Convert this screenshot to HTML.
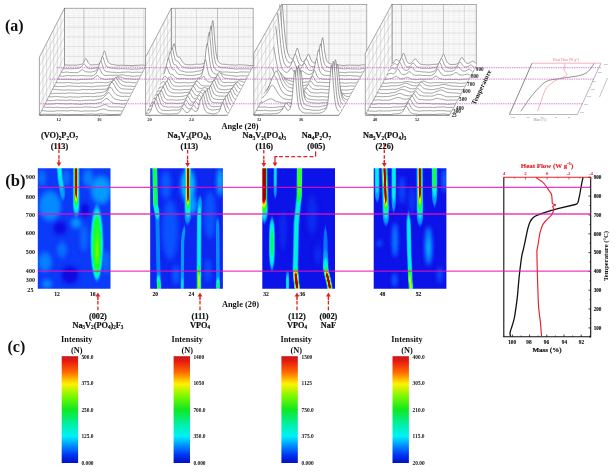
<!DOCTYPE html>
<html><head><meta charset="utf-8"><title>figure</title>
<style>html,body{margin:0;padding:0;background:#fff;}body{width:616px;height:472px;overflow:hidden;font-family:"Liberation Serif",serif;}svg{display:block;filter:blur(0.35px);}</style>
</head><body>
<svg width="616" height="472" viewBox="0 0 616 472" font-family="Liberation Serif, serif" font-weight="bold">
<defs>
<filter id="jet" x="0" y="0" width="1" height="1" color-interpolation-filters="sRGB"><feGaussianBlur stdDeviation="0.75 1.5"/><feComponentTransfer><feFuncR type="table" tableValues="0.07 0.05 0.04 0.02 0.00 0.00 0.00 0.00 0.00 0.15 0.30 0.55 0.80 0.90 1.00 1.00 1.00 0.90 0.80 0.71 0.62"/><feFuncG type="table" tableValues="0.00 0.05 0.30 0.55 0.80 0.90 1.00 1.00 1.00 1.00 1.00 1.00 1.00 0.93 0.85 0.62 0.40 0.23 0.05 0.03 0.00"/><feFuncB type="table" tableValues="0.80 0.90 1.00 1.00 1.00 0.90 0.80 0.55 0.30 0.15 0.00 0.00 0.00 0.00 0.00 0.00 0.00 0.00 0.00 0.00 0.00"/><feFuncA type="linear" slope="0" intercept="1"/></feComponentTransfer></filter>
<linearGradient id="cb" x1="0" y1="0" x2="0" y2="1"><stop offset="0" stop-color="#c81818"/><stop offset="0.05" stop-color="#e81c10"/><stop offset="0.15" stop-color="#ff6a00"/><stop offset="0.26" stop-color="#fff200"/><stop offset="0.37" stop-color="#80f800"/><stop offset="0.5" stop-color="#10e820"/><stop offset="0.63" stop-color="#00f0a0"/><stop offset="0.75" stop-color="#00f0f8"/><stop offset="0.85" stop-color="#0080ff"/><stop offset="0.93" stop-color="#0030f0"/><stop offset="1" stop-color="#0010c4"/></linearGradient>
<clipPath id="hc0"><rect x="37.8" y="168.3" width="72.7" height="120.5"/></clipPath>
<clipPath id="hc1"><rect x="150.2" y="168.3" width="72.7" height="120.5"/></clipPath>
<clipPath id="hc2"><rect x="262.3" y="168.3" width="72.7" height="120.5"/></clipPath>
<clipPath id="hc3"><rect x="373.7" y="168.3" width="72.7" height="120.5"/></clipPath>
<filter id="bl" x="-0.5" y="-0.5" width="2" height="2" color-interpolation-filters="sRGB"><feGaussianBlur stdDeviation="2.2"/></filter>
</defs>
<rect width="616" height="472" fill="#fff"/>
<text x="5" y="31" font-size="16" text-anchor="start" fill="#111" >(a)</text>
<rect x="64.5" y="8.2" width="81.2" height="57.8" fill="#fbfbfb" stroke="#6a6a6a" stroke-width="0.6"/>
<path d="M64.5 64.1h81.2M64.5 62.1h81.2M64.5 60.2h81.2M64.5 58.2h81.2M64.5 54.4h81.2M64.5 52.4h81.2M64.5 50.5h81.2M64.5 48.5h81.2M64.5 44.7h81.2M64.5 42.7h81.2M64.5 40.8h81.2M64.5 38.8h81.2M64.5 35h81.2M64.5 33h81.2M64.5 31.1h81.2M64.5 29.1h81.2M64.5 25.3h81.2M64.5 23.3h81.2M64.5 21.4h81.2M64.5 19.4h81.2M64.5 15.6h81.2M64.5 13.6h81.2M64.5 11.7h81.2M64.5 9.7h81.2M68.9 8.2v57.8M73.9 8.2v57.8M78.9 8.2v57.8M88.9 8.2v57.8M93.9 8.2v57.8M98.9 8.2v57.8M108.9 8.2v57.8M113.9 8.2v57.8M118.9 8.2v57.8M128.9 8.2v57.8M133.9 8.2v57.8M138.9 8.2v57.8" stroke="#ebebeb" stroke-width="0.5" fill="none"/>
<path d="M64.5 56.3h81.2M64.5 46.6h81.2M64.5 36.9h81.2M64.5 27.2h81.2M64.5 17.5h81.2M103.9 8.2v57.8M143.9 8.2v57.8" stroke="#c6c6c6" stroke-width="0.55" fill="none"/>
<path d="M83.9 8.2v57.8M123.9 8.2v57.8" stroke="#9c9c9c" stroke-width="0.6" fill="none"/>
<path d="M39.4 115L39.4 57.2L64.5 8.2L64.5 66Z" fill="#fcfcfc" stroke="#6a6a6a" stroke-width="0.6"/>
<path d="M39.4 105.3L64.5 56.3M39.4 95.6L64.5 46.6M39.4 85.9L64.5 36.9M39.4 76.2L64.5 27.2M39.4 66.5L64.5 17.5M43 108v-57.8M46.6 101v-57.8M50.2 94v-57.8M53.7 87v-57.8M57.3 80v-57.8M60.9 73v-57.8" stroke="#bcbcbc" stroke-width="0.5" fill="none"/>
<path d="M39.4 115h81.2L145.7 66" stroke="#666" stroke-width="0.6" fill="none"/>
<path d="M64.5 65.2L65.2 65L66 65L66.7 65L67.5 65L68.2 65.1L68.9 65.1L69.7 65.2L70.4 65.2L71.1 65.1L71.9 65.1L72.6 65.1L73.4 65.1L74.1 65.1L74.8 65.2L75.6 65.2L76.3 65.2L77 65.1L77.8 64.9L78.5 64.8L79.3 64.7L80 64.5L80.7 64.4L81.5 64.3L82.2 64L83 63.3L83.7 62.3L84.4 60.8L85.2 59.2L85.9 58.4L86.6 59.2L87.4 60.9L88.1 62.5L88.9 63.6L89.6 64.4L90.3 64.8L91.1 64.9L91.8 64.9L92.6 64.8L93.3 64.8L94 64.7L94.8 64.7L95.5 64.7L96.2 64.7L97 64.6L97.7 64.4L98.5 64.2L99.2 63.8L99.9 63.1L100.7 62.2L101.4 60.6L102.1 58.3L102.9 55.4L103.6 52.4L104.4 50.9L105.1 52.1L105.8 54.8L106.6 57.8L107.3 60.1L108.1 61.7L108.8 62.8L109.5 63.4L110.3 63.9L111 64.2L111.7 64.3L112.5 64.4L113.2 64.5L114 64.6L114.7 64.8L115.4 64.9L116.2 65.1L116.9 65.2L117.6 65.3L118.4 65.4L119.1 65.4L119.9 65.3L120.6 65.2L121.3 65.2L122.1 65.2L122.8 65.3L123.6 65.3L124.3 65.4L125 65.4L125.8 65.4L126.5 65.4L127.2 65.4L128 65.4L128.7 65.5L129.5 65.5L130.2 65.7L130.9 65.7L131.7 65.8L132.4 65.7L133.2 65.6L133.9 65.5L134.6 65.4L135.4 65.4L136.1 65.3L136.8 65.3L137.6 65.3L138.3 65.3L139.1 65.2L139.8 65.1L140.5 65.1L141.3 65L142 65L142.7 65.1L143.5 65.2L144.2 65.3L145 65.4L145.7 65.4L145.7 66.5L64.5 66.5Z" fill="#fff" stroke="none"/>
<path d="M64.5 65.2L65.2 65L66 65L66.7 65L67.5 65L68.2 65.1L68.9 65.1L69.7 65.2L70.4 65.2L71.1 65.1L71.9 65.1L72.6 65.1L73.4 65.1L74.1 65.1L74.8 65.2L75.6 65.2L76.3 65.2L77 65.1L77.8 64.9L78.5 64.8L79.3 64.7L80 64.5L80.7 64.4L81.5 64.3L82.2 64L83 63.3L83.7 62.3L84.4 60.8L85.2 59.2L85.9 58.4L86.6 59.2L87.4 60.9L88.1 62.5L88.9 63.6L89.6 64.4L90.3 64.8L91.1 64.9L91.8 64.9L92.6 64.8L93.3 64.8L94 64.7L94.8 64.7L95.5 64.7L96.2 64.7L97 64.6L97.7 64.4L98.5 64.2L99.2 63.8L99.9 63.1L100.7 62.2L101.4 60.6L102.1 58.3L102.9 55.4L103.6 52.4L104.4 50.9L105.1 52.1L105.8 54.8L106.6 57.8L107.3 60.1L108.1 61.7L108.8 62.8L109.5 63.4L110.3 63.9L111 64.2L111.7 64.3L112.5 64.4L113.2 64.5L114 64.6L114.7 64.8L115.4 64.9L116.2 65.1L116.9 65.2L117.6 65.3L118.4 65.4L119.1 65.4L119.9 65.3L120.6 65.2L121.3 65.2L122.1 65.2L122.8 65.3L123.6 65.3L124.3 65.4L125 65.4L125.8 65.4L126.5 65.4L127.2 65.4L128 65.4L128.7 65.5L129.5 65.5L130.2 65.7L130.9 65.7L131.7 65.8L132.4 65.7L133.2 65.6L133.9 65.5L134.6 65.4L135.4 65.4L136.1 65.3L136.8 65.3L137.6 65.3L138.3 65.3L139.1 65.2L139.8 65.1L140.5 65.1L141.3 65L142 65L142.7 65.1L143.5 65.2L144.2 65.3L145 65.4L145.7 65.4" fill="none" stroke="#666" stroke-width="0.62" stroke-linejoin="round"/>
<path d="M62.7 69.2L63.4 69.1L64.2 69L64.9 68.8L65.7 68.7L66.4 68.6L67.1 68.6L67.9 68.6L68.6 68.7L69.4 68.7L70.1 68.8L70.8 68.8L71.6 68.7L72.3 68.7L73 68.6L73.8 68.6L74.5 68.6L75.3 68.6L76 68.6L76.7 68.6L77.5 68.5L78.2 68.3L78.9 68.1L79.7 67.8L80.4 67.5L81.2 67L81.9 66.3L82.6 65.3L83.4 64.2L84.1 63.7L84.9 64.3L85.6 65.5L86.3 66.6L87.1 67.4L87.8 67.9L88.5 68.3L89.3 68.6L90 68.7L90.8 68.7L91.5 68.7L92.2 68.6L93 68.5L93.7 68.3L94.4 68.2L95.2 68.2L95.9 68.1L96.7 67.9L97.4 67.7L98.1 67.2L98.9 66.3L99.6 64.9L100.4 62.9L101.1 60.3L101.8 57.8L102.6 56.6L103.3 57.7L104 60.2L104.8 62.8L105.5 64.8L106.3 66.1L107 66.8L107.7 67.3L108.5 67.5L109.2 67.7L110 67.9L110.7 68.1L111.4 68.1L112.2 68.2L112.9 68.2L113.6 68.2L114.4 68.3L115.1 68.4L115.9 68.5L116.6 68.6L117.3 68.7L118.1 68.8L118.8 68.8L119.5 68.8L120.3 68.7L121 68.7L121.8 68.6L122.5 68.7L123.2 68.7L124 68.8L124.7 68.8L125.5 68.8L126.2 68.8L126.9 68.8L127.7 68.8L128.4 68.9L129.1 68.9L129.9 69.1L130.6 69.2L131.4 69.3L132.1 69.3L132.8 69.3L133.6 69.2L134.3 69.1L135 69.1L135.8 69L136.5 69L137.3 69L138 69L138.7 68.9L139.5 68.9L140.2 68.8L141 68.7L141.7 68.7L142.4 68.7L143.2 68.7L143.9 68.8L143.9 70L62.7 70Z" fill="#fff" stroke="none"/>
<path d="M62.7 69.2L63.4 69.1L64.2 69L64.9 68.8L65.7 68.7L66.4 68.6L67.1 68.6L67.9 68.6L68.6 68.7L69.4 68.7L70.1 68.8L70.8 68.8L71.6 68.7L72.3 68.7L73 68.6L73.8 68.6L74.5 68.6L75.3 68.6L76 68.6L76.7 68.6L77.5 68.5L78.2 68.3L78.9 68.1L79.7 67.8L80.4 67.5L81.2 67L81.9 66.3L82.6 65.3L83.4 64.2L84.1 63.7L84.9 64.3L85.6 65.5L86.3 66.6L87.1 67.4L87.8 67.9L88.5 68.3L89.3 68.6L90 68.7L90.8 68.7L91.5 68.7L92.2 68.6L93 68.5L93.7 68.3L94.4 68.2L95.2 68.2L95.9 68.1L96.7 67.9L97.4 67.7L98.1 67.2L98.9 66.3L99.6 64.9L100.4 62.9L101.1 60.3L101.8 57.8L102.6 56.6L103.3 57.7L104 60.2L104.8 62.8L105.5 64.8L106.3 66.1L107 66.8L107.7 67.3L108.5 67.5L109.2 67.7L110 67.9L110.7 68.1L111.4 68.1L112.2 68.2L112.9 68.2L113.6 68.2L114.4 68.3L115.1 68.4L115.9 68.5L116.6 68.6L117.3 68.7L118.1 68.8L118.8 68.8L119.5 68.8L120.3 68.7L121 68.7L121.8 68.6L122.5 68.7L123.2 68.7L124 68.8L124.7 68.8L125.5 68.8L126.2 68.8L126.9 68.8L127.7 68.8L128.4 68.9L129.1 68.9L129.9 69.1L130.6 69.2L131.4 69.3L132.1 69.3L132.8 69.3L133.6 69.2L134.3 69.1L135 69.1L135.8 69L136.5 69L137.3 69L138 69L138.7 68.9L139.5 68.9L140.2 68.8L141 68.7L141.7 68.7L142.4 68.7L143.2 68.7L143.9 68.8" fill="none" stroke="#666" stroke-width="0.62" stroke-linejoin="round"/>
<path d="M60.9 72.3L61.7 72.3L62.4 72.4L63.1 72.4L63.9 72.3L64.6 72.3L65.3 72.2L66.1 72.1L66.8 72.1L67.6 72.1L68.3 72.2L69 72.3L69.8 72.4L70.5 72.5L71.2 72.5L72 72.5L72.7 72.5L73.5 72.5L74.2 72.5L74.9 72.6L75.7 72.6L76.4 72.6L77.2 72.5L77.9 72.4L78.6 72.1L79.4 71.7L80.1 71.2L80.8 70.6L81.6 70L82.3 69.7L83.1 70.1L83.8 70.7L84.5 71.2L85.3 71.6L86 71.8L86.8 71.9L87.5 71.9L88.2 72L89 72L89.7 72.1L90.4 72.1L91.2 72L91.9 71.9L92.7 71.7L93.4 71.5L94.1 71.3L94.9 71.1L95.6 70.8L96.3 70.4L97.1 69.7L97.8 68.6L98.6 66.8L99.3 64.6L100 62.3L100.8 61.2L101.5 62.2L102.3 64.5L103 66.9L103.7 68.9L104.5 70.2L105.2 71L105.9 71.4L106.7 71.6L107.4 71.8L108.2 71.8L108.9 71.9L109.6 72L110.4 72.1L111.1 72.2L111.8 72.3L112.6 72.3L113.3 72.3L114.1 72.3L114.8 72.3L115.5 72.4L116.3 72.5L117 72.6L117.8 72.6L118.5 72.7L119.2 72.6L120 72.6L120.7 72.4L121.4 72.3L122.2 72.2L122.9 72.2L123.7 72.2L124.4 72.2L125.1 72.2L125.9 72.1L126.6 72.1L127.4 72L128.1 72L128.8 72L129.6 72.1L130.3 72.1L131 72.3L131.8 72.4L132.5 72.4L133.3 72.4L134 72.3L134.7 72.3L135.5 72.2L136.2 72.2L136.9 72.2L137.7 72.2L138.4 72.3L139.2 72.3L139.9 72.3L140.6 72.3L141.4 72.2L142.1 72.2L142.1 73.5L60.9 73.5Z" fill="#fff" stroke="none"/>
<path d="M60.9 72.3L61.7 72.3L62.4 72.4L63.1 72.4L63.9 72.3L64.6 72.3L65.3 72.2L66.1 72.1L66.8 72.1L67.6 72.1L68.3 72.2L69 72.3L69.8 72.4L70.5 72.5L71.2 72.5L72 72.5L72.7 72.5L73.5 72.5L74.2 72.5L74.9 72.6L75.7 72.6L76.4 72.6L77.2 72.5L77.9 72.4L78.6 72.1L79.4 71.7L80.1 71.2L80.8 70.6L81.6 70L82.3 69.7L83.1 70.1L83.8 70.7L84.5 71.2L85.3 71.6L86 71.8L86.8 71.9L87.5 71.9L88.2 72L89 72L89.7 72.1L90.4 72.1L91.2 72L91.9 71.9L92.7 71.7L93.4 71.5L94.1 71.3L94.9 71.1L95.6 70.8L96.3 70.4L97.1 69.7L97.8 68.6L98.6 66.8L99.3 64.6L100 62.3L100.8 61.2L101.5 62.2L102.3 64.5L103 66.9L103.7 68.9L104.5 70.2L105.2 71L105.9 71.4L106.7 71.6L107.4 71.8L108.2 71.8L108.9 71.9L109.6 72L110.4 72.1L111.1 72.2L111.8 72.3L112.6 72.3L113.3 72.3L114.1 72.3L114.8 72.3L115.5 72.4L116.3 72.5L117 72.6L117.8 72.6L118.5 72.7L119.2 72.6L120 72.6L120.7 72.4L121.4 72.3L122.2 72.2L122.9 72.2L123.7 72.2L124.4 72.2L125.1 72.2L125.9 72.1L126.6 72.1L127.4 72L128.1 72L128.8 72L129.6 72.1L130.3 72.1L131 72.3L131.8 72.4L132.5 72.4L133.3 72.4L134 72.3L134.7 72.3L135.5 72.2L136.2 72.2L136.9 72.2L137.7 72.2L138.4 72.3L139.2 72.3L139.9 72.3L140.6 72.3L141.4 72.2L142.1 72.2" fill="none" stroke="#666" stroke-width="0.62" stroke-linejoin="round"/>
<path d="M59.1 76.2L59.9 76.1L60.6 76.1L61.3 76.2L62.1 76.2L62.8 76.2L63.6 76.2L64.3 76.1L65 75.9L65.8 75.8L66.5 75.7L67.2 75.6L68 75.6L68.7 75.6L69.5 75.7L70.2 75.7L70.9 75.8L71.7 75.8L72.4 75.7L73.1 75.7L73.9 75.7L74.6 75.7L75.4 75.7L76.1 75.8L76.8 75.8L77.6 75.8L78.3 75.8L79.1 75.7L79.8 75.6L80.5 75.5L81.3 75.4L82 75.5L82.7 75.5L83.5 75.6L84.2 75.7L85 75.8L85.7 75.8L86.4 75.8L87.2 75.8L87.9 75.8L88.6 75.8L89.4 75.9L90.1 75.9L90.9 76L91.6 75.9L92.3 75.7L93.1 75.5L93.8 75.2L94.6 74.8L95.3 74.2L96 73.3L96.8 72.1L97.5 70.4L98.2 68.8L99 68L99.7 68.6L100.5 70.2L101.2 71.9L101.9 73.2L102.7 74.2L103.4 74.8L104.2 75.2L104.9 75.4L105.6 75.5L106.4 75.5L107.1 75.4L107.8 75.4L108.6 75.3L109.3 75.3L110.1 75.3L110.8 75.3L111.5 75.4L112.3 75.4L113 75.4L113.7 75.3L114.5 75.3L115.2 75.2L116 75.2L116.7 75.3L117.4 75.3L118.2 75.3L118.9 75.2L119.7 75.1L120.4 75L121.1 74.9L121.9 74.9L122.6 74.9L123.3 75.1L124.1 75.2L124.8 75.4L125.6 75.6L126.3 75.7L127 75.7L127.8 75.7L128.5 75.7L129.2 75.8L130 75.9L130.7 76L131.5 76.1L132.2 76.2L132.9 76.3L133.7 76.3L134.4 76.2L135.2 76.1L135.9 76L136.6 76L137.4 75.9L138.1 75.9L138.8 75.9L139.6 75.9L140.3 75.8L140.3 77L59.1 77Z" fill="#fff" stroke="none"/>
<path d="M59.1 76.2L59.9 76.1L60.6 76.1L61.3 76.2L62.1 76.2L62.8 76.2L63.6 76.2L64.3 76.1L65 75.9L65.8 75.8L66.5 75.7L67.2 75.6L68 75.6L68.7 75.6L69.5 75.7L70.2 75.7L70.9 75.8L71.7 75.8L72.4 75.7L73.1 75.7L73.9 75.7L74.6 75.7L75.4 75.7L76.1 75.8L76.8 75.8L77.6 75.8L78.3 75.8L79.1 75.7L79.8 75.6L80.5 75.5L81.3 75.4L82 75.5L82.7 75.5L83.5 75.6L84.2 75.7L85 75.8L85.7 75.8L86.4 75.8L87.2 75.8L87.9 75.8L88.6 75.8L89.4 75.9L90.1 75.9L90.9 76L91.6 75.9L92.3 75.7L93.1 75.5L93.8 75.2L94.6 74.8L95.3 74.2L96 73.3L96.8 72.1L97.5 70.4L98.2 68.8L99 68L99.7 68.6L100.5 70.2L101.2 71.9L101.9 73.2L102.7 74.2L103.4 74.8L104.2 75.2L104.9 75.4L105.6 75.5L106.4 75.5L107.1 75.4L107.8 75.4L108.6 75.3L109.3 75.3L110.1 75.3L110.8 75.3L111.5 75.4L112.3 75.4L113 75.4L113.7 75.3L114.5 75.3L115.2 75.2L116 75.2L116.7 75.3L117.4 75.3L118.2 75.3L118.9 75.2L119.7 75.1L120.4 75L121.1 74.9L121.9 74.9L122.6 74.9L123.3 75.1L124.1 75.2L124.8 75.4L125.6 75.6L126.3 75.7L127 75.7L127.8 75.7L128.5 75.7L129.2 75.8L130 75.9L130.7 76L131.5 76.1L132.2 76.2L132.9 76.3L133.7 76.3L134.4 76.2L135.2 76.1L135.9 76L136.6 76L137.4 75.9L138.1 75.9L138.8 75.9L139.6 75.9L140.3 75.8" fill="none" stroke="#666" stroke-width="0.62" stroke-linejoin="round"/>
<path d="M57.3 79.2L58.1 79.3L58.8 79.3L59.5 79.2L60.3 79.2L61 79.3L61.8 79.3L62.5 79.4L63.2 79.4L64 79.4L64.7 79.4L65.4 79.3L66.2 79.2L66.9 79.2L67.7 79.2L68.4 79.2L69.1 79.3L69.9 79.4L70.6 79.5L71.4 79.6L72.1 79.6L72.8 79.6L73.6 79.6L74.3 79.6L75 79.6L75.8 79.7L76.5 79.8L77.3 79.8L78 79.8L78.7 79.7L79.5 79.6L80.2 79.4L81 79.3L81.7 79.3L82.4 79.2L83.2 79.3L83.9 79.3L84.6 79.3L85.4 79.3L86.1 79.3L86.9 79.2L87.6 79.2L88.3 79.1L89.1 79.1L89.8 79.2L90.5 79.2L91.3 79.1L92 79L92.8 78.8L93.5 78.4L94.2 77.9L95 77.3L95.7 76.5L96.5 75.8L97.2 75.5L97.9 75.9L98.7 76.6L99.4 77.4L100.1 77.9L100.9 78.3L101.6 78.6L102.4 78.8L103.1 79L103.8 79.2L104.6 79.3L105.3 79.4L106 79.4L106.8 79.4L107.5 79.3L108.3 79.2L109 79.2L109.7 79.1L110.5 79.1L111.2 79.1L112 79L112.7 79L113.4 78.8L114.2 78.5L114.9 78.3L115.6 77.9L116.4 77.6L117.1 77.3L117.9 77L118.6 76.8L119.3 76.8L120.1 76.9L120.8 77.1L121.6 77.3L122.3 77.6L123 77.9L123.8 78.1L124.5 78.4L125.2 78.6L126 78.7L126.7 78.8L127.5 78.8L128.2 78.8L128.9 78.8L129.7 78.8L130.4 78.9L131.1 79L131.9 79.1L132.6 79.2L133.4 79.3L134.1 79.3L134.8 79.3L135.6 79.2L136.3 79.2L137.1 79.1L137.8 79.2L138.5 79.2L138.5 80.5L57.3 80.5Z" fill="#fff" stroke="none"/>
<path d="M57.3 79.2L58.1 79.3L58.8 79.3L59.5 79.2L60.3 79.2L61 79.3L61.8 79.3L62.5 79.4L63.2 79.4L64 79.4L64.7 79.4L65.4 79.3L66.2 79.2L66.9 79.2L67.7 79.2L68.4 79.2L69.1 79.3L69.9 79.4L70.6 79.5L71.4 79.6L72.1 79.6L72.8 79.6L73.6 79.6L74.3 79.6L75 79.6L75.8 79.7L76.5 79.8L77.3 79.8L78 79.8L78.7 79.7L79.5 79.6L80.2 79.4L81 79.3L81.7 79.3L82.4 79.2L83.2 79.3L83.9 79.3L84.6 79.3L85.4 79.3L86.1 79.3L86.9 79.2L87.6 79.2L88.3 79.1L89.1 79.1L89.8 79.2L90.5 79.2L91.3 79.1L92 79L92.8 78.8L93.5 78.4L94.2 77.9L95 77.3L95.7 76.5L96.5 75.8L97.2 75.5L97.9 75.9L98.7 76.6L99.4 77.4L100.1 77.9L100.9 78.3L101.6 78.6L102.4 78.8L103.1 79L103.8 79.2L104.6 79.3L105.3 79.4L106 79.4L106.8 79.4L107.5 79.3L108.3 79.2L109 79.2L109.7 79.1L110.5 79.1L111.2 79.1L112 79L112.7 79L113.4 78.8L114.2 78.5L114.9 78.3L115.6 77.9L116.4 77.6L117.1 77.3L117.9 77L118.6 76.8L119.3 76.8L120.1 76.9L120.8 77.1L121.6 77.3L122.3 77.6L123 77.9L123.8 78.1L124.5 78.4L125.2 78.6L126 78.7L126.7 78.8L127.5 78.8L128.2 78.8L128.9 78.8L129.7 78.8L130.4 78.9L131.1 79L131.9 79.1L132.6 79.2L133.4 79.3L134.1 79.3L134.8 79.3L135.6 79.2L136.3 79.2L137.1 79.1L137.8 79.2L138.5 79.2" fill="none" stroke="#666" stroke-width="0.62" stroke-linejoin="round"/>
<path d="M55.5 82.6L56.3 82.7L57 82.7L57.8 82.8L58.5 82.8L59.2 82.8L60 82.7L60.7 82.7L61.4 82.7L62.2 82.8L62.9 82.8L63.7 82.8L64.4 82.9L65.1 82.8L65.9 82.7L66.6 82.6L67.3 82.5L68.1 82.5L68.8 82.6L69.6 82.6L70.3 82.7L71 82.8L71.8 82.9L72.5 83L73.3 83L74 83L74.7 83L75.5 83.1L76.2 83.1L76.9 83.2L77.7 83.3L78.4 83.3L79.2 83.2L79.9 83.1L80.6 83L81.4 82.9L82.1 82.9L82.8 82.9L83.6 82.9L84.3 82.9L85.1 83L85.8 83L86.5 83L87.3 82.9L88 82.9L88.8 82.9L89.5 82.9L90.2 82.9L91 83L91.7 83L92.4 83L93.2 82.9L93.9 82.7L94.7 82.6L95.4 82.5L96.1 82.4L96.9 82.4L97.6 82.4L98.4 82.5L99.1 82.5L99.8 82.5L100.6 82.4L101.3 82.4L102 82.4L102.8 82.5L103.5 82.5L104.3 82.6L105 82.7L105.7 82.7L106.5 82.7L107.2 82.6L107.9 82.5L108.7 82.3L109.4 82.1L110.2 81.9L110.9 81.7L111.6 81.5L112.4 81.1L113.1 80.6L113.9 80L114.6 79.2L115.3 78.4L116.1 77.7L116.8 77.2L117.5 77.1L118.3 77.5L119 78.2L119.8 79L120.5 79.8L121.2 80.4L122 80.9L122.7 81.3L123.4 81.6L124.2 81.9L124.9 82.1L125.7 82.2L126.4 82.3L127.1 82.3L127.9 82.3L128.6 82.3L129.4 82.3L130.1 82.3L130.8 82.4L131.6 82.5L132.3 82.6L133 82.7L133.8 82.8L134.5 82.8L135.3 82.7L136 82.6L136.7 82.6L136.7 84L55.5 84Z" fill="#fff" stroke="none"/>
<path d="M55.5 82.6L56.3 82.7L57 82.7L57.8 82.8L58.5 82.8L59.2 82.8L60 82.7L60.7 82.7L61.4 82.7L62.2 82.8L62.9 82.8L63.7 82.8L64.4 82.9L65.1 82.8L65.9 82.7L66.6 82.6L67.3 82.5L68.1 82.5L68.8 82.6L69.6 82.6L70.3 82.7L71 82.8L71.8 82.9L72.5 83L73.3 83L74 83L74.7 83L75.5 83.1L76.2 83.1L76.9 83.2L77.7 83.3L78.4 83.3L79.2 83.2L79.9 83.1L80.6 83L81.4 82.9L82.1 82.9L82.8 82.9L83.6 82.9L84.3 82.9L85.1 83L85.8 83L86.5 83L87.3 82.9L88 82.9L88.8 82.9L89.5 82.9L90.2 82.9L91 83L91.7 83L92.4 83L93.2 82.9L93.9 82.7L94.7 82.6L95.4 82.5L96.1 82.4L96.9 82.4L97.6 82.4L98.4 82.5L99.1 82.5L99.8 82.5L100.6 82.4L101.3 82.4L102 82.4L102.8 82.5L103.5 82.5L104.3 82.6L105 82.7L105.7 82.7L106.5 82.7L107.2 82.6L107.9 82.5L108.7 82.3L109.4 82.1L110.2 81.9L110.9 81.7L111.6 81.5L112.4 81.1L113.1 80.6L113.9 80L114.6 79.2L115.3 78.4L116.1 77.7L116.8 77.2L117.5 77.1L118.3 77.5L119 78.2L119.8 79L120.5 79.8L121.2 80.4L122 80.9L122.7 81.3L123.4 81.6L124.2 81.9L124.9 82.1L125.7 82.2L126.4 82.3L127.1 82.3L127.9 82.3L128.6 82.3L129.4 82.3L130.1 82.3L130.8 82.4L131.6 82.5L132.3 82.6L133 82.7L133.8 82.8L134.5 82.8L135.3 82.7L136 82.6L136.7 82.6" fill="none" stroke="#666" stroke-width="0.62" stroke-linejoin="round"/>
<path d="M53.7 86.4L54.5 86.3L55.2 86.3L56 86.4L56.7 86.5L57.4 86.5L58.2 86.6L58.9 86.6L59.6 86.5L60.4 86.5L61.1 86.5L61.9 86.4L62.6 86.5L63.3 86.5L64.1 86.5L64.8 86.4L65.6 86.4L66.3 86.2L67 86.1L67.8 86L68.5 85.9L69.2 85.9L70 86L70.7 86L71.5 86.1L72.2 86.2L72.9 86.2L73.7 86.2L74.4 86.2L75.2 86.2L75.9 86.3L76.6 86.3L77.4 86.4L78.1 86.5L78.8 86.5L79.6 86.5L80.3 86.4L81.1 86.3L81.8 86.2L82.5 86.2L83.3 86.2L84 86.3L84.7 86.4L85.5 86.4L86.2 86.5L87 86.5L87.7 86.5L88.4 86.5L89.2 86.5L89.9 86.6L90.7 86.6L91.4 86.7L92.1 86.7L92.9 86.7L93.6 86.6L94.3 86.5L95.1 86.3L95.8 86.2L96.6 86.1L97.3 86.1L98 86.1L98.8 86.1L99.5 86.1L100.2 86L101 85.9L101.7 85.9L102.5 85.8L103.2 85.8L103.9 85.8L104.7 85.8L105.4 85.8L106.2 85.7L106.9 85.6L107.6 85.3L108.4 85L109.1 84.6L109.8 84.1L110.6 83.5L111.3 82.7L112.1 81.9L112.8 80.8L113.5 79.7L114.3 78.7L115 77.9L115.8 77.7L116.5 78.1L117.2 79.1L118 80.3L118.7 81.5L119.4 82.7L120.2 83.6L120.9 84.3L121.7 84.8L122.4 85.2L123.1 85.4L123.9 85.6L124.6 85.7L125.3 85.9L126.1 86L126.8 86.1L127.6 86.1L128.3 86.1L129 86.1L129.8 86.1L130.5 86.1L131.3 86.2L132 86.3L132.7 86.4L133.5 86.5L134.2 86.5L134.9 86.5L134.9 87.5L53.7 87.5Z" fill="#fff" stroke="none"/>
<path d="M53.7 86.4L54.5 86.3L55.2 86.3L56 86.4L56.7 86.5L57.4 86.5L58.2 86.6L58.9 86.6L59.6 86.5L60.4 86.5L61.1 86.5L61.9 86.4L62.6 86.5L63.3 86.5L64.1 86.5L64.8 86.4L65.6 86.4L66.3 86.2L67 86.1L67.8 86L68.5 85.9L69.2 85.9L70 86L70.7 86L71.5 86.1L72.2 86.2L72.9 86.2L73.7 86.2L74.4 86.2L75.2 86.2L75.9 86.3L76.6 86.3L77.4 86.4L78.1 86.5L78.8 86.5L79.6 86.5L80.3 86.4L81.1 86.3L81.8 86.2L82.5 86.2L83.3 86.2L84 86.3L84.7 86.4L85.5 86.4L86.2 86.5L87 86.5L87.7 86.5L88.4 86.5L89.2 86.5L89.9 86.6L90.7 86.6L91.4 86.7L92.1 86.7L92.9 86.7L93.6 86.6L94.3 86.5L95.1 86.3L95.8 86.2L96.6 86.1L97.3 86.1L98 86.1L98.8 86.1L99.5 86.1L100.2 86L101 85.9L101.7 85.9L102.5 85.8L103.2 85.8L103.9 85.8L104.7 85.8L105.4 85.8L106.2 85.7L106.9 85.6L107.6 85.3L108.4 85L109.1 84.6L109.8 84.1L110.6 83.5L111.3 82.7L112.1 81.9L112.8 80.8L113.5 79.7L114.3 78.7L115 77.9L115.8 77.7L116.5 78.1L117.2 79.1L118 80.3L118.7 81.5L119.4 82.7L120.2 83.6L120.9 84.3L121.7 84.8L122.4 85.2L123.1 85.4L123.9 85.6L124.6 85.7L125.3 85.9L126.1 86L126.8 86.1L127.6 86.1L128.3 86.1L129 86.1L129.8 86.1L130.5 86.1L131.3 86.2L132 86.3L132.7 86.4L133.5 86.5L134.2 86.5L134.9 86.5" fill="none" stroke="#666" stroke-width="0.62" stroke-linejoin="round"/>
<path d="M52 89.8L52.7 89.7L53.4 89.6L54.2 89.5L54.9 89.4L55.6 89.4L56.4 89.5L57.1 89.6L57.9 89.7L58.6 89.8L59.3 89.8L60.1 89.8L60.8 89.8L61.5 89.9L62.3 89.9L63 90L63.8 90.1L64.5 90.1L65.2 90.1L66 90.1L66.7 90L67.5 89.9L68.2 89.9L68.9 89.8L69.7 89.8L70.4 89.9L71.1 90L71.9 90L72.6 90.1L73.4 90.1L74.1 90.1L74.8 90L75.6 90L76.3 90.1L77 90.1L77.8 90.1L78.5 90.2L79.3 90.1L80 90L80.7 89.9L81.5 89.7L82.2 89.6L83 89.5L83.7 89.5L84.4 89.5L85.2 89.6L85.9 89.6L86.6 89.6L87.4 89.6L88.1 89.5L88.9 89.5L89.6 89.5L90.3 89.6L91.1 89.6L91.8 89.7L92.6 89.8L93.3 89.7L94 89.7L94.8 89.6L95.5 89.5L96.2 89.4L97 89.3L97.7 89.4L98.5 89.4L99.2 89.4L99.9 89.4L100.7 89.4L101.4 89.4L102.1 89.3L102.9 89.3L103.6 89.2L104.4 89.2L105.1 89.2L105.8 89.1L106.6 88.9L107.3 88.5L108.1 87.9L108.8 87.1L109.5 86.1L110.3 85L111 83.7L111.7 82.4L112.5 81.2L113.2 80.3L114 80L114.7 80.4L115.4 81.4L116.2 82.6L116.9 83.9L117.6 85.1L118.4 86.2L119.1 87.1L119.9 87.8L120.6 88.3L121.3 88.6L122.1 88.8L122.8 88.9L123.6 88.9L124.3 89L125 89L125.8 89.1L126.5 89.2L127.2 89.2L128 89.2L128.7 89.2L129.5 89.2L130.2 89.2L130.9 89.3L131.7 89.4L132.4 89.5L133.2 89.6L133.2 91L52 91Z" fill="#fff" stroke="none"/>
<path d="M52 89.8L52.7 89.7L53.4 89.6L54.2 89.5L54.9 89.4L55.6 89.4L56.4 89.5L57.1 89.6L57.9 89.7L58.6 89.8L59.3 89.8L60.1 89.8L60.8 89.8L61.5 89.9L62.3 89.9L63 90L63.8 90.1L64.5 90.1L65.2 90.1L66 90.1L66.7 90L67.5 89.9L68.2 89.9L68.9 89.8L69.7 89.8L70.4 89.9L71.1 90L71.9 90L72.6 90.1L73.4 90.1L74.1 90.1L74.8 90L75.6 90L76.3 90.1L77 90.1L77.8 90.1L78.5 90.2L79.3 90.1L80 90L80.7 89.9L81.5 89.7L82.2 89.6L83 89.5L83.7 89.5L84.4 89.5L85.2 89.6L85.9 89.6L86.6 89.6L87.4 89.6L88.1 89.5L88.9 89.5L89.6 89.5L90.3 89.6L91.1 89.6L91.8 89.7L92.6 89.8L93.3 89.7L94 89.7L94.8 89.6L95.5 89.5L96.2 89.4L97 89.3L97.7 89.4L98.5 89.4L99.2 89.4L99.9 89.4L100.7 89.4L101.4 89.4L102.1 89.3L102.9 89.3L103.6 89.2L104.4 89.2L105.1 89.2L105.8 89.1L106.6 88.9L107.3 88.5L108.1 87.9L108.8 87.1L109.5 86.1L110.3 85L111 83.7L111.7 82.4L112.5 81.2L113.2 80.3L114 80L114.7 80.4L115.4 81.4L116.2 82.6L116.9 83.9L117.6 85.1L118.4 86.2L119.1 87.1L119.9 87.8L120.6 88.3L121.3 88.6L122.1 88.8L122.8 88.9L123.6 88.9L124.3 89L125 89L125.8 89.1L126.5 89.2L127.2 89.2L128 89.2L128.7 89.2L129.5 89.2L130.2 89.2L130.9 89.3L131.7 89.4L132.4 89.5L133.2 89.6" fill="none" stroke="#666" stroke-width="0.62" stroke-linejoin="round"/>
<path d="M50.2 93.7L50.9 93.7L51.6 93.7L52.4 93.7L53.1 93.6L53.8 93.4L54.6 93.3L55.3 93.3L56.1 93.2L56.8 93.3L57.5 93.3L58.3 93.4L59 93.4L59.8 93.4L60.5 93.4L61.2 93.3L62 93.3L62.7 93.3L63.4 93.3L64.2 93.4L64.9 93.4L65.7 93.4L66.4 93.3L67.1 93.2L67.9 93.1L68.6 93L69.3 92.9L70.1 92.9L70.8 93L71.6 93.1L72.3 93.1L73 93.2L73.8 93.2L74.5 93.2L75.3 93.2L76 93.3L76.7 93.3L77.5 93.4L78.2 93.5L78.9 93.6L79.7 93.6L80.4 93.6L81.2 93.5L81.9 93.4L82.6 93.3L83.4 93.3L84.1 93.3L84.9 93.3L85.6 93.4L86.3 93.4L87.1 93.4L87.8 93.4L88.5 93.4L89.3 93.4L90 93.4L90.8 93.4L91.5 93.5L92.2 93.5L93 93.5L93.7 93.5L94.4 93.4L95.2 93.2L95.9 93L96.7 92.9L97.4 92.8L98.1 92.7L98.9 92.7L99.6 92.6L100.4 92.6L101.1 92.5L101.8 92.3L102.6 92.2L103.3 92L104 91.8L104.8 91.6L105.5 91.2L106.3 90.8L107 90.1L107.7 89.1L108.5 87.9L109.2 86.4L109.9 84.9L110.7 83.5L111.4 82.5L112.2 82.2L112.9 82.8L113.6 84L114.4 85.4L115.1 86.8L115.9 88.1L116.6 89.3L117.3 90.2L118.1 91L118.8 91.6L119.5 92.1L120.3 92.5L121 92.8L121.8 93L122.5 93L123.2 93L124 93L124.7 93L125.5 93.1L126.2 93.1L126.9 93.2L127.7 93.2L128.4 93.2L129.1 93.1L129.9 93.1L130.6 93L131.4 93L131.4 94.5L50.2 94.5Z" fill="#fff" stroke="none"/>
<path d="M50.2 93.7L50.9 93.7L51.6 93.7L52.4 93.7L53.1 93.6L53.8 93.4L54.6 93.3L55.3 93.3L56.1 93.2L56.8 93.3L57.5 93.3L58.3 93.4L59 93.4L59.8 93.4L60.5 93.4L61.2 93.3L62 93.3L62.7 93.3L63.4 93.3L64.2 93.4L64.9 93.4L65.7 93.4L66.4 93.3L67.1 93.2L67.9 93.1L68.6 93L69.3 92.9L70.1 92.9L70.8 93L71.6 93.1L72.3 93.1L73 93.2L73.8 93.2L74.5 93.2L75.3 93.2L76 93.3L76.7 93.3L77.5 93.4L78.2 93.5L78.9 93.6L79.7 93.6L80.4 93.6L81.2 93.5L81.9 93.4L82.6 93.3L83.4 93.3L84.1 93.3L84.9 93.3L85.6 93.4L86.3 93.4L87.1 93.4L87.8 93.4L88.5 93.4L89.3 93.4L90 93.4L90.8 93.4L91.5 93.5L92.2 93.5L93 93.5L93.7 93.5L94.4 93.4L95.2 93.2L95.9 93L96.7 92.9L97.4 92.8L98.1 92.7L98.9 92.7L99.6 92.6L100.4 92.6L101.1 92.5L101.8 92.3L102.6 92.2L103.3 92L104 91.8L104.8 91.6L105.5 91.2L106.3 90.8L107 90.1L107.7 89.1L108.5 87.9L109.2 86.4L109.9 84.9L110.7 83.5L111.4 82.5L112.2 82.2L112.9 82.8L113.6 84L114.4 85.4L115.1 86.8L115.9 88.1L116.6 89.3L117.3 90.2L118.1 91L118.8 91.6L119.5 92.1L120.3 92.5L121 92.8L121.8 93L122.5 93L123.2 93L124 93L124.7 93L125.5 93.1L126.2 93.1L126.9 93.2L127.7 93.2L128.4 93.2L129.1 93.1L129.9 93.1L130.6 93L131.4 93" fill="none" stroke="#666" stroke-width="0.62" stroke-linejoin="round"/>
<path d="M48.4 96.8L49.1 96.8L49.8 96.8L50.6 96.8L51.3 96.8L52.1 96.8L52.8 96.8L53.5 96.7L54.3 96.6L55 96.5L55.7 96.4L56.5 96.5L57.2 96.5L58 96.6L58.7 96.7L59.4 96.8L60.2 96.9L60.9 96.9L61.7 96.9L62.4 96.9L63.1 97L63.9 97L64.6 97.1L65.3 97.2L66.1 97.2L66.8 97.2L67.6 97.1L68.3 97L69 96.9L69.8 96.8L70.5 96.8L71.2 96.9L72 97L72.7 97L73.5 97L74.2 97L74.9 97L75.7 97L76.4 97L77.2 97L77.9 97L78.6 97.1L79.4 97.1L80.1 97L80.8 96.9L81.6 96.8L82.3 96.7L83.1 96.5L83.8 96.5L84.5 96.4L85.3 96.5L86 96.5L86.7 96.5L87.5 96.5L88.2 96.5L89 96.4L89.7 96.4L90.4 96.4L91.2 96.5L91.9 96.6L92.7 96.7L93.4 96.7L94.1 96.7L94.9 96.6L95.6 96.5L96.3 96.4L97.1 96.3L97.8 96.2L98.6 96.2L99.3 96.2L100 96.1L100.8 96.1L101.5 95.9L102.3 95.7L103 95.4L103.7 95.1L104.5 94.6L105.2 94L105.9 93.3L106.7 92.3L107.4 91.1L108.2 89.8L108.9 88.5L109.6 87.5L110.4 87.1L111.1 87.5L111.8 88.5L112.6 89.7L113.3 91.1L114.1 92.3L114.8 93.3L115.5 94L116.3 94.6L117 95L117.8 95.3L118.5 95.6L119.2 95.9L120 96.1L120.7 96.3L121.4 96.4L122.2 96.4L122.9 96.4L123.7 96.4L124.4 96.3L125.1 96.3L125.9 96.3L126.6 96.3L127.3 96.4L128.1 96.4L128.8 96.4L129.6 96.4L129.6 98L48.4 98Z" fill="#fff" stroke="none"/>
<path d="M48.4 96.8L49.1 96.8L49.8 96.8L50.6 96.8L51.3 96.8L52.1 96.8L52.8 96.8L53.5 96.7L54.3 96.6L55 96.5L55.7 96.4L56.5 96.5L57.2 96.5L58 96.6L58.7 96.7L59.4 96.8L60.2 96.9L60.9 96.9L61.7 96.9L62.4 96.9L63.1 97L63.9 97L64.6 97.1L65.3 97.2L66.1 97.2L66.8 97.2L67.6 97.1L68.3 97L69 96.9L69.8 96.8L70.5 96.8L71.2 96.9L72 97L72.7 97L73.5 97L74.2 97L74.9 97L75.7 97L76.4 97L77.2 97L77.9 97L78.6 97.1L79.4 97.1L80.1 97L80.8 96.9L81.6 96.8L82.3 96.7L83.1 96.5L83.8 96.5L84.5 96.4L85.3 96.5L86 96.5L86.7 96.5L87.5 96.5L88.2 96.5L89 96.4L89.7 96.4L90.4 96.4L91.2 96.5L91.9 96.6L92.7 96.7L93.4 96.7L94.1 96.7L94.9 96.6L95.6 96.5L96.3 96.4L97.1 96.3L97.8 96.2L98.6 96.2L99.3 96.2L100 96.1L100.8 96.1L101.5 95.9L102.3 95.7L103 95.4L103.7 95.1L104.5 94.6L105.2 94L105.9 93.3L106.7 92.3L107.4 91.1L108.2 89.8L108.9 88.5L109.6 87.5L110.4 87.1L111.1 87.5L111.8 88.5L112.6 89.7L113.3 91.1L114.1 92.3L114.8 93.3L115.5 94L116.3 94.6L117 95L117.8 95.3L118.5 95.6L119.2 95.9L120 96.1L120.7 96.3L121.4 96.4L122.2 96.4L122.9 96.4L123.7 96.4L124.4 96.3L125.1 96.3L125.9 96.3L126.6 96.3L127.3 96.4L128.1 96.4L128.8 96.4L129.6 96.4" fill="none" stroke="#666" stroke-width="0.62" stroke-linejoin="round"/>
<path d="M46.6 100.7L47.3 100.7L48 100.7L48.8 100.6L49.5 100.6L50.3 100.6L51 100.6L51.7 100.6L52.5 100.6L53.2 100.5L54 100.4L54.7 100.3L55.4 100.2L56.2 100.1L56.9 100L57.6 100.1L58.4 100.1L59.1 100.2L59.9 100.2L60.6 100.2L61.3 100.2L62.1 100.2L62.8 100.2L63.5 100.2L64.3 100.3L65 100.3L65.8 100.4L66.5 100.4L67.2 100.3L68 100.2L68.7 100.1L69.5 100.1L70.2 100L70.9 100.1L71.7 100.1L72.4 100.2L73.1 100.3L73.9 100.4L74.6 100.4L75.4 100.4L76.1 100.4L76.8 100.5L77.6 100.5L78.3 100.6L79.1 100.7L79.8 100.8L80.5 100.8L81.3 100.7L82 100.6L82.7 100.5L83.5 100.4L84.2 100.3L85 100.3L85.7 100.3L86.4 100.3L87.2 100.3L87.9 100.3L88.6 100.3L89.4 100.2L90.1 100.2L90.9 100.2L91.6 100.2L92.3 100.2L93.1 100.3L93.8 100.3L94.6 100.2L95.3 100.1L96 99.9L96.8 99.8L97.5 99.6L98.2 99.5L99 99.4L99.7 99.3L100.5 99.1L101.2 98.9L101.9 98.6L102.7 98.2L103.4 97.6L104.1 96.9L104.9 96.1L105.6 95.2L106.4 94.3L107.1 93.4L107.8 92.8L108.6 92.6L109.3 92.9L110.1 93.7L110.8 94.7L111.5 95.7L112.3 96.6L113 97.5L113.7 98.2L114.5 98.7L115.2 99.1L116 99.4L116.7 99.5L117.4 99.7L118.2 99.8L118.9 99.9L119.7 100.1L120.4 100.3L121.1 100.4L121.9 100.5L122.6 100.5L123.3 100.5L124.1 100.4L124.8 100.3L125.6 100.3L126.3 100.2L127 100.2L127.8 100.2L127.8 101.5L46.6 101.5Z" fill="#fff" stroke="none"/>
<path d="M46.6 100.7L47.3 100.7L48 100.7L48.8 100.6L49.5 100.6L50.3 100.6L51 100.6L51.7 100.6L52.5 100.6L53.2 100.5L54 100.4L54.7 100.3L55.4 100.2L56.2 100.1L56.9 100L57.6 100.1L58.4 100.1L59.1 100.2L59.9 100.2L60.6 100.2L61.3 100.2L62.1 100.2L62.8 100.2L63.5 100.2L64.3 100.3L65 100.3L65.8 100.4L66.5 100.4L67.2 100.3L68 100.2L68.7 100.1L69.5 100.1L70.2 100L70.9 100.1L71.7 100.1L72.4 100.2L73.1 100.3L73.9 100.4L74.6 100.4L75.4 100.4L76.1 100.4L76.8 100.5L77.6 100.5L78.3 100.6L79.1 100.7L79.8 100.8L80.5 100.8L81.3 100.7L82 100.6L82.7 100.5L83.5 100.4L84.2 100.3L85 100.3L85.7 100.3L86.4 100.3L87.2 100.3L87.9 100.3L88.6 100.3L89.4 100.2L90.1 100.2L90.9 100.2L91.6 100.2L92.3 100.2L93.1 100.3L93.8 100.3L94.6 100.2L95.3 100.1L96 99.9L96.8 99.8L97.5 99.6L98.2 99.5L99 99.4L99.7 99.3L100.5 99.1L101.2 98.9L101.9 98.6L102.7 98.2L103.4 97.6L104.1 96.9L104.9 96.1L105.6 95.2L106.4 94.3L107.1 93.4L107.8 92.8L108.6 92.6L109.3 92.9L110.1 93.7L110.8 94.7L111.5 95.7L112.3 96.6L113 97.5L113.7 98.2L114.5 98.7L115.2 99.1L116 99.4L116.7 99.5L117.4 99.7L118.2 99.8L118.9 99.9L119.7 100.1L120.4 100.3L121.1 100.4L121.9 100.5L122.6 100.5L123.3 100.5L124.1 100.4L124.8 100.3L125.6 100.3L126.3 100.2L127 100.2L127.8 100.2" fill="none" stroke="#666" stroke-width="0.62" stroke-linejoin="round"/>
<path d="M44.8 104L45.5 104.1L46.3 104.1L47 104.1L47.7 104.1L48.5 104.1L49.2 104L49.9 104L50.7 104L51.4 104L52.2 104L52.9 104L53.6 103.9L54.4 103.8L55.1 103.7L55.9 103.6L56.6 103.5L57.3 103.5L58.1 103.5L58.8 103.6L59.5 103.6L60.3 103.7L61 103.7L61.8 103.7L62.5 103.7L63.2 103.7L64 103.7L64.7 103.8L65.4 103.9L66.2 103.9L66.9 104L67.7 103.9L68.4 103.9L69.1 103.8L69.9 103.7L70.6 103.7L71.4 103.7L72.1 103.8L72.8 103.8L73.6 103.9L74.3 104L75 104L75.8 104L76.5 104L77.3 104L78 104.1L78.7 104.2L79.5 104.2L80.2 104.3L80.9 104.3L81.7 104.2L82.4 104.1L83.2 104L83.9 103.8L84.6 103.8L85.4 103.7L86.1 103.7L86.9 103.8L87.6 103.8L88.3 103.7L89.1 103.7L89.8 103.6L90.5 103.6L91.3 103.6L92 103.6L92.8 103.6L93.5 103.7L94.2 103.7L95 103.6L95.7 103.5L96.5 103.4L97.2 103.2L97.9 103L98.7 102.9L99.4 102.7L100.1 102.6L100.9 102.3L101.6 102L102.4 101.5L103.1 100.9L103.8 100.2L104.6 99.5L105.3 98.9L106 98.5L106.8 98.5L107.5 98.9L108.3 99.5L109 100.2L109.7 100.9L110.5 101.5L111.2 102L112 102.4L112.7 102.8L113.4 103.1L114.2 103.3L114.9 103.4L115.6 103.5L116.4 103.6L117.1 103.6L117.9 103.6L118.6 103.6L119.3 103.7L120.1 103.8L120.8 103.9L121.5 104L122.3 104.1L123 104.1L123.8 104L124.5 103.9L125.2 103.8L126 103.8L126 105L44.8 105Z" fill="#fff" stroke="none"/>
<path d="M44.8 104L45.5 104.1L46.3 104.1L47 104.1L47.7 104.1L48.5 104.1L49.2 104L49.9 104L50.7 104L51.4 104L52.2 104L52.9 104L53.6 103.9L54.4 103.8L55.1 103.7L55.9 103.6L56.6 103.5L57.3 103.5L58.1 103.5L58.8 103.6L59.5 103.6L60.3 103.7L61 103.7L61.8 103.7L62.5 103.7L63.2 103.7L64 103.7L64.7 103.8L65.4 103.9L66.2 103.9L66.9 104L67.7 103.9L68.4 103.9L69.1 103.8L69.9 103.7L70.6 103.7L71.4 103.7L72.1 103.8L72.8 103.8L73.6 103.9L74.3 104L75 104L75.8 104L76.5 104L77.3 104L78 104.1L78.7 104.2L79.5 104.2L80.2 104.3L80.9 104.3L81.7 104.2L82.4 104.1L83.2 104L83.9 103.8L84.6 103.8L85.4 103.7L86.1 103.7L86.9 103.8L87.6 103.8L88.3 103.7L89.1 103.7L89.8 103.6L90.5 103.6L91.3 103.6L92 103.6L92.8 103.6L93.5 103.7L94.2 103.7L95 103.6L95.7 103.5L96.5 103.4L97.2 103.2L97.9 103L98.7 102.9L99.4 102.7L100.1 102.6L100.9 102.3L101.6 102L102.4 101.5L103.1 100.9L103.8 100.2L104.6 99.5L105.3 98.9L106 98.5L106.8 98.5L107.5 98.9L108.3 99.5L109 100.2L109.7 100.9L110.5 101.5L111.2 102L112 102.4L112.7 102.8L113.4 103.1L114.2 103.3L114.9 103.4L115.6 103.5L116.4 103.6L117.1 103.6L117.9 103.6L118.6 103.6L119.3 103.7L120.1 103.8L120.8 103.9L121.5 104L122.3 104.1L123 104.1L123.8 104L124.5 103.9L125.2 103.8L126 103.8" fill="none" stroke="#666" stroke-width="0.62" stroke-linejoin="round"/>
<path d="M43 107L43.7 107L44.5 107L45.2 107.1L45.9 107.2L46.7 107.2L47.4 107.3L48.2 107.3L48.9 107.2L49.6 107.2L50.4 107.3L51.1 107.3L51.8 107.4L52.6 107.4L53.3 107.5L54.1 107.4L54.8 107.4L55.5 107.3L56.3 107.2L57 107.2L57.7 107.2L58.5 107.3L59.2 107.4L60 107.5L60.7 107.5L61.4 107.6L62.2 107.6L62.9 107.6L63.7 107.6L64.4 107.6L65.1 107.7L65.9 107.8L66.6 107.8L67.3 107.8L68.1 107.7L68.8 107.6L69.6 107.5L70.3 107.4L71 107.3L71.8 107.3L72.5 107.3L73.3 107.3L74 107.4L74.7 107.4L75.5 107.3L76.2 107.3L76.9 107.3L77.7 107.3L78.4 107.3L79.2 107.3L79.9 107.4L80.6 107.4L81.4 107.4L82.1 107.3L82.8 107.2L83.6 107.1L84.3 107L85.1 106.9L85.8 106.9L86.5 107L87.3 107L88 107.1L88.8 107.1L89.5 107.1L90.2 107.1L91 107.1L91.7 107.1L92.4 107.2L93.2 107.3L93.9 107.4L94.7 107.5L95.4 107.5L96.1 107.4L96.9 107.2L97.6 107.1L98.3 106.9L99.1 106.7L99.8 106.5L100.6 106.3L101.3 106L102 105.7L102.8 105.3L103.5 104.9L104.3 104.5L105 104.5L105.7 104.6L106.5 105L107.2 105.5L107.9 106L108.7 106.4L109.4 106.6L110.2 106.8L110.9 106.9L111.6 106.9L112.4 106.9L113.1 106.9L113.9 107L114.6 107L115.3 107L116.1 107L116.8 107L117.5 106.9L118.3 106.9L119 106.9L119.8 106.9L120.5 107.1L121.2 107.2L122 107.3L122.7 107.3L123.4 107.4L124.2 107.3L124.2 108.5L43 108.5Z" fill="#fff" stroke="none"/>
<path d="M43 107L43.7 107L44.5 107L45.2 107.1L45.9 107.2L46.7 107.2L47.4 107.3L48.2 107.3L48.9 107.2L49.6 107.2L50.4 107.3L51.1 107.3L51.8 107.4L52.6 107.4L53.3 107.5L54.1 107.4L54.8 107.4L55.5 107.3L56.3 107.2L57 107.2L57.7 107.2L58.5 107.3L59.2 107.4L60 107.5L60.7 107.5L61.4 107.6L62.2 107.6L62.9 107.6L63.7 107.6L64.4 107.6L65.1 107.7L65.9 107.8L66.6 107.8L67.3 107.8L68.1 107.7L68.8 107.6L69.6 107.5L70.3 107.4L71 107.3L71.8 107.3L72.5 107.3L73.3 107.3L74 107.4L74.7 107.4L75.5 107.3L76.2 107.3L76.9 107.3L77.7 107.3L78.4 107.3L79.2 107.3L79.9 107.4L80.6 107.4L81.4 107.4L82.1 107.3L82.8 107.2L83.6 107.1L84.3 107L85.1 106.9L85.8 106.9L86.5 107L87.3 107L88 107.1L88.8 107.1L89.5 107.1L90.2 107.1L91 107.1L91.7 107.1L92.4 107.2L93.2 107.3L93.9 107.4L94.7 107.5L95.4 107.5L96.1 107.4L96.9 107.2L97.6 107.1L98.3 106.9L99.1 106.7L99.8 106.5L100.6 106.3L101.3 106L102 105.7L102.8 105.3L103.5 104.9L104.3 104.5L105 104.5L105.7 104.6L106.5 105L107.2 105.5L107.9 106L108.7 106.4L109.4 106.6L110.2 106.8L110.9 106.9L111.6 106.9L112.4 106.9L113.1 106.9L113.9 107L114.6 107L115.3 107L116.1 107L116.8 107L117.5 106.9L118.3 106.9L119 106.9L119.8 106.9L120.5 107.1L121.2 107.2L122 107.3L122.7 107.3L123.4 107.4L124.2 107.3" fill="none" stroke="#666" stroke-width="0.62" stroke-linejoin="round"/>
<path d="M41.2 110.9L41.9 110.9L42.7 110.8L43.4 110.7L44.1 110.8L44.9 110.8L45.6 110.9L46.4 111.1L47.1 111.1L47.8 111.2L48.6 111.2L49.3 111.2L50.1 111.2L50.8 111.2L51.5 111.2L52.3 111.2L53 111.3L53.7 111.3L54.5 111.2L55.2 111.1L56 110.9L56.7 110.8L57.4 110.7L58.2 110.7L58.9 110.7L59.6 110.8L60.4 110.8L61.1 110.8L61.9 110.8L62.6 110.8L63.3 110.8L64.1 110.7L64.8 110.8L65.6 110.8L66.3 110.9L67 110.9L67.8 110.9L68.5 110.8L69.2 110.7L70 110.6L70.7 110.5L71.5 110.5L72.2 110.5L72.9 110.6L73.7 110.6L74.4 110.7L75.1 110.8L75.9 110.8L76.6 110.8L77.4 110.8L78.1 110.9L78.8 110.9L79.6 111.1L80.3 111.2L81.1 111.2L81.8 111.3L82.5 111.2L83.3 111.1L84 111L84.7 110.9L85.5 110.9L86.2 110.9L87 110.9L87.7 111L88.4 111L89.2 111L89.9 110.9L90.7 110.9L91.4 110.9L92.1 110.9L92.9 110.9L93.6 111L94.3 111L95.1 111L95.8 110.9L96.6 110.8L97.3 110.6L98 110.4L98.8 110.1L99.5 109.9L100.2 109.7L101 109.5L101.7 109.3L102.5 109.2L103.2 109.1L103.9 109.1L104.7 109.3L105.4 109.4L106.2 109.7L106.9 110L107.6 110.2L108.4 110.5L109.1 110.6L109.8 110.7L110.6 110.7L111.3 110.7L112.1 110.7L112.8 110.7L113.5 110.7L114.3 110.7L115 110.8L115.7 110.8L116.5 110.8L117.2 110.8L118 110.8L118.7 110.8L119.4 110.8L120.2 110.9L120.9 111L121.7 111.1L122.4 111.3L122.4 112L41.2 112Z" fill="#fff" stroke="none"/>
<path d="M41.2 110.9L41.9 110.9L42.7 110.8L43.4 110.7L44.1 110.8L44.9 110.8L45.6 110.9L46.4 111.1L47.1 111.1L47.8 111.2L48.6 111.2L49.3 111.2L50.1 111.2L50.8 111.2L51.5 111.2L52.3 111.2L53 111.3L53.7 111.3L54.5 111.2L55.2 111.1L56 110.9L56.7 110.8L57.4 110.7L58.2 110.7L58.9 110.7L59.6 110.8L60.4 110.8L61.1 110.8L61.9 110.8L62.6 110.8L63.3 110.8L64.1 110.7L64.8 110.8L65.6 110.8L66.3 110.9L67 110.9L67.8 110.9L68.5 110.8L69.2 110.7L70 110.6L70.7 110.5L71.5 110.5L72.2 110.5L72.9 110.6L73.7 110.6L74.4 110.7L75.1 110.8L75.9 110.8L76.6 110.8L77.4 110.8L78.1 110.9L78.8 110.9L79.6 111.1L80.3 111.2L81.1 111.2L81.8 111.3L82.5 111.2L83.3 111.1L84 111L84.7 110.9L85.5 110.9L86.2 110.9L87 110.9L87.7 111L88.4 111L89.2 111L89.9 110.9L90.7 110.9L91.4 110.9L92.1 110.9L92.9 110.9L93.6 111L94.3 111L95.1 111L95.8 110.9L96.6 110.8L97.3 110.6L98 110.4L98.8 110.1L99.5 109.9L100.2 109.7L101 109.5L101.7 109.3L102.5 109.2L103.2 109.1L103.9 109.1L104.7 109.3L105.4 109.4L106.2 109.7L106.9 110L107.6 110.2L108.4 110.5L109.1 110.6L109.8 110.7L110.6 110.7L111.3 110.7L112.1 110.7L112.8 110.7L113.5 110.7L114.3 110.7L115 110.8L115.7 110.8L116.5 110.8L117.2 110.8L118 110.8L118.7 110.8L119.4 110.8L120.2 110.9L120.9 111L121.7 111.1L122.4 111.3" fill="none" stroke="#666" stroke-width="0.62" stroke-linejoin="round"/>
<path d="M39.4 114.7L40.1 114.7L40.9 114.7L41.6 114.6L42.4 114.4L43.1 114.3L43.8 114.2L44.6 114.2L45.3 114.2L46 114.3L46.8 114.3L47.5 114.4L48.3 114.4L49 114.3L49.7 114.3L50.5 114.3L51.2 114.3L51.9 114.3L52.7 114.3L53.4 114.4L54.2 114.4L54.9 114.3L55.6 114.2L56.4 114.1L57.1 114L57.9 114L58.6 114L59.3 114.1L60.1 114.2L60.8 114.2L61.5 114.3L62.3 114.4L63 114.4L63.8 114.4L64.5 114.4L65.2 114.5L66 114.6L66.7 114.7L67.5 114.7L68.2 114.8L68.9 114.7L69.7 114.7L70.4 114.6L71.1 114.5L71.9 114.4L72.6 114.4L73.4 114.5L74.1 114.5L74.8 114.6L75.6 114.6L76.3 114.5L77 114.5L77.8 114.5L78.5 114.5L79.3 114.5L80 114.6L80.7 114.6L81.5 114.7L82.2 114.6L83 114.6L83.7 114.4L84.4 114.3L85.2 114.2L85.9 114.1L86.6 114.1L87.4 114.1L88.1 114.1L88.9 114.1L89.6 114.1L90.3 114.1L91.1 114L91.8 114L92.5 114.1L93.3 114.1L94 114.2L94.8 114.3L95.5 114.4L96.2 114.3L97 114.3L97.7 114.1L98.5 114L99.2 113.9L99.9 113.8L100.7 113.8L101.4 113.8L102.1 113.9L102.9 114L103.6 114.1L104.4 114.1L105.1 114.2L105.8 114.2L106.6 114.3L107.3 114.5L108.1 114.6L108.8 114.7L109.5 114.8L110.3 114.8L111 114.8L111.7 114.7L112.5 114.6L113.2 114.5L114 114.5L114.7 114.5L115.4 114.5L116.2 114.5L116.9 114.4L117.6 114.3L118.4 114.3L119.1 114.2L119.9 114.2L120.6 114.2L120.6 115.5L39.4 115.5Z" fill="#fff" stroke="none"/>
<path d="M39.4 114.7L40.1 114.7L40.9 114.7L41.6 114.6L42.4 114.4L43.1 114.3L43.8 114.2L44.6 114.2L45.3 114.2L46 114.3L46.8 114.3L47.5 114.4L48.3 114.4L49 114.3L49.7 114.3L50.5 114.3L51.2 114.3L51.9 114.3L52.7 114.3L53.4 114.4L54.2 114.4L54.9 114.3L55.6 114.2L56.4 114.1L57.1 114L57.9 114L58.6 114L59.3 114.1L60.1 114.2L60.8 114.2L61.5 114.3L62.3 114.4L63 114.4L63.8 114.4L64.5 114.4L65.2 114.5L66 114.6L66.7 114.7L67.5 114.7L68.2 114.8L68.9 114.7L69.7 114.7L70.4 114.6L71.1 114.5L71.9 114.4L72.6 114.4L73.4 114.5L74.1 114.5L74.8 114.6L75.6 114.6L76.3 114.5L77 114.5L77.8 114.5L78.5 114.5L79.3 114.5L80 114.6L80.7 114.6L81.5 114.7L82.2 114.6L83 114.6L83.7 114.4L84.4 114.3L85.2 114.2L85.9 114.1L86.6 114.1L87.4 114.1L88.1 114.1L88.9 114.1L89.6 114.1L90.3 114.1L91.1 114L91.8 114L92.5 114.1L93.3 114.1L94 114.2L94.8 114.3L95.5 114.4L96.2 114.3L97 114.3L97.7 114.1L98.5 114L99.2 113.9L99.9 113.8L100.7 113.8L101.4 113.8L102.1 113.9L102.9 114L103.6 114.1L104.4 114.1L105.1 114.2L105.8 114.2L106.6 114.3L107.3 114.5L108.1 114.6L108.8 114.7L109.5 114.8L110.3 114.8L111 114.8L111.7 114.7L112.5 114.6L113.2 114.5L114 114.5L114.7 114.5L115.4 114.5L116.2 114.5L116.9 114.4L117.6 114.3L118.4 114.3L119.1 114.2L119.9 114.2L120.6 114.2" fill="none" stroke="#666" stroke-width="0.62" stroke-linejoin="round"/>
<path d="M39.4 115.3h81.2" stroke="#444" stroke-width="0.6" fill="none"/>
<rect x="171.3" y="8.2" width="81.8" height="57.8" fill="#fbfbfb" stroke="#6a6a6a" stroke-width="0.6"/>
<path d="M171.3 64.1h81.8M171.3 62.1h81.8M171.3 60.2h81.8M171.3 58.2h81.8M171.3 54.4h81.8M171.3 52.4h81.8M171.3 50.5h81.8M171.3 48.5h81.8M171.3 44.7h81.8M171.3 42.7h81.8M171.3 40.8h81.8M171.3 38.8h81.8M171.3 35h81.8M171.3 33h81.8M171.3 31.1h81.8M171.3 29.1h81.8M171.3 25.3h81.8M171.3 23.3h81.8M171.3 21.4h81.8M171.3 19.4h81.8M171.3 15.6h81.8M171.3 13.6h81.8M171.3 11.7h81.8M171.3 9.7h81.8M180.7 8.2v57.8M186 8.2v57.8M191.2 8.2v57.8M201.7 8.2v57.8M207 8.2v57.8M212.2 8.2v57.8M222.7 8.2v57.8M228 8.2v57.8M233.2 8.2v57.8M243.7 8.2v57.8M249 8.2v57.8" stroke="#ebebeb" stroke-width="0.5" fill="none"/>
<path d="M171.3 56.3h81.8M171.3 46.6h81.8M171.3 36.9h81.8M171.3 27.2h81.8M171.3 17.5h81.8M196.5 8.2v57.8M238.5 8.2v57.8" stroke="#c6c6c6" stroke-width="0.55" fill="none"/>
<path d="M175.5 8.2v57.8M217.5 8.2v57.8" stroke="#9c9c9c" stroke-width="0.6" fill="none"/>
<path d="M145.6 115L145.6 57.2L171.3 8.2L171.3 66Z" fill="#fcfcfc" stroke="#6a6a6a" stroke-width="0.6"/>
<path d="M145.6 105.3L171.3 56.3M145.6 95.6L171.3 46.6M145.6 85.9L171.3 36.9M145.6 76.2L171.3 27.2M145.6 66.5L171.3 17.5M149.3 108v-57.8M152.9 101v-57.8M156.6 94v-57.8M160.3 87v-57.8M164 80v-57.8M167.6 73v-57.8" stroke="#bcbcbc" stroke-width="0.5" fill="none"/>
<path d="M145.6 115h81.8L253.1 66" stroke="#666" stroke-width="0.6" fill="none"/>
<path d="M171.3 56.1L172 52.1L172.8 47.5L173.5 44L174.3 43.7L175 46.7L175.8 50.8L176.5 54.2L177.2 56.4L178 57.3L178.7 57.3L179.5 57.2L180.2 57.8L181 59.2L181.7 60.6L182.5 61.9L183.2 62.9L183.9 63.6L184.7 64.1L185.4 64.4L186.2 64.6L186.9 64.6L187.7 64.7L188.4 64.7L189.1 64.7L189.9 64.7L190.6 64.8L191.4 64.8L192.1 64.7L192.9 64.7L193.6 64.6L194.4 64.4L195.1 64.3L195.8 64.2L196.6 64.2L197.3 64.2L198.1 64.3L198.8 64.3L199.6 64.3L200.3 64.3L201 64.2L201.8 64L202.5 63.8L203.3 63.7L204 63.4L204.8 63.2L205.5 62.8L206.3 62.3L207 61.5L207.7 60.2L208.5 58L209.2 54.4L210 48.8L210.7 40.9L211.5 31.3L212.2 22.9L212.9 20.6L213.7 26.5L214.4 36.2L215.2 45.2L215.9 52.1L216.7 56.6L217.4 59.4L218.1 61.1L218.9 62.2L219.6 63L220.4 63.5L221.1 63.9L221.9 64.1L222.6 64.2L223.4 64.3L224.1 64.3L224.8 64.3L225.6 64.4L226.3 64.5L227.1 64.6L227.8 64.7L228.6 64.8L229.3 64.8L230 64.9L230.8 64.9L231.5 64.9L232.3 64.9L233 65L233.8 65L234.5 65.1L235.3 65.1L236 65.1L236.7 65.1L237.5 65L238.2 64.9L239 64.8L239.7 64.8L240.5 64.8L241.2 64.8L241.9 64.9L242.7 65L243.4 65L244.2 65.1L244.9 65.1L245.7 65.1L246.4 65.1L247.2 65.2L247.9 65.3L248.6 65.4L249.4 65.5L250.1 65.6L250.9 65.6L251.6 65.6L252.4 65.5L253.1 65.4L253.1 66.5L171.3 66.5Z" fill="#fff" stroke="none"/>
<path d="M171.3 56.1L172 52.1L172.8 47.5L173.5 44L174.3 43.7L175 46.7L175.8 50.8L176.5 54.2L177.2 56.4L178 57.3L178.7 57.3L179.5 57.2L180.2 57.8L181 59.2L181.7 60.6L182.5 61.9L183.2 62.9L183.9 63.6L184.7 64.1L185.4 64.4L186.2 64.6L186.9 64.6L187.7 64.7L188.4 64.7L189.1 64.7L189.9 64.7L190.6 64.8L191.4 64.8L192.1 64.7L192.9 64.7L193.6 64.6L194.4 64.4L195.1 64.3L195.8 64.2L196.6 64.2L197.3 64.2L198.1 64.3L198.8 64.3L199.6 64.3L200.3 64.3L201 64.2L201.8 64L202.5 63.8L203.3 63.7L204 63.4L204.8 63.2L205.5 62.8L206.3 62.3L207 61.5L207.7 60.2L208.5 58L209.2 54.4L210 48.8L210.7 40.9L211.5 31.3L212.2 22.9L212.9 20.6L213.7 26.5L214.4 36.2L215.2 45.2L215.9 52.1L216.7 56.6L217.4 59.4L218.1 61.1L218.9 62.2L219.6 63L220.4 63.5L221.1 63.9L221.9 64.1L222.6 64.2L223.4 64.3L224.1 64.3L224.8 64.3L225.6 64.4L226.3 64.5L227.1 64.6L227.8 64.7L228.6 64.8L229.3 64.8L230 64.9L230.8 64.9L231.5 64.9L232.3 64.9L233 65L233.8 65L234.5 65.1L235.3 65.1L236 65.1L236.7 65.1L237.5 65L238.2 64.9L239 64.8L239.7 64.8L240.5 64.8L241.2 64.8L241.9 64.9L242.7 65L243.4 65L244.2 65.1L244.9 65.1L245.7 65.1L246.4 65.1L247.2 65.2L247.9 65.3L248.6 65.4L249.4 65.5L250.1 65.6L250.9 65.6L251.6 65.6L252.4 65.5L253.1 65.4" fill="none" stroke="#666" stroke-width="0.62" stroke-linejoin="round"/>
<path d="M169.5 59.8L170.2 56L171 51.7L171.7 48.4L172.4 48.1L173.2 50.9L173.9 54.7L174.7 57.9L175.4 60L176.2 60.9L176.9 60.9L177.6 61L178.4 61.6L179.1 62.8L179.9 64.1L180.6 65.2L181.4 66L182.1 66.6L182.8 67L183.6 67.3L184.3 67.6L185.1 67.8L185.8 68L186.6 68.1L187.3 68.1L188.1 68.1L188.8 68.2L189.5 68.2L190.3 68.2L191 68.3L191.8 68.3L192.5 68.4L193.3 68.3L194 68.2L194.7 68.1L195.5 68L196.2 68L197 67.9L197.7 68L198.5 68L199.2 68L200 68L200.7 67.9L201.4 67.7L202.2 67.4L202.9 67.1L203.7 66.7L204.4 66.2L205.2 65.4L205.9 64.3L206.6 62.2L207.4 58.8L208.1 53.5L208.9 45.8L209.6 36.4L210.4 28.1L211.1 25.8L211.9 31.4L212.6 40.6L213.3 49.3L214.1 55.9L214.8 60.2L215.6 62.9L216.3 64.5L217.1 65.4L217.8 66.1L218.5 66.5L219.3 66.9L220 67.3L220.8 67.5L221.5 67.7L222.3 67.8L223 67.8L223.7 67.8L224.5 67.8L225.2 67.8L226 67.9L226.7 68L227.5 68.1L228.2 68.2L229 68.3L229.7 68.4L230.4 68.5L231.2 68.5L231.9 68.6L232.7 68.6L233.4 68.7L234.2 68.8L234.9 68.9L235.6 69L236.4 69.1L237.1 69L237.9 69L238.6 68.9L239.4 68.8L240.1 68.8L240.9 68.8L241.6 68.8L242.3 68.8L243.1 68.9L243.8 68.9L244.6 68.9L245.3 68.9L246.1 68.8L246.8 68.8L247.5 68.9L248.3 68.9L249 69L249.8 69.1L250.5 69.1L251.3 69L251.3 70L169.5 70Z" fill="#fff" stroke="none"/>
<path d="M169.5 59.8L170.2 56L171 51.7L171.7 48.4L172.4 48.1L173.2 50.9L173.9 54.7L174.7 57.9L175.4 60L176.2 60.9L176.9 60.9L177.6 61L178.4 61.6L179.1 62.8L179.9 64.1L180.6 65.2L181.4 66L182.1 66.6L182.8 67L183.6 67.3L184.3 67.6L185.1 67.8L185.8 68L186.6 68.1L187.3 68.1L188.1 68.1L188.8 68.2L189.5 68.2L190.3 68.2L191 68.3L191.8 68.3L192.5 68.4L193.3 68.3L194 68.2L194.7 68.1L195.5 68L196.2 68L197 67.9L197.7 68L198.5 68L199.2 68L200 68L200.7 67.9L201.4 67.7L202.2 67.4L202.9 67.1L203.7 66.7L204.4 66.2L205.2 65.4L205.9 64.3L206.6 62.2L207.4 58.8L208.1 53.5L208.9 45.8L209.6 36.4L210.4 28.1L211.1 25.8L211.9 31.4L212.6 40.6L213.3 49.3L214.1 55.9L214.8 60.2L215.6 62.9L216.3 64.5L217.1 65.4L217.8 66.1L218.5 66.5L219.3 66.9L220 67.3L220.8 67.5L221.5 67.7L222.3 67.8L223 67.8L223.7 67.8L224.5 67.8L225.2 67.8L226 67.9L226.7 68L227.5 68.1L228.2 68.2L229 68.3L229.7 68.4L230.4 68.5L231.2 68.5L231.9 68.6L232.7 68.6L233.4 68.7L234.2 68.8L234.9 68.9L235.6 69L236.4 69.1L237.1 69L237.9 69L238.6 68.9L239.4 68.8L240.1 68.8L240.9 68.8L241.6 68.8L242.3 68.8L243.1 68.9L243.8 68.9L244.6 68.9L245.3 68.9L246.1 68.8L246.8 68.8L247.5 68.9L248.3 68.9L249 69L249.8 69.1L250.5 69.1L251.3 69" fill="none" stroke="#666" stroke-width="0.62" stroke-linejoin="round"/>
<path d="M167.6 63.1L168.4 59.4L169.1 55.2L169.9 52.1L170.6 52L171.3 54.9L172.1 58.7L172.8 61.9L173.6 63.9L174.3 64.7L175.1 64.8L175.8 64.9L176.6 65.6L177.3 66.8L178 68.2L178.8 69.3L179.5 70.1L180.3 70.6L181 70.9L181.8 71.1L182.5 71.2L183.2 71.4L184 71.6L184.7 71.8L185.5 72L186.2 72.1L187 72.1L187.7 72.1L188.5 72.1L189.2 72.1L189.9 72.1L190.7 72.1L191.4 72.1L192.2 72.1L192.9 72L193.7 71.9L194.4 71.8L195.1 71.6L195.9 71.4L196.6 71.3L197.4 71.2L198.1 71.1L198.9 71L199.6 70.9L200.3 70.7L201.1 70.5L201.8 70.1L202.6 69.5L203.3 68.8L204.1 67.6L204.8 65.8L205.6 62.7L206.3 57.8L207 50.8L207.8 42.2L208.5 34.5L209.3 32.3L210 37.4L210.8 45.8L211.5 53.8L212.2 59.9L213 64.1L213.7 66.6L214.5 68.2L215.2 69.2L216 69.9L216.7 70.3L217.5 70.7L218.2 70.9L218.9 71.2L219.7 71.4L220.4 71.7L221.2 71.8L221.9 72L222.7 72L223.4 72L224.1 72L224.9 72L225.6 71.9L226.4 71.9L227.1 72L227.9 72.1L228.6 72.2L229.4 72.2L230.1 72.3L230.8 72.3L231.6 72.3L232.3 72.3L233.1 72.3L233.8 72.3L234.6 72.4L235.3 72.4L236 72.5L236.8 72.5L237.5 72.4L238.3 72.3L239 72.2L239.8 72L240.5 72L241.2 71.9L242 71.9L242.7 72L243.5 72L244.2 72L245 72L245.7 72L246.5 72L247.2 72L247.9 72L248.7 72.1L249.4 72.2L249.4 73.5L167.6 73.5Z" fill="#fff" stroke="none"/>
<path d="M167.6 63.1L168.4 59.4L169.1 55.2L169.9 52.1L170.6 52L171.3 54.9L172.1 58.7L172.8 61.9L173.6 63.9L174.3 64.7L175.1 64.8L175.8 64.9L176.6 65.6L177.3 66.8L178 68.2L178.8 69.3L179.5 70.1L180.3 70.6L181 70.9L181.8 71.1L182.5 71.2L183.2 71.4L184 71.6L184.7 71.8L185.5 72L186.2 72.1L187 72.1L187.7 72.1L188.5 72.1L189.2 72.1L189.9 72.1L190.7 72.1L191.4 72.1L192.2 72.1L192.9 72L193.7 71.9L194.4 71.8L195.1 71.6L195.9 71.4L196.6 71.3L197.4 71.2L198.1 71.1L198.9 71L199.6 70.9L200.3 70.7L201.1 70.5L201.8 70.1L202.6 69.5L203.3 68.8L204.1 67.6L204.8 65.8L205.6 62.7L206.3 57.8L207 50.8L207.8 42.2L208.5 34.5L209.3 32.3L210 37.4L210.8 45.8L211.5 53.8L212.2 59.9L213 64.1L213.7 66.6L214.5 68.2L215.2 69.2L216 69.9L216.7 70.3L217.5 70.7L218.2 70.9L218.9 71.2L219.7 71.4L220.4 71.7L221.2 71.8L221.9 72L222.7 72L223.4 72L224.1 72L224.9 72L225.6 71.9L226.4 71.9L227.1 72L227.9 72.1L228.6 72.2L229.4 72.2L230.1 72.3L230.8 72.3L231.6 72.3L232.3 72.3L233.1 72.3L233.8 72.3L234.6 72.4L235.3 72.4L236 72.5L236.8 72.5L237.5 72.4L238.3 72.3L239 72.2L239.8 72L240.5 72L241.2 71.9L242 71.9L242.7 72L243.5 72L244.2 72L245 72L245.7 72L246.5 72L247.2 72L247.9 72L248.7 72.1L249.4 72.2" fill="none" stroke="#666" stroke-width="0.62" stroke-linejoin="round"/>
<path d="M165.8 68.5L166.5 65.2L167.3 61.5L168 58.7L168.8 58.5L169.5 60.9L170.3 64.1L171 66.9L171.7 68.6L172.5 69.3L173.2 69.2L174 69.2L174.7 69.7L175.5 70.7L176.2 71.9L176.9 72.9L177.7 73.7L178.4 74.2L179.2 74.5L179.9 74.6L180.7 74.7L181.4 74.7L182.2 74.7L182.9 74.8L183.6 74.9L184.4 75L185.1 75.1L185.9 75.3L186.6 75.4L187.4 75.4L188.1 75.4L188.8 75.4L189.6 75.4L190.3 75.4L191.1 75.4L191.8 75.4L192.6 75.5L193.3 75.4L194.1 75.4L194.8 75.3L195.5 75.1L196.3 74.9L197 74.8L197.8 74.6L198.5 74.5L199.3 74.4L200 74.2L200.7 73.8L201.5 73.3L202.2 72.3L203 70.8L203.7 68.2L204.5 64.1L205.2 58.3L205.9 51.2L206.7 45L207.4 43.3L208.2 47.5L208.9 54.4L209.7 60.9L210.4 65.8L211.2 69L211.9 71L212.6 72.2L213.4 72.9L214.1 73.5L214.9 73.9L215.6 74.1L216.4 74.3L217.1 74.3L217.8 74.3L218.6 74.1L219.3 73.9L220.1 73.6L220.8 73.4L221.6 73.4L222.3 73.7L223.1 74.1L223.8 74.5L224.5 74.7L225.3 74.9L226 75L226.8 75.1L227.5 75.2L228.3 75.3L229 75.4L229.7 75.5L230.5 75.6L231.2 75.7L232 75.7L232.7 75.7L233.5 75.8L234.2 75.9L235 76L235.7 76.1L236.4 76.2L237.2 76.2L237.9 76.2L238.7 76.1L239.4 76L240.2 75.9L240.9 75.8L241.6 75.8L242.4 75.8L243.1 75.9L243.9 75.9L244.6 75.9L245.4 75.9L246.1 75.8L246.8 75.8L247.6 75.8L247.6 77L165.8 77Z" fill="#fff" stroke="none"/>
<path d="M165.8 68.5L166.5 65.2L167.3 61.5L168 58.7L168.8 58.5L169.5 60.9L170.3 64.1L171 66.9L171.7 68.6L172.5 69.3L173.2 69.2L174 69.2L174.7 69.7L175.5 70.7L176.2 71.9L176.9 72.9L177.7 73.7L178.4 74.2L179.2 74.5L179.9 74.6L180.7 74.7L181.4 74.7L182.2 74.7L182.9 74.8L183.6 74.9L184.4 75L185.1 75.1L185.9 75.3L186.6 75.4L187.4 75.4L188.1 75.4L188.8 75.4L189.6 75.4L190.3 75.4L191.1 75.4L191.8 75.4L192.6 75.5L193.3 75.4L194.1 75.4L194.8 75.3L195.5 75.1L196.3 74.9L197 74.8L197.8 74.6L198.5 74.5L199.3 74.4L200 74.2L200.7 73.8L201.5 73.3L202.2 72.3L203 70.8L203.7 68.2L204.5 64.1L205.2 58.3L205.9 51.2L206.7 45L207.4 43.3L208.2 47.5L208.9 54.4L209.7 60.9L210.4 65.8L211.2 69L211.9 71L212.6 72.2L213.4 72.9L214.1 73.5L214.9 73.9L215.6 74.1L216.4 74.3L217.1 74.3L217.8 74.3L218.6 74.1L219.3 73.9L220.1 73.6L220.8 73.4L221.6 73.4L222.3 73.7L223.1 74.1L223.8 74.5L224.5 74.7L225.3 74.9L226 75L226.8 75.1L227.5 75.2L228.3 75.3L229 75.4L229.7 75.5L230.5 75.6L231.2 75.7L232 75.7L232.7 75.7L233.5 75.8L234.2 75.9L235 76L235.7 76.1L236.4 76.2L237.2 76.2L237.9 76.2L238.7 76.1L239.4 76L240.2 75.9L240.9 75.8L241.6 75.8L242.4 75.8L243.1 75.9L243.9 75.9L244.6 75.9L245.4 75.9L246.1 75.8L246.8 75.8L247.6 75.8" fill="none" stroke="#666" stroke-width="0.62" stroke-linejoin="round"/>
<path d="M164 74.3L164.7 72L165.4 69.5L166.2 67.5L166.9 67.2L167.7 68.8L168.4 71L169.2 72.8L169.9 74L170.6 74.4L171.4 74.4L172.1 74.4L172.9 74.8L173.6 75.7L174.4 76.6L175.1 77.3L175.9 77.9L176.6 78.2L177.3 78.5L178.1 78.6L178.8 78.7L179.6 78.8L180.3 78.8L181.1 78.7L181.8 78.6L182.5 78.6L183.3 78.5L184 78.6L184.8 78.6L185.5 78.8L186.3 78.9L187 78.9L187.8 79L188.5 78.9L189.2 78.9L190 78.9L190.7 78.9L191.5 78.9L192.2 78.9L193 78.9L193.7 78.9L194.4 78.8L195.2 78.7L195.9 78.6L196.7 78.4L197.4 78.2L198.2 78L198.9 77.8L199.7 77.6L200.4 77.1L201.1 76.3L201.9 74.7L202.6 72.3L203.4 68.8L204.1 64.5L204.9 60.7L205.6 59.6L206.3 62.2L207.1 66.5L207.8 70.6L208.6 73.5L209.3 75.5L210.1 76.6L210.8 77.2L211.5 77.4L212.3 77.6L213 77.7L213.8 77.7L214.5 77.7L215.3 77.5L216 77L216.8 76.2L217.5 75L218.2 73.6L219 72.3L219.7 72L220.5 72.8L221.2 74.3L222 75.7L222.7 76.9L223.4 77.6L224.2 78L224.9 78.2L225.7 78.3L226.4 78.4L227.2 78.4L227.9 78.5L228.7 78.6L229.4 78.8L230.1 78.9L230.9 79L231.6 79L232.4 79L233.1 79.1L233.9 79.1L234.6 79.2L235.3 79.3L236.1 79.5L236.8 79.6L237.6 79.6L238.3 79.6L239.1 79.6L239.8 79.5L240.6 79.4L241.3 79.3L242 79.3L242.8 79.4L243.5 79.4L244.3 79.4L245 79.5L245.8 79.5L245.8 80.5L164 80.5Z" fill="#fff" stroke="none"/>
<path d="M164 74.3L164.7 72L165.4 69.5L166.2 67.5L166.9 67.2L167.7 68.8L168.4 71L169.2 72.8L169.9 74L170.6 74.4L171.4 74.4L172.1 74.4L172.9 74.8L173.6 75.7L174.4 76.6L175.1 77.3L175.9 77.9L176.6 78.2L177.3 78.5L178.1 78.6L178.8 78.7L179.6 78.8L180.3 78.8L181.1 78.7L181.8 78.6L182.5 78.6L183.3 78.5L184 78.6L184.8 78.6L185.5 78.8L186.3 78.9L187 78.9L187.8 79L188.5 78.9L189.2 78.9L190 78.9L190.7 78.9L191.5 78.9L192.2 78.9L193 78.9L193.7 78.9L194.4 78.8L195.2 78.7L195.9 78.6L196.7 78.4L197.4 78.2L198.2 78L198.9 77.8L199.7 77.6L200.4 77.1L201.1 76.3L201.9 74.7L202.6 72.3L203.4 68.8L204.1 64.5L204.9 60.7L205.6 59.6L206.3 62.2L207.1 66.5L207.8 70.6L208.6 73.5L209.3 75.5L210.1 76.6L210.8 77.2L211.5 77.4L212.3 77.6L213 77.7L213.8 77.7L214.5 77.7L215.3 77.5L216 77L216.8 76.2L217.5 75L218.2 73.6L219 72.3L219.7 72L220.5 72.8L221.2 74.3L222 75.7L222.7 76.9L223.4 77.6L224.2 78L224.9 78.2L225.7 78.3L226.4 78.4L227.2 78.4L227.9 78.5L228.7 78.6L229.4 78.8L230.1 78.9L230.9 79L231.6 79L232.4 79L233.1 79.1L233.9 79.1L234.6 79.2L235.3 79.3L236.1 79.5L236.8 79.6L237.6 79.6L238.3 79.6L239.1 79.6L239.8 79.5L240.6 79.4L241.3 79.3L242 79.3L242.8 79.4L243.5 79.4L244.3 79.4L245 79.5L245.8 79.5" fill="none" stroke="#666" stroke-width="0.62" stroke-linejoin="round"/>
<path d="M162.1 79.9L162.9 78.7L163.6 77.4L164.4 76.4L165.1 76.2L165.8 76.9L166.6 77.7L167.3 78.2L168.1 78.2L168.8 77.7L169.6 76.9L170.3 76.5L171 77L171.8 78.2L172.5 79.5L173.3 80.6L174 81.4L174.8 81.9L175.5 82.2L176.3 82.4L177 82.5L177.7 82.6L178.5 82.7L179.2 82.8L180 82.8L180.7 82.8L181.5 82.7L182.2 82.7L182.9 82.6L183.7 82.6L184.4 82.6L185.2 82.6L185.9 82.7L186.7 82.8L187.4 82.9L188.1 82.9L188.9 82.8L189.6 82.7L190.4 82.7L191.1 82.6L191.9 82.5L192.6 82.5L193.4 82.4L194.1 82.2L194.8 82L195.6 81.5L196.3 80.9L197.1 80.2L197.8 79.3L198.6 78.7L199.3 78.5L200 78.5L200.8 78.5L201.5 78.1L202.3 77.2L203 76.4L203.8 76.2L204.5 77.1L205.3 78.4L206 79.7L206.7 80.7L207.5 81.3L208.2 81.7L209 82L209.7 82L210.5 82L211.2 81.9L211.9 81.7L212.7 81.4L213.4 81.1L214.2 80.5L214.9 79.6L215.7 78.4L216.4 76.8L217.2 75.4L217.9 75L218.6 75.9L219.4 77.5L220.1 79.1L220.9 80.4L221.6 81.3L222.4 82L223.1 82.3L223.8 82.5L224.6 82.6L225.3 82.6L226.1 82.5L226.8 82.5L227.6 82.4L228.3 82.4L229 82.5L229.8 82.5L230.5 82.5L231.3 82.6L232 82.5L232.8 82.5L233.5 82.4L234.3 82.3L235 82.3L235.7 82.2L236.5 82L237.2 81.7L238 81.3L238.7 80.9L239.5 80.8L240.2 80.9L240.9 81.2L241.7 81.5L242.4 81.8L243.2 82L243.9 82.2L243.9 84L162.1 84Z" fill="#fff" stroke="none"/>
<path d="M162.1 79.9L162.9 78.7L163.6 77.4L164.4 76.4L165.1 76.2L165.8 76.9L166.6 77.7L167.3 78.2L168.1 78.2L168.8 77.7L169.6 76.9L170.3 76.5L171 77L171.8 78.2L172.5 79.5L173.3 80.6L174 81.4L174.8 81.9L175.5 82.2L176.3 82.4L177 82.5L177.7 82.6L178.5 82.7L179.2 82.8L180 82.8L180.7 82.8L181.5 82.7L182.2 82.7L182.9 82.6L183.7 82.6L184.4 82.6L185.2 82.6L185.9 82.7L186.7 82.8L187.4 82.9L188.1 82.9L188.9 82.8L189.6 82.7L190.4 82.7L191.1 82.6L191.9 82.5L192.6 82.5L193.4 82.4L194.1 82.2L194.8 82L195.6 81.5L196.3 80.9L197.1 80.2L197.8 79.3L198.6 78.7L199.3 78.5L200 78.5L200.8 78.5L201.5 78.1L202.3 77.2L203 76.4L203.8 76.2L204.5 77.1L205.3 78.4L206 79.7L206.7 80.7L207.5 81.3L208.2 81.7L209 82L209.7 82L210.5 82L211.2 81.9L211.9 81.7L212.7 81.4L213.4 81.1L214.2 80.5L214.9 79.6L215.7 78.4L216.4 76.8L217.2 75.4L217.9 75L218.6 75.9L219.4 77.5L220.1 79.1L220.9 80.4L221.6 81.3L222.4 82L223.1 82.3L223.8 82.5L224.6 82.6L225.3 82.6L226.1 82.5L226.8 82.5L227.6 82.4L228.3 82.4L229 82.5L229.8 82.5L230.5 82.5L231.3 82.6L232 82.5L232.8 82.5L233.5 82.4L234.3 82.3L235 82.3L235.7 82.2L236.5 82L237.2 81.7L238 81.3L238.7 80.9L239.5 80.8L240.2 80.9L240.9 81.2L241.7 81.5L242.4 81.8L243.2 82L243.9 82.2" fill="none" stroke="#666" stroke-width="0.62" stroke-linejoin="round"/>
<path d="M160.3 84.4L161 83.5L161.8 82.6L162.5 81.8L163.3 81.6L164 82L164.7 82.4L165.5 82.4L166.2 81.9L167 80.9L167.7 79.7L168.5 78.9L169.2 79.2L170 80.5L170.7 82.1L171.4 83.4L172.2 84.5L172.9 85.2L173.7 85.7L174.4 86L175.2 86.1L175.9 86.2L176.6 86.2L177.4 86.2L178.1 86.3L178.9 86.3L179.6 86.4L180.4 86.4L181.1 86.3L181.9 86.2L182.6 86.1L183.3 86L184.1 85.9L184.8 85.9L185.6 85.9L186.3 86L187.1 86.1L187.8 86.1L188.5 86.1L189.3 86L190 85.9L190.8 85.8L191.5 85.6L192.3 85.5L193 85.2L193.7 84.7L194.5 84L195.2 83L196 81.9L196.7 81.1L197.5 81.1L198.2 81.8L199 82.8L199.7 83.7L200.4 84.5L201.2 85.1L201.9 85.4L202.7 85.7L203.4 85.8L204.2 85.9L204.9 85.9L205.6 85.9L206.4 86L207.1 86L207.9 86L208.6 86L209.4 85.9L210.1 85.7L210.9 85.4L211.6 84.9L212.3 84.1L213.1 82.9L213.8 81.3L214.6 79.5L215.3 77.9L216.1 77.5L216.8 78.5L217.5 80.3L218.3 82.1L219 83.5L219.8 84.4L220.5 85.1L221.3 85.5L222 85.7L222.8 85.9L223.5 86.1L224.2 86.1L225 86.1L225.7 86L226.5 85.9L227.2 85.8L228 85.7L228.7 85.7L229.4 85.7L230.2 85.7L230.9 85.7L231.7 85.6L232.4 85.5L233.2 85.3L233.9 85L234.6 84.5L235.4 83.8L236.1 83.1L236.9 82.5L237.6 82.4L238.4 82.9L239.1 83.7L239.9 84.4L240.6 85L241.3 85.3L242.1 85.6L242.1 87.5L160.3 87.5Z" fill="#fff" stroke="none"/>
<path d="M160.3 84.4L161 83.5L161.8 82.6L162.5 81.8L163.3 81.6L164 82L164.7 82.4L165.5 82.4L166.2 81.9L167 80.9L167.7 79.7L168.5 78.9L169.2 79.2L170 80.5L170.7 82.1L171.4 83.4L172.2 84.5L172.9 85.2L173.7 85.7L174.4 86L175.2 86.1L175.9 86.2L176.6 86.2L177.4 86.2L178.1 86.3L178.9 86.3L179.6 86.4L180.4 86.4L181.1 86.3L181.9 86.2L182.6 86.1L183.3 86L184.1 85.9L184.8 85.9L185.6 85.9L186.3 86L187.1 86.1L187.8 86.1L188.5 86.1L189.3 86L190 85.9L190.8 85.8L191.5 85.6L192.3 85.5L193 85.2L193.7 84.7L194.5 84L195.2 83L196 81.9L196.7 81.1L197.5 81.1L198.2 81.8L199 82.8L199.7 83.7L200.4 84.5L201.2 85.1L201.9 85.4L202.7 85.7L203.4 85.8L204.2 85.9L204.9 85.9L205.6 85.9L206.4 86L207.1 86L207.9 86L208.6 86L209.4 85.9L210.1 85.7L210.9 85.4L211.6 84.9L212.3 84.1L213.1 82.9L213.8 81.3L214.6 79.5L215.3 77.9L216.1 77.5L216.8 78.5L217.5 80.3L218.3 82.1L219 83.5L219.8 84.4L220.5 85.1L221.3 85.5L222 85.7L222.8 85.9L223.5 86.1L224.2 86.1L225 86.1L225.7 86L226.5 85.9L227.2 85.8L228 85.7L228.7 85.7L229.4 85.7L230.2 85.7L230.9 85.7L231.7 85.6L232.4 85.5L233.2 85.3L233.9 85L234.6 84.5L235.4 83.8L236.1 83.1L236.9 82.5L237.6 82.4L238.4 82.9L239.1 83.7L239.9 84.4L240.6 85L241.3 85.3L242.1 85.6" fill="none" stroke="#666" stroke-width="0.62" stroke-linejoin="round"/>
<path d="M158.4 88.6L159.2 88.2L159.9 87.7L160.7 87.2L161.4 86.9L162.2 86.8L162.9 86.6L163.7 86.1L164.4 85.1L165.1 83.7L165.9 82.1L166.6 81.1L167.4 81.4L168.1 82.8L168.9 84.5L169.6 86L170.3 87.1L171.1 87.9L171.8 88.5L172.6 88.9L173.3 89.2L174.1 89.4L174.8 89.6L175.6 89.6L176.3 89.7L177 89.7L177.8 89.7L178.5 89.8L179.3 89.9L180 89.9L180.8 89.9L181.5 89.9L182.2 89.8L183 89.7L183.7 89.6L184.5 89.5L185.2 89.5L186 89.5L186.7 89.5L187.5 89.6L188.2 89.6L188.9 89.5L189.7 89.3L190.4 89.1L191.2 88.6L191.9 88L192.7 87.1L193.4 86L194.1 84.8L194.9 83.9L195.6 83.9L196.4 84.8L197.1 85.9L197.9 86.8L198.6 87.5L199.3 88L200.1 88.2L200.8 88.4L201.6 88.4L202.3 88.3L203.1 88.1L203.8 87.8L204.6 87.6L205.3 87.7L206 88L206.8 88.3L207.5 88.5L208.3 88.6L209 88.4L209.8 88.1L210.5 87.3L211.2 86.1L212 84.4L212.7 82.3L213.5 80.5L214.2 79.9L215 81.1L215.7 83.1L216.5 85.1L217.2 86.7L217.9 87.8L218.7 88.5L219.4 88.9L220.2 89.1L220.9 89.3L221.7 89.5L222.4 89.6L223.1 89.7L223.9 89.8L224.6 89.8L225.4 89.8L226.1 89.7L226.9 89.5L227.6 89.4L228.4 89.3L229.1 89.2L229.8 89.1L230.6 88.9L231.3 88.6L232.1 88.1L232.8 87.4L233.6 86.3L234.3 85L235 83.9L235.8 83.7L236.5 84.4L237.3 85.7L238 87L238.8 87.9L239.5 88.5L240.2 88.9L240.2 91L158.4 91Z" fill="#fff" stroke="none"/>
<path d="M158.4 88.6L159.2 88.2L159.9 87.7L160.7 87.2L161.4 86.9L162.2 86.8L162.9 86.6L163.7 86.1L164.4 85.1L165.1 83.7L165.9 82.1L166.6 81.1L167.4 81.4L168.1 82.8L168.9 84.5L169.6 86L170.3 87.1L171.1 87.9L171.8 88.5L172.6 88.9L173.3 89.2L174.1 89.4L174.8 89.6L175.6 89.6L176.3 89.7L177 89.7L177.8 89.7L178.5 89.8L179.3 89.9L180 89.9L180.8 89.9L181.5 89.9L182.2 89.8L183 89.7L183.7 89.6L184.5 89.5L185.2 89.5L186 89.5L186.7 89.5L187.5 89.6L188.2 89.6L188.9 89.5L189.7 89.3L190.4 89.1L191.2 88.6L191.9 88L192.7 87.1L193.4 86L194.1 84.8L194.9 83.9L195.6 83.9L196.4 84.8L197.1 85.9L197.9 86.8L198.6 87.5L199.3 88L200.1 88.2L200.8 88.4L201.6 88.4L202.3 88.3L203.1 88.1L203.8 87.8L204.6 87.6L205.3 87.7L206 88L206.8 88.3L207.5 88.5L208.3 88.6L209 88.4L209.8 88.1L210.5 87.3L211.2 86.1L212 84.4L212.7 82.3L213.5 80.5L214.2 79.9L215 81.1L215.7 83.1L216.5 85.1L217.2 86.7L217.9 87.8L218.7 88.5L219.4 88.9L220.2 89.1L220.9 89.3L221.7 89.5L222.4 89.6L223.1 89.7L223.9 89.8L224.6 89.8L225.4 89.8L226.1 89.7L226.9 89.5L227.6 89.4L228.4 89.3L229.1 89.2L229.8 89.1L230.6 88.9L231.3 88.6L232.1 88.1L232.8 87.4L233.6 86.3L234.3 85L235 83.9L235.8 83.7L236.5 84.4L237.3 85.7L238 87L238.8 87.9L239.5 88.5L240.2 88.9" fill="none" stroke="#666" stroke-width="0.62" stroke-linejoin="round"/>
<path d="M156.6 92.1L157.4 91.8L158.1 91.4L158.8 91.1L159.6 90.9L160.3 90.8L161.1 90.5L161.8 89.8L162.6 88.5L163.3 86.7L164.1 84.7L164.8 83.5L165.5 83.9L166.3 85.7L167 87.7L167.8 89.4L168.5 90.6L169.3 91.4L170 91.8L170.7 92.1L171.5 92.4L172.2 92.6L173 92.7L173.7 92.9L174.5 93L175.2 93L175.9 93L176.7 93L177.4 92.9L178.2 92.9L178.9 92.9L179.7 93L180.4 93L181.2 92.9L181.9 92.9L182.6 92.8L183.4 92.7L184.1 92.5L184.9 92.5L185.6 92.4L186.4 92.4L187.1 92.4L187.8 92.3L188.6 92.1L189.3 91.8L190.1 91.1L190.8 90.1L191.6 88.8L192.3 87.3L193.1 86.4L193.8 86.5L194.5 87.7L195.3 89.1L196 90.4L196.8 91.3L197.5 91.7L198.3 91.9L199 91.9L199.7 91.7L200.5 91.3L201.2 90.8L202 90.2L202.7 89.9L203.5 90.2L204.2 90.8L205 91.3L205.7 91.7L206.4 91.8L207.2 91.7L207.9 91.3L208.7 90.6L209.4 89.4L210.2 87.7L210.9 85.5L211.6 83.6L212.4 82.8L213.1 83.9L213.9 85.8L214.6 87.8L215.4 89.4L216.1 90.6L216.8 91.4L217.6 91.8L218.3 92.1L219.1 92.3L219.8 92.4L220.6 92.5L221.3 92.5L222.1 92.6L222.8 92.7L223.5 92.8L224.3 92.9L225 92.9L225.8 92.8L226.5 92.7L227.3 92.6L228 92.4L228.7 92.1L229.5 91.8L230.2 91.2L231 90.4L231.7 89.3L232.5 87.9L233.2 86.7L234 86.4L234.7 87.2L235.4 88.6L236.2 90.1L236.9 91.2L237.7 92.1L238.4 92.7L238.4 94.5L156.6 94.5Z" fill="#fff" stroke="none"/>
<path d="M156.6 92.1L157.4 91.8L158.1 91.4L158.8 91.1L159.6 90.9L160.3 90.8L161.1 90.5L161.8 89.8L162.6 88.5L163.3 86.7L164.1 84.7L164.8 83.5L165.5 83.9L166.3 85.7L167 87.7L167.8 89.4L168.5 90.6L169.3 91.4L170 91.8L170.7 92.1L171.5 92.4L172.2 92.6L173 92.7L173.7 92.9L174.5 93L175.2 93L175.9 93L176.7 93L177.4 92.9L178.2 92.9L178.9 92.9L179.7 93L180.4 93L181.2 92.9L181.9 92.9L182.6 92.8L183.4 92.7L184.1 92.5L184.9 92.5L185.6 92.4L186.4 92.4L187.1 92.4L187.8 92.3L188.6 92.1L189.3 91.8L190.1 91.1L190.8 90.1L191.6 88.8L192.3 87.3L193.1 86.4L193.8 86.5L194.5 87.7L195.3 89.1L196 90.4L196.8 91.3L197.5 91.7L198.3 91.9L199 91.9L199.7 91.7L200.5 91.3L201.2 90.8L202 90.2L202.7 89.9L203.5 90.2L204.2 90.8L205 91.3L205.7 91.7L206.4 91.8L207.2 91.7L207.9 91.3L208.7 90.6L209.4 89.4L210.2 87.7L210.9 85.5L211.6 83.6L212.4 82.8L213.1 83.9L213.9 85.8L214.6 87.8L215.4 89.4L216.1 90.6L216.8 91.4L217.6 91.8L218.3 92.1L219.1 92.3L219.8 92.4L220.6 92.5L221.3 92.5L222.1 92.6L222.8 92.7L223.5 92.8L224.3 92.9L225 92.9L225.8 92.8L226.5 92.7L227.3 92.6L228 92.4L228.7 92.1L229.5 91.8L230.2 91.2L231 90.4L231.7 89.3L232.5 87.9L233.2 86.7L234 86.4L234.7 87.2L235.4 88.6L236.2 90.1L236.9 91.2L237.7 92.1L238.4 92.7" fill="none" stroke="#666" stroke-width="0.62" stroke-linejoin="round"/>
<path d="M154.8 95.6L155.5 95.2L156.3 94.8L157 94.4L157.8 94.2L158.5 94.2L159.2 94L160 93.3L160.7 92.1L161.5 90.3L162.2 88.3L163 87.1L163.7 87.4L164.4 89.2L165.2 91.3L165.9 93.1L166.7 94.4L167.4 95.2L168.2 95.7L168.9 96L169.7 96.1L170.4 96.1L171.1 96.2L171.9 96.3L172.6 96.4L173.4 96.5L174.1 96.6L174.9 96.7L175.6 96.7L176.3 96.7L177.1 96.6L177.8 96.6L178.6 96.5L179.3 96.5L180.1 96.5L180.8 96.5L181.5 96.4L182.3 96.4L183 96.2L183.8 96.1L184.5 95.9L185.3 95.7L186 95.5L186.8 95.3L187.5 94.9L188.2 94.3L189 93.4L189.7 92.1L190.5 90.7L191.2 89.7L192 89.7L192.7 90.9L193.4 92.3L194.2 93.6L194.9 94.6L195.7 95.2L196.4 95.4L197.2 95.4L197.9 95.1L198.7 94.5L199.4 93.7L200.1 92.9L200.9 92.4L201.6 92.8L202.4 93.6L203.1 94.4L203.9 94.9L204.6 95.2L205.3 95.1L206.1 94.7L206.8 93.9L207.6 92.6L208.3 90.8L209.1 88.6L209.8 86.7L210.6 86L211.3 87.2L212 89.3L212.8 91.4L213.5 93L214.3 94.1L215 94.8L215.8 95.2L216.5 95.5L217.2 95.8L218 95.9L218.7 96L219.5 96.1L220.2 96.1L221 96.1L221.7 96.1L222.4 96.1L223.2 96.2L223.9 96.2L224.7 96.2L225.4 96.1L226.2 95.9L226.9 95.6L227.7 95.1L228.4 94.4L229.1 93.3L229.9 91.9L230.6 90.3L231.4 89L232.1 88.7L232.9 89.7L233.6 91.3L234.3 92.9L235.1 94.1L235.8 95L236.6 95.6L236.6 98L154.8 98Z" fill="#fff" stroke="none"/>
<path d="M154.8 95.6L155.5 95.2L156.3 94.8L157 94.4L157.8 94.2L158.5 94.2L159.2 94L160 93.3L160.7 92.1L161.5 90.3L162.2 88.3L163 87.1L163.7 87.4L164.4 89.2L165.2 91.3L165.9 93.1L166.7 94.4L167.4 95.2L168.2 95.7L168.9 96L169.7 96.1L170.4 96.1L171.1 96.2L171.9 96.3L172.6 96.4L173.4 96.5L174.1 96.6L174.9 96.7L175.6 96.7L176.3 96.7L177.1 96.6L177.8 96.6L178.6 96.5L179.3 96.5L180.1 96.5L180.8 96.5L181.5 96.4L182.3 96.4L183 96.2L183.8 96.1L184.5 95.9L185.3 95.7L186 95.5L186.8 95.3L187.5 94.9L188.2 94.3L189 93.4L189.7 92.1L190.5 90.7L191.2 89.7L192 89.7L192.7 90.9L193.4 92.3L194.2 93.6L194.9 94.6L195.7 95.2L196.4 95.4L197.2 95.4L197.9 95.1L198.7 94.5L199.4 93.7L200.1 92.9L200.9 92.4L201.6 92.8L202.4 93.6L203.1 94.4L203.9 94.9L204.6 95.2L205.3 95.1L206.1 94.7L206.8 93.9L207.6 92.6L208.3 90.8L209.1 88.6L209.8 86.7L210.6 86L211.3 87.2L212 89.3L212.8 91.4L213.5 93L214.3 94.1L215 94.8L215.8 95.2L216.5 95.5L217.2 95.8L218 95.9L218.7 96L219.5 96.1L220.2 96.1L221 96.1L221.7 96.1L222.4 96.1L223.2 96.2L223.9 96.2L224.7 96.2L225.4 96.1L226.2 95.9L226.9 95.6L227.7 95.1L228.4 94.4L229.1 93.3L229.9 91.9L230.6 90.3L231.4 89L232.1 88.7L232.9 89.7L233.6 91.3L234.3 92.9L235.1 94.1L235.8 95L236.6 95.6" fill="none" stroke="#666" stroke-width="0.62" stroke-linejoin="round"/>
<path d="M152.9 99.3L153.7 99L154.4 98.6L155.2 98.2L155.9 97.9L156.7 97.7L157.4 97.3L158.1 96.6L158.9 95.4L159.6 93.7L160.4 91.8L161.1 90.6L161.9 91L162.6 92.8L163.4 94.8L164.1 96.6L164.8 97.9L165.6 98.7L166.3 99.3L167.1 99.6L167.8 99.8L168.6 99.9L169.3 99.9L170 99.9L170.8 99.8L171.5 99.8L172.3 99.8L173 99.9L173.8 100L174.5 100.1L175.3 100.1L176 100.2L176.7 100.1L177.5 100.1L178.2 100L179 99.9L179.7 99.9L180.5 99.9L181.2 99.8L181.9 99.8L182.7 99.7L183.4 99.5L184.2 99.2L184.9 98.8L185.7 98.3L186.4 97.6L187.2 96.6L187.9 95.3L188.6 94L189.4 93.1L190.1 93.2L190.9 94.3L191.6 95.7L192.4 97L193.1 97.9L193.8 98.4L194.6 98.7L195.3 98.8L196.1 98.5L196.8 97.9L197.6 97L198.3 96L199 95.4L199.8 95.6L200.5 96.4L201.3 97.2L202 97.9L202.8 98.2L203.5 98.2L204.3 97.8L205 97L205.7 95.5L206.5 93.4L207.2 90.8L208 88.6L208.7 87.9L209.5 89.3L210.2 91.9L210.9 94.4L211.7 96.3L212.4 97.6L213.2 98.3L213.9 98.7L214.7 98.9L215.4 99.1L216.2 99.2L216.9 99.3L217.6 99.4L218.4 99.5L219.1 99.5L219.9 99.5L220.6 99.5L221.4 99.5L222.1 99.4L222.8 99.4L223.6 99.4L224.3 99.3L225.1 99.1L225.8 98.7L226.6 97.9L227.3 96.7L228.1 95.1L228.8 93.1L229.5 91.5L230.3 91L231 92.1L231.8 94L232.5 95.8L233.3 97.3L234 98.3L234.7 98.9L234.7 101.5L152.9 101.5Z" fill="#fff" stroke="none"/>
<path d="M152.9 99.3L153.7 99L154.4 98.6L155.2 98.2L155.9 97.9L156.7 97.7L157.4 97.3L158.1 96.6L158.9 95.4L159.6 93.7L160.4 91.8L161.1 90.6L161.9 91L162.6 92.8L163.4 94.8L164.1 96.6L164.8 97.9L165.6 98.7L166.3 99.3L167.1 99.6L167.8 99.8L168.6 99.9L169.3 99.9L170 99.9L170.8 99.8L171.5 99.8L172.3 99.8L173 99.9L173.8 100L174.5 100.1L175.3 100.1L176 100.2L176.7 100.1L177.5 100.1L178.2 100L179 99.9L179.7 99.9L180.5 99.9L181.2 99.8L181.9 99.8L182.7 99.7L183.4 99.5L184.2 99.2L184.9 98.8L185.7 98.3L186.4 97.6L187.2 96.6L187.9 95.3L188.6 94L189.4 93.1L190.1 93.2L190.9 94.3L191.6 95.7L192.4 97L193.1 97.9L193.8 98.4L194.6 98.7L195.3 98.8L196.1 98.5L196.8 97.9L197.6 97L198.3 96L199 95.4L199.8 95.6L200.5 96.4L201.3 97.2L202 97.9L202.8 98.2L203.5 98.2L204.3 97.8L205 97L205.7 95.5L206.5 93.4L207.2 90.8L208 88.6L208.7 87.9L209.5 89.3L210.2 91.9L210.9 94.4L211.7 96.3L212.4 97.6L213.2 98.3L213.9 98.7L214.7 98.9L215.4 99.1L216.2 99.2L216.9 99.3L217.6 99.4L218.4 99.5L219.1 99.5L219.9 99.5L220.6 99.5L221.4 99.5L222.1 99.4L222.8 99.4L223.6 99.4L224.3 99.3L225.1 99.1L225.8 98.7L226.6 97.9L227.3 96.7L228.1 95.1L228.8 93.1L229.5 91.5L230.3 91L231 92.1L231.8 94L232.5 95.8L233.3 97.3L234 98.3L234.7 98.9" fill="none" stroke="#666" stroke-width="0.62" stroke-linejoin="round"/>
<path d="M151.1 103.1L151.9 102.9L152.6 102.6L153.3 102.3L154.1 102L154.8 101.7L155.6 101.1L156.3 100L157.1 98.4L157.8 96.4L158.5 94.2L159.3 92.9L160 93.5L160.8 95.4L161.5 97.8L162.3 99.7L163 101.1L163.7 102L164.5 102.5L165.2 102.8L166 103L166.7 103.2L167.5 103.3L168.2 103.3L169 103.3L169.7 103.3L170.4 103.2L171.2 103.1L171.9 103.1L172.7 103.1L173.4 103.1L174.2 103.2L174.9 103.3L175.6 103.4L176.4 103.4L177.1 103.4L177.9 103.3L178.6 103.3L179.4 103.2L180.1 103.2L180.9 103.2L181.6 103.1L182.3 103L183.1 102.7L183.8 102.2L184.6 101.4L185.3 100.3L186.1 98.9L186.8 97.5L187.5 96.5L188.3 96.6L189 97.8L189.8 99.3L190.5 100.6L191.3 101.5L192 102.1L192.8 102.3L193.5 102.2L194.2 101.8L195 101.2L195.7 100.2L196.5 99.1L197.2 98.5L198 98.8L198.7 99.7L199.4 100.5L200.2 101.1L200.9 101.3L201.7 101.2L202.4 100.7L203.2 99.7L203.9 98.1L204.6 95.8L205.4 93L206.1 90.4L206.9 89.6L207.6 91.1L208.4 93.9L209.1 96.7L209.9 99L210.6 100.5L211.3 101.5L212.1 102.1L212.8 102.4L213.6 102.5L214.3 102.6L215.1 102.6L215.8 102.6L216.5 102.7L217.3 102.7L218 102.8L218.8 102.9L219.5 102.9L220.3 102.9L221 102.8L221.8 102.7L222.5 102.5L223.2 102.3L224 101.9L224.7 101.1L225.5 99.9L226.2 98.1L227 96L227.7 94.1L228.4 93.5L229.2 94.6L229.9 96.7L230.7 98.8L231.4 100.4L232.2 101.6L232.9 102.3L232.9 105L151.1 105Z" fill="#fff" stroke="none"/>
<path d="M151.1 103.1L151.9 102.9L152.6 102.6L153.3 102.3L154.1 102L154.8 101.7L155.6 101.1L156.3 100L157.1 98.4L157.8 96.4L158.5 94.2L159.3 92.9L160 93.5L160.8 95.4L161.5 97.8L162.3 99.7L163 101.1L163.7 102L164.5 102.5L165.2 102.8L166 103L166.7 103.2L167.5 103.3L168.2 103.3L169 103.3L169.7 103.3L170.4 103.2L171.2 103.1L171.9 103.1L172.7 103.1L173.4 103.1L174.2 103.2L174.9 103.3L175.6 103.4L176.4 103.4L177.1 103.4L177.9 103.3L178.6 103.3L179.4 103.2L180.1 103.2L180.9 103.2L181.6 103.1L182.3 103L183.1 102.7L183.8 102.2L184.6 101.4L185.3 100.3L186.1 98.9L186.8 97.5L187.5 96.5L188.3 96.6L189 97.8L189.8 99.3L190.5 100.6L191.3 101.5L192 102.1L192.8 102.3L193.5 102.2L194.2 101.8L195 101.2L195.7 100.2L196.5 99.1L197.2 98.5L198 98.8L198.7 99.7L199.4 100.5L200.2 101.1L200.9 101.3L201.7 101.2L202.4 100.7L203.2 99.7L203.9 98.1L204.6 95.8L205.4 93L206.1 90.4L206.9 89.6L207.6 91.1L208.4 93.9L209.1 96.7L209.9 99L210.6 100.5L211.3 101.5L212.1 102.1L212.8 102.4L213.6 102.5L214.3 102.6L215.1 102.6L215.8 102.6L216.5 102.7L217.3 102.7L218 102.8L218.8 102.9L219.5 102.9L220.3 102.9L221 102.8L221.8 102.7L222.5 102.5L223.2 102.3L224 101.9L224.7 101.1L225.5 99.9L226.2 98.1L227 96L227.7 94.1L228.4 93.5L229.2 94.6L229.9 96.7L230.7 98.8L231.4 100.4L232.2 101.6L232.9 102.3" fill="none" stroke="#666" stroke-width="0.62" stroke-linejoin="round"/>
<path d="M149.3 106.6L150 106.3L150.8 106L151.5 105.7L152.2 105.3L153 104.9L153.7 104.3L154.5 103.1L155.2 101.3L156 99L156.7 96.5L157.5 94.9L158.2 95.4L158.9 97.5L159.7 100.1L160.4 102.3L161.2 104L161.9 105.1L162.7 105.8L163.4 106.2L164.1 106.4L164.9 106.6L165.6 106.7L166.4 106.8L167.1 107L167.9 107.1L168.6 107.1L169.3 107.1L170.1 107.1L170.8 107L171.6 107L172.3 106.9L173.1 106.9L173.8 107L174.6 107.1L175.3 107.2L176 107.2L176.8 107.2L177.5 107.2L178.3 107.1L179 107L179.8 106.8L180.5 106.7L181.2 106.4L182 106L182.7 105.3L183.5 104.3L184.2 102.9L185 101.4L185.7 100.3L186.5 100.3L187.2 101.2L187.9 102.5L188.7 103.7L189.4 104.6L190.2 105.2L190.9 105.4L191.7 105.3L192.4 104.9L193.1 104.1L193.9 103.1L194.6 102L195.4 101.4L196.1 101.8L196.9 102.8L197.6 103.8L198.4 104.4L199.1 104.6L199.8 104.4L200.6 103.7L201.3 102.4L202.1 100.5L202.8 97.9L203.6 94.7L204.3 91.9L205 91.1L205.8 93L206.5 96.2L207.3 99.4L208 101.9L208.8 103.7L209.5 104.9L210.2 105.6L211 106.1L211.7 106.5L212.5 106.6L213.2 106.7L214 106.7L214.7 106.7L215.5 106.6L216.2 106.6L216.9 106.5L217.7 106.5L218.4 106.5L219.2 106.4L219.9 106.3L220.7 106.1L221.4 105.7L222.1 105L222.9 104L223.6 102.5L224.4 100.5L225.1 98.1L225.9 96L226.6 95.5L227.4 96.8L228.1 99.2L228.8 101.4L229.6 103.2L230.3 104.3L231.1 105.1L231.1 108.5L149.3 108.5Z" fill="#fff" stroke="none"/>
<path d="M149.3 106.6L150 106.3L150.8 106L151.5 105.7L152.2 105.3L153 104.9L153.7 104.3L154.5 103.1L155.2 101.3L156 99L156.7 96.5L157.5 94.9L158.2 95.4L158.9 97.5L159.7 100.1L160.4 102.3L161.2 104L161.9 105.1L162.7 105.8L163.4 106.2L164.1 106.4L164.9 106.6L165.6 106.7L166.4 106.8L167.1 107L167.9 107.1L168.6 107.1L169.3 107.1L170.1 107.1L170.8 107L171.6 107L172.3 106.9L173.1 106.9L173.8 107L174.6 107.1L175.3 107.2L176 107.2L176.8 107.2L177.5 107.2L178.3 107.1L179 107L179.8 106.8L180.5 106.7L181.2 106.4L182 106L182.7 105.3L183.5 104.3L184.2 102.9L185 101.4L185.7 100.3L186.5 100.3L187.2 101.2L187.9 102.5L188.7 103.7L189.4 104.6L190.2 105.2L190.9 105.4L191.7 105.3L192.4 104.9L193.1 104.1L193.9 103.1L194.6 102L195.4 101.4L196.1 101.8L196.9 102.8L197.6 103.8L198.4 104.4L199.1 104.6L199.8 104.4L200.6 103.7L201.3 102.4L202.1 100.5L202.8 97.9L203.6 94.7L204.3 91.9L205 91.1L205.8 93L206.5 96.2L207.3 99.4L208 101.9L208.8 103.7L209.5 104.9L210.2 105.6L211 106.1L211.7 106.5L212.5 106.6L213.2 106.7L214 106.7L214.7 106.7L215.5 106.6L216.2 106.6L216.9 106.5L217.7 106.5L218.4 106.5L219.2 106.4L219.9 106.3L220.7 106.1L221.4 105.7L222.1 105L222.9 104L223.6 102.5L224.4 100.5L225.1 98.1L225.9 96L226.6 95.5L227.4 96.8L228.1 99.2L228.8 101.4L229.6 103.2L230.3 104.3L231.1 105.1" fill="none" stroke="#666" stroke-width="0.62" stroke-linejoin="round"/>
<path d="M147.4 110.3L148.2 110.2L148.9 110L149.7 109.8L150.4 109.4L151.2 109L151.9 108.3L152.6 107.1L153.4 105.4L154.1 103.1L154.9 100.7L155.6 99.1L156.4 99.5L157.1 101.4L157.8 103.9L158.6 106L159.3 107.6L160.1 108.7L160.8 109.4L161.6 109.9L162.3 110.2L163.1 110.4L163.8 110.5L164.5 110.5L165.3 110.5L166 110.5L166.8 110.5L167.5 110.6L168.3 110.6L169 110.6L169.7 110.5L170.5 110.4L171.2 110.3L172 110.2L172.7 110.1L173.5 110L174.2 110.1L175 110.1L175.7 110.1L176.4 110.2L177.2 110.1L177.9 110L178.7 109.9L179.4 109.6L180.2 109.2L180.9 108.6L181.6 107.7L182.4 106.6L183.1 105.3L183.9 104.3L184.6 104.4L185.4 105.3L186.1 106.4L186.8 107.5L187.6 108.2L188.3 108.7L189.1 108.9L189.8 108.9L190.6 108.7L191.3 108L192.1 107L192.8 105.9L193.5 105.2L194.3 105.6L195 106.6L195.8 107.6L196.5 108.3L197.3 108.6L198 108.5L198.7 107.8L199.5 106.6L200.2 104.5L201 101.7L201.7 98.4L202.5 95.4L203.2 94.5L204 96.3L204.7 99.6L205.4 102.8L206.2 105.3L206.9 107L207.7 108.1L208.4 108.8L209.2 109.2L209.9 109.4L210.6 109.7L211.4 109.9L212.1 110L212.9 110L213.6 110L214.4 109.9L215.1 109.8L215.9 109.7L216.6 109.5L217.3 109.4L218.1 109.3L218.8 109.2L219.6 108.9L220.3 108.3L221.1 107.4L221.8 105.9L222.5 103.8L223.3 101.3L224 99.3L224.8 98.8L225.5 100.3L226.3 102.9L227 105.3L227.7 107.2L228.5 108.4L229.2 109.2L229.2 112L147.4 112Z" fill="#fff" stroke="none"/>
<path d="M147.4 110.3L148.2 110.2L148.9 110L149.7 109.8L150.4 109.4L151.2 109L151.9 108.3L152.6 107.1L153.4 105.4L154.1 103.1L154.9 100.7L155.6 99.1L156.4 99.5L157.1 101.4L157.8 103.9L158.6 106L159.3 107.6L160.1 108.7L160.8 109.4L161.6 109.9L162.3 110.2L163.1 110.4L163.8 110.5L164.5 110.5L165.3 110.5L166 110.5L166.8 110.5L167.5 110.6L168.3 110.6L169 110.6L169.7 110.5L170.5 110.4L171.2 110.3L172 110.2L172.7 110.1L173.5 110L174.2 110.1L175 110.1L175.7 110.1L176.4 110.2L177.2 110.1L177.9 110L178.7 109.9L179.4 109.6L180.2 109.2L180.9 108.6L181.6 107.7L182.4 106.6L183.1 105.3L183.9 104.3L184.6 104.4L185.4 105.3L186.1 106.4L186.8 107.5L187.6 108.2L188.3 108.7L189.1 108.9L189.8 108.9L190.6 108.7L191.3 108L192.1 107L192.8 105.9L193.5 105.2L194.3 105.6L195 106.6L195.8 107.6L196.5 108.3L197.3 108.6L198 108.5L198.7 107.8L199.5 106.6L200.2 104.5L201 101.7L201.7 98.4L202.5 95.4L203.2 94.5L204 96.3L204.7 99.6L205.4 102.8L206.2 105.3L206.9 107L207.7 108.1L208.4 108.8L209.2 109.2L209.9 109.4L210.6 109.7L211.4 109.9L212.1 110L212.9 110L213.6 110L214.4 109.9L215.1 109.8L215.9 109.7L216.6 109.5L217.3 109.4L218.1 109.3L218.8 109.2L219.6 108.9L220.3 108.3L221.1 107.4L221.8 105.9L222.5 103.8L223.3 101.3L224 99.3L224.8 98.8L225.5 100.3L226.3 102.9L227 105.3L227.7 107.2L228.5 108.4L229.2 109.2" fill="none" stroke="#666" stroke-width="0.62" stroke-linejoin="round"/>
<path d="M145.6 113.8L146.3 113.8L147.1 113.8L147.8 113.6L148.6 113.3L149.3 112.8L150.1 112L150.8 110.7L151.5 108.8L152.3 106.4L153 103.9L153.8 102.4L154.5 102.8L155.3 104.8L156 107.2L156.8 109.3L157.5 110.7L158.2 111.7L159 112.3L159.7 112.7L160.5 113L161.2 113.3L162 113.5L162.7 113.7L163.4 113.8L164.2 113.8L164.9 113.9L165.7 113.9L166.4 113.9L167.2 114L167.9 114L168.7 114.1L169.4 114.1L170.1 114.1L170.9 114L171.6 113.9L172.4 113.8L173.1 113.8L173.9 113.7L174.6 113.8L175.3 113.8L176.1 113.8L176.8 113.8L177.6 113.6L178.3 113.2L179.1 112.6L179.8 111.7L180.6 110.5L181.3 109.3L182 108.4L182.8 108.5L183.5 109.5L184.3 110.6L185 111.6L185.8 112.2L186.5 112.5L187.2 112.5L188 112.3L188.7 111.9L189.5 111.2L190.2 110.2L191 109.1L191.7 108.5L192.4 108.8L193.2 109.8L193.9 110.7L194.7 111.3L195.4 111.5L196.2 111.4L196.9 110.9L197.7 109.7L198.4 107.9L199.1 105.1L199.9 101.8L200.6 98.8L201.4 97.8L202.1 99.5L202.9 102.7L203.6 105.9L204.3 108.5L205.1 110.3L205.8 111.5L206.6 112.2L207.3 112.7L208.1 113L208.8 113.2L209.6 113.3L210.3 113.5L211 113.6L211.8 113.8L212.5 113.9L213.3 113.9L214 113.9L214.8 113.7L215.5 113.6L216.2 113.3L217 113L217.7 112.7L218.5 112.1L219.2 111.1L220 109.7L220.7 107.6L221.5 105.2L222.2 103L222.9 102.4L223.7 103.8L224.4 106.2L225.2 108.7L225.9 110.6L226.7 111.9L227.4 112.8L227.4 115.5L145.6 115.5Z" fill="#fff" stroke="none"/>
<path d="M145.6 113.8L146.3 113.8L147.1 113.8L147.8 113.6L148.6 113.3L149.3 112.8L150.1 112L150.8 110.7L151.5 108.8L152.3 106.4L153 103.9L153.8 102.4L154.5 102.8L155.3 104.8L156 107.2L156.8 109.3L157.5 110.7L158.2 111.7L159 112.3L159.7 112.7L160.5 113L161.2 113.3L162 113.5L162.7 113.7L163.4 113.8L164.2 113.8L164.9 113.9L165.7 113.9L166.4 113.9L167.2 114L167.9 114L168.7 114.1L169.4 114.1L170.1 114.1L170.9 114L171.6 113.9L172.4 113.8L173.1 113.8L173.9 113.7L174.6 113.8L175.3 113.8L176.1 113.8L176.8 113.8L177.6 113.6L178.3 113.2L179.1 112.6L179.8 111.7L180.6 110.5L181.3 109.3L182 108.4L182.8 108.5L183.5 109.5L184.3 110.6L185 111.6L185.8 112.2L186.5 112.5L187.2 112.5L188 112.3L188.7 111.9L189.5 111.2L190.2 110.2L191 109.1L191.7 108.5L192.4 108.8L193.2 109.8L193.9 110.7L194.7 111.3L195.4 111.5L196.2 111.4L196.9 110.9L197.7 109.7L198.4 107.9L199.1 105.1L199.9 101.8L200.6 98.8L201.4 97.8L202.1 99.5L202.9 102.7L203.6 105.9L204.3 108.5L205.1 110.3L205.8 111.5L206.6 112.2L207.3 112.7L208.1 113L208.8 113.2L209.6 113.3L210.3 113.5L211 113.6L211.8 113.8L212.5 113.9L213.3 113.9L214 113.9L214.8 113.7L215.5 113.6L216.2 113.3L217 113L217.7 112.7L218.5 112.1L219.2 111.1L220 109.7L220.7 107.6L221.5 105.2L222.2 103L222.9 102.4L223.7 103.8L224.4 106.2L225.2 108.7L225.9 110.6L226.7 111.9L227.4 112.8" fill="none" stroke="#666" stroke-width="0.62" stroke-linejoin="round"/>
<path d="M145.6 115.3h81.8" stroke="#444" stroke-width="0.6" fill="none"/>
<rect x="281.6" y="4.3" width="85.2" height="61.7" fill="#fbfbfb" stroke="#6a6a6a" stroke-width="0.6"/>
<path d="M281.6 63.8h85.2M281.6 61.6h85.2M281.6 59.4h85.2M281.6 57.2h85.2M281.6 52.8h85.2M281.6 50.6h85.2M281.6 48.4h85.2M281.6 46.2h85.2M281.6 41.8h85.2M281.6 39.6h85.2M281.6 37.4h85.2M281.6 35.2h85.2M281.6 30.8h85.2M281.6 28.6h85.2M281.6 26.4h85.2M281.6 24.2h85.2M281.6 19.8h85.2M281.6 17.6h85.2M281.6 15.4h85.2M281.6 13.2h85.2M281.6 8.8h85.2M281.6 6.6h85.2M281.6 4.3v61.7M292.1 4.3v61.7M297.4 4.3v61.7M302.6 4.3v61.7M313.1 4.3v61.7M318.4 4.3v61.7M323.6 4.3v61.7M334.1 4.3v61.7M339.4 4.3v61.7M344.6 4.3v61.7M355.1 4.3v61.7M360.4 4.3v61.7M365.6 4.3v61.7" stroke="#ebebeb" stroke-width="0.5" fill="none"/>
<path d="M281.6 55h85.2M281.6 44h85.2M281.6 33h85.2M281.6 22h85.2M281.6 11h85.2M307.9 4.3v61.7M349.9 4.3v61.7" stroke="#c6c6c6" stroke-width="0.55" fill="none"/>
<path d="M286.9 4.3v61.7M328.9 4.3v61.7" stroke="#9c9c9c" stroke-width="0.6" fill="none"/>
<path d="M253.8 115L253.8 53.3L281.6 4.3L281.6 66Z" fill="#fcfcfc" stroke="#6a6a6a" stroke-width="0.6"/>
<path d="M253.8 104L281.6 55M253.8 93L281.6 44M253.8 82L281.6 33M253.8 71L281.6 22M253.8 60L281.6 11M257.8 108v-61.7M261.7 101v-61.7M265.7 94v-61.7M269.7 87v-61.7M273.7 80v-61.7M277.6 73v-61.7" stroke="#bcbcbc" stroke-width="0.5" fill="none"/>
<path d="M253.8 115h85.2L366.8 66" stroke="#666" stroke-width="0.6" fill="none"/>
<path d="M281.6 4.6L282.4 4.6L283.1 14.1L283.9 24L284.7 32.8L285.5 40.1L286.2 45.8L287 50.1L287.8 53.1L288.6 55.2L289.3 56.7L290.1 57.7L290.9 58.5L291.7 59L292.4 59.1L293.2 58.8L294 57.7L294.8 55.9L295.5 53.2L296.3 50.1L297.1 48.2L297.9 48.8L298.6 51.6L299.4 55L300.2 57.7L301 59.7L301.7 60.8L302.5 61.4L303.3 61.5L304.1 61.3L304.8 60.6L305.6 59.5L306.4 57.9L307.2 56L307.9 54.4L308.7 54.4L309.5 56L310.3 58.1L311 59.9L311.8 61.3L312.6 62.2L313.4 62.7L314.1 62.9L314.9 62.9L315.7 62.7L316.5 62.4L317.2 61.8L318 60.8L318.8 59L319.6 56.2L320.3 51.7L321.1 45.8L321.9 39.9L322.7 37.7L323.4 41.4L324.2 47.7L325 53.5L325.7 57.6L326.5 60.2L327.3 61.7L328.1 62.6L328.8 63.2L329.6 63.6L330.4 63.9L331.2 64L331.9 64.1L332.7 64.1L333.5 64.2L334.3 64.3L335 64.5L335.8 64.6L336.6 64.8L337.4 64.9L338.1 65L338.9 65L339.7 65.1L340.5 65.1L341.2 65.2L342 65.3L342.8 65.4L343.6 65.5L344.3 65.5L345.1 65.4L345.9 65.3L346.7 65.2L347.4 65.1L348.2 65.1L349 65.1L349.8 65.1L350.5 65.2L351.3 65.2L352.1 65.2L352.9 65.2L353.6 65.2L354.4 65.1L355.2 65.1L356 65.2L356.7 65.2L357.5 65.3L358.3 65.3L359.1 65.3L359.8 65.2L360.6 65.1L361.4 65L362.2 64.9L362.9 64.8L363.7 64.8L364.5 64.9L365.3 64.9L366 65L366.8 65L366.8 66.5L281.6 66.5Z" fill="#fff" stroke="none"/>
<path d="M281.6 4.6L282.4 4.6L283.1 14.1L283.9 24L284.7 32.8L285.5 40.1L286.2 45.8L287 50.1L287.8 53.1L288.6 55.2L289.3 56.7L290.1 57.7L290.9 58.5L291.7 59L292.4 59.1L293.2 58.8L294 57.7L294.8 55.9L295.5 53.2L296.3 50.1L297.1 48.2L297.9 48.8L298.6 51.6L299.4 55L300.2 57.7L301 59.7L301.7 60.8L302.5 61.4L303.3 61.5L304.1 61.3L304.8 60.6L305.6 59.5L306.4 57.9L307.2 56L307.9 54.4L308.7 54.4L309.5 56L310.3 58.1L311 59.9L311.8 61.3L312.6 62.2L313.4 62.7L314.1 62.9L314.9 62.9L315.7 62.7L316.5 62.4L317.2 61.8L318 60.8L318.8 59L319.6 56.2L320.3 51.7L321.1 45.8L321.9 39.9L322.7 37.7L323.4 41.4L324.2 47.7L325 53.5L325.7 57.6L326.5 60.2L327.3 61.7L328.1 62.6L328.8 63.2L329.6 63.6L330.4 63.9L331.2 64L331.9 64.1L332.7 64.1L333.5 64.2L334.3 64.3L335 64.5L335.8 64.6L336.6 64.8L337.4 64.9L338.1 65L338.9 65L339.7 65.1L340.5 65.1L341.2 65.2L342 65.3L342.8 65.4L343.6 65.5L344.3 65.5L345.1 65.4L345.9 65.3L346.7 65.2L347.4 65.1L348.2 65.1L349 65.1L349.8 65.1L350.5 65.2L351.3 65.2L352.1 65.2L352.9 65.2L353.6 65.2L354.4 65.1L355.2 65.1L356 65.2L356.7 65.2L357.5 65.3L358.3 65.3L359.1 65.3L359.8 65.2L360.6 65.1L361.4 65L362.2 64.9L362.9 64.8L363.7 64.8L364.5 64.9L365.3 64.9L366 65L366.8 65" fill="none" stroke="#666" stroke-width="0.62" stroke-linejoin="round"/>
<path d="M279.6 4.6L280.4 11.6L281.2 20.9L281.9 30.2L282.7 38.4L283.5 45.3L284.3 50.7L285 54.7L285.8 57.6L286.6 59.7L287.4 61L288.1 61.9L288.9 62.5L289.7 62.8L290.5 62.8L291.2 62.5L292 61.8L292.8 60.3L293.6 58.2L294.3 55.8L295.1 54.1L295.9 54.6L296.7 56.9L297.4 59.7L298.2 62L299 63.6L299.8 64.7L300.5 65.2L301.3 65.4L302.1 65.2L302.9 64.5L303.6 63.4L304.4 61.8L305.2 60L305.9 58.6L306.7 58.7L307.5 60.2L308.3 62.3L309 64.1L309.8 65.3L310.6 66.1L311.4 66.5L312.1 66.7L312.9 66.8L313.7 66.7L314.5 66.5L315.2 66.1L316 65.2L316.8 63.7L317.6 60.9L318.3 56.8L319.1 51.2L319.9 45.8L320.7 43.8L321.4 47.2L322.2 53L323 58.3L323.8 62L324.5 64.3L325.3 65.6L326.1 66.4L326.9 66.9L327.6 67.2L328.4 67.5L329.2 67.7L330 67.8L330.7 67.9L331.5 67.9L332.3 67.8L333.1 67.8L333.8 67.8L334.6 67.9L335.4 68L336.2 68.1L336.9 68.2L337.7 68.3L338.5 68.4L339.3 68.4L340 68.4L340.8 68.5L341.6 68.6L342.4 68.7L343.1 68.8L343.9 68.9L344.7 68.9L345.5 68.9L346.2 68.8L347 68.7L347.8 68.7L348.5 68.6L349.3 68.7L350.1 68.7L350.9 68.8L351.6 68.9L352.4 68.9L353.2 68.9L354 68.9L354.7 68.9L355.5 68.9L356.3 68.9L357.1 69L357.8 69.1L358.6 69.1L359.4 69.1L360.2 69L360.9 68.9L361.7 68.7L362.5 68.6L363.3 68.5L364 68.5L364.8 68.5L364.8 70L279.6 70Z" fill="#fff" stroke="none"/>
<path d="M279.6 4.6L280.4 11.6L281.2 20.9L281.9 30.2L282.7 38.4L283.5 45.3L284.3 50.7L285 54.7L285.8 57.6L286.6 59.7L287.4 61L288.1 61.9L288.9 62.5L289.7 62.8L290.5 62.8L291.2 62.5L292 61.8L292.8 60.3L293.6 58.2L294.3 55.8L295.1 54.1L295.9 54.6L296.7 56.9L297.4 59.7L298.2 62L299 63.6L299.8 64.7L300.5 65.2L301.3 65.4L302.1 65.2L302.9 64.5L303.6 63.4L304.4 61.8L305.2 60L305.9 58.6L306.7 58.7L307.5 60.2L308.3 62.3L309 64.1L309.8 65.3L310.6 66.1L311.4 66.5L312.1 66.7L312.9 66.8L313.7 66.7L314.5 66.5L315.2 66.1L316 65.2L316.8 63.7L317.6 60.9L318.3 56.8L319.1 51.2L319.9 45.8L320.7 43.8L321.4 47.2L322.2 53L323 58.3L323.8 62L324.5 64.3L325.3 65.6L326.1 66.4L326.9 66.9L327.6 67.2L328.4 67.5L329.2 67.7L330 67.8L330.7 67.9L331.5 67.9L332.3 67.8L333.1 67.8L333.8 67.8L334.6 67.9L335.4 68L336.2 68.1L336.9 68.2L337.7 68.3L338.5 68.4L339.3 68.4L340 68.4L340.8 68.5L341.6 68.6L342.4 68.7L343.1 68.8L343.9 68.9L344.7 68.9L345.5 68.9L346.2 68.8L347 68.7L347.8 68.7L348.5 68.6L349.3 68.7L350.1 68.7L350.9 68.8L351.6 68.9L352.4 68.9L353.2 68.9L354 68.9L354.7 68.9L355.5 68.9L356.3 68.9L357.1 69L357.8 69.1L358.6 69.1L359.4 69.1L360.2 69L360.9 68.9L361.7 68.7L362.5 68.6L363.3 68.5L364 68.5L364.8 68.5" fill="none" stroke="#666" stroke-width="0.62" stroke-linejoin="round"/>
<path d="M277.6 13L278.4 19.8L279.2 28.4L280 37L280.7 44.6L281.5 50.9L282.3 55.7L283.1 59.4L283.8 62L284.6 63.9L285.4 65.2L286.1 66.2L286.9 66.8L287.7 67.1L288.5 67.1L289.2 66.8L290 66.2L290.8 65L291.6 63.3L292.3 61.5L293.1 60.3L293.9 60.9L294.7 62.8L295.4 65.1L296.2 66.9L297 68.2L297.8 69L298.5 69.4L299.3 69.6L300.1 69.4L300.9 68.9L301.6 68L302.4 66.5L303.2 64.8L304 63.4L304.7 63.3L305.5 64.6L306.3 66.3L307.1 68L307.8 69.2L308.6 69.9L309.4 70.3L310.2 70.5L310.9 70.5L311.7 70.4L312.5 70.1L313.3 69.7L314 69L314.8 67.7L315.6 65.3L316.4 61.6L317.1 56.6L317.9 51.6L318.7 49.6L319.5 52.5L320.2 57.7L321 62.4L321.8 65.8L322.6 68L323.3 69.3L324.1 70.1L324.9 70.5L325.7 70.8L326.4 71L327.2 71.2L328 71.4L328.7 71.5L329.5 71.7L330.3 71.8L331.1 71.8L331.8 71.8L332.6 71.7L333.4 71.7L334.2 71.7L334.9 71.8L335.7 71.9L336.5 72L337.3 72.1L338 72.2L338.8 72.3L339.6 72.3L340.4 72.3L341.1 72.3L341.9 72.4L342.7 72.5L343.5 72.5L344.2 72.6L345 72.6L345.8 72.6L346.6 72.5L347.3 72.3L348.1 72.2L348.9 72.2L349.7 72.1L350.4 72.2L351.2 72.2L352 72.2L352.8 72.2L353.5 72.2L354.3 72.2L355.1 72.1L355.9 72.1L356.6 72.2L357.4 72.2L358.2 72.3L359 72.3L359.7 72.3L360.5 72.3L361.3 72.2L362.1 72L362.8 71.9L362.8 73.5L277.6 73.5Z" fill="#fff" stroke="none"/>
<path d="M277.6 13L278.4 19.8L279.2 28.4L280 37L280.7 44.6L281.5 50.9L282.3 55.7L283.1 59.4L283.8 62L284.6 63.9L285.4 65.2L286.1 66.2L286.9 66.8L287.7 67.1L288.5 67.1L289.2 66.8L290 66.2L290.8 65L291.6 63.3L292.3 61.5L293.1 60.3L293.9 60.9L294.7 62.8L295.4 65.1L296.2 66.9L297 68.2L297.8 69L298.5 69.4L299.3 69.6L300.1 69.4L300.9 68.9L301.6 68L302.4 66.5L303.2 64.8L304 63.4L304.7 63.3L305.5 64.6L306.3 66.3L307.1 68L307.8 69.2L308.6 69.9L309.4 70.3L310.2 70.5L310.9 70.5L311.7 70.4L312.5 70.1L313.3 69.7L314 69L314.8 67.7L315.6 65.3L316.4 61.6L317.1 56.6L317.9 51.6L318.7 49.6L319.5 52.5L320.2 57.7L321 62.4L321.8 65.8L322.6 68L323.3 69.3L324.1 70.1L324.9 70.5L325.7 70.8L326.4 71L327.2 71.2L328 71.4L328.7 71.5L329.5 71.7L330.3 71.8L331.1 71.8L331.8 71.8L332.6 71.7L333.4 71.7L334.2 71.7L334.9 71.8L335.7 71.9L336.5 72L337.3 72.1L338 72.2L338.8 72.3L339.6 72.3L340.4 72.3L341.1 72.3L341.9 72.4L342.7 72.5L343.5 72.5L344.2 72.6L345 72.6L345.8 72.6L346.6 72.5L347.3 72.3L348.1 72.2L348.9 72.2L349.7 72.1L350.4 72.2L351.2 72.2L352 72.2L352.8 72.2L353.5 72.2L354.3 72.2L355.1 72.1L355.9 72.1L356.6 72.2L357.4 72.2L358.2 72.3L359 72.3L359.7 72.3L360.5 72.3L361.3 72.2L362.1 72L362.8 71.9" fill="none" stroke="#666" stroke-width="0.62" stroke-linejoin="round"/>
<path d="M275.6 26.1L276.4 31.8L277.2 39L278 46.3L278.7 52.9L279.5 58.3L280.3 62.5L281.1 65.6L281.8 67.8L282.6 69.4L283.4 70.5L284.2 71.2L284.9 71.8L285.7 72.1L286.5 72.3L287.3 72.2L288 71.8L288.8 71.1L289.6 70L290.4 68.8L291.1 68L291.9 68.4L292.7 69.6L293.5 71L294.2 72.2L295 73.1L295.8 73.6L296.6 73.8L297.3 73.8L298.1 73.7L298.9 73.5L299.7 73L300.4 72.4L301.2 71.6L302 70.9L302.8 70.8L303.5 71.4L304.3 72.1L305.1 72.9L305.9 73.4L306.6 73.8L307.4 74.1L308.2 74.3L308.9 74.4L309.7 74.4L310.5 74.2L311.3 73.9L312 73.3L312.8 72.3L313.6 70.5L314.4 67.8L315.1 64L315.9 60.3L316.7 58.9L317.5 61.1L318.2 65L319 68.5L319.8 71.1L320.6 72.7L321.3 73.7L322.1 74.3L322.9 74.7L323.7 75L324.4 75.2L325.2 75.3L326 75.4L326.8 75.4L327.5 75.5L328.3 75.5L329.1 75.6L329.9 75.7L330.6 75.7L331.4 75.6L332.2 75.5L333 75.4L333.7 75.3L334.5 75.3L335.3 75.2L336.1 75.3L336.8 75.3L337.6 75.4L338.4 75.5L339.2 75.5L339.9 75.5L340.7 75.5L341.5 75.5L342.3 75.5L343 75.6L343.8 75.7L344.6 75.8L345.4 75.8L346.1 75.8L346.9 75.7L347.7 75.6L348.5 75.6L349.2 75.5L350 75.6L350.8 75.6L351.5 75.7L352.3 75.8L353.1 75.9L353.9 75.9L354.6 75.9L355.4 75.9L356.2 75.9L357 76L357.7 76.1L358.5 76.2L359.3 76.3L360.1 76.3L360.8 76.2L360.8 77L275.6 77Z" fill="#fff" stroke="none"/>
<path d="M275.6 26.1L276.4 31.8L277.2 39L278 46.3L278.7 52.9L279.5 58.3L280.3 62.5L281.1 65.6L281.8 67.8L282.6 69.4L283.4 70.5L284.2 71.2L284.9 71.8L285.7 72.1L286.5 72.3L287.3 72.2L288 71.8L288.8 71.1L289.6 70L290.4 68.8L291.1 68L291.9 68.4L292.7 69.6L293.5 71L294.2 72.2L295 73.1L295.8 73.6L296.6 73.8L297.3 73.8L298.1 73.7L298.9 73.5L299.7 73L300.4 72.4L301.2 71.6L302 70.9L302.8 70.8L303.5 71.4L304.3 72.1L305.1 72.9L305.9 73.4L306.6 73.8L307.4 74.1L308.2 74.3L308.9 74.4L309.7 74.4L310.5 74.2L311.3 73.9L312 73.3L312.8 72.3L313.6 70.5L314.4 67.8L315.1 64L315.9 60.3L316.7 58.9L317.5 61.1L318.2 65L319 68.5L319.8 71.1L320.6 72.7L321.3 73.7L322.1 74.3L322.9 74.7L323.7 75L324.4 75.2L325.2 75.3L326 75.4L326.8 75.4L327.5 75.5L328.3 75.5L329.1 75.6L329.9 75.7L330.6 75.7L331.4 75.6L332.2 75.5L333 75.4L333.7 75.3L334.5 75.3L335.3 75.2L336.1 75.3L336.8 75.3L337.6 75.4L338.4 75.5L339.2 75.5L339.9 75.5L340.7 75.5L341.5 75.5L342.3 75.5L343 75.6L343.8 75.7L344.6 75.8L345.4 75.8L346.1 75.8L346.9 75.7L347.7 75.6L348.5 75.6L349.2 75.5L350 75.6L350.8 75.6L351.5 75.7L352.3 75.8L353.1 75.9L353.9 75.9L354.6 75.9L355.4 75.9L356.2 75.9L357 76L357.7 76.1L358.5 76.2L359.3 76.3L360.1 76.3L360.8 76.2" fill="none" stroke="#666" stroke-width="0.62" stroke-linejoin="round"/>
<path d="M273.7 47.1L274.4 50.7L275.2 55.4L276 60L276.8 64.2L277.5 67.8L278.3 70.6L279.1 72.8L279.9 74.4L280.6 75.5L281.4 76.3L282.2 76.8L283 77.2L283.7 77.5L284.5 77.7L285.3 77.9L286 78.1L286.8 78.2L287.6 78.3L288.4 78.3L289.1 78.3L289.9 78.3L290.7 78.2L291.5 78.3L292.2 78.4L293 78.5L293.8 78.6L294.6 78.7L295.3 78.8L296.1 78.8L296.9 78.8L297.7 78.7L298.4 78.7L299.2 78.7L300 78.8L300.8 78.8L301.5 78.8L302.3 78.8L303.1 78.7L303.9 78.6L304.6 78.5L305.4 78.5L306.2 78.4L307 78.5L307.7 78.5L308.5 78.5L309.3 78.4L310.1 78.2L310.8 77.6L311.6 76.7L312.4 75.2L313.2 73.2L313.9 71.2L314.7 70.5L315.5 71.8L316.3 73.9L317 75.8L317.8 77.1L318.6 77.9L319.4 78.3L320.1 78.5L320.9 78.6L321.7 78.8L322.5 79L323.2 79.1L324 79.2L324.8 79.2L325.6 79.3L326.3 79.2L327.1 79.2L327.9 79.2L328.6 79.3L329.4 79.3L330.2 79.4L331 79.3L331.7 79.3L332.5 79.2L333.3 79L334.1 78.9L334.8 78.9L335.6 78.8L336.4 78.9L337.2 79L337.9 79L338.7 79.1L339.5 79.1L340.3 79.1L341 79.1L341.8 79.1L342.6 79.2L343.4 79.3L344.1 79.4L344.9 79.4L345.7 79.5L346.5 79.4L347.2 79.4L348 79.3L348.8 79.2L349.6 79.2L350.3 79.2L351.1 79.3L351.9 79.4L352.7 79.4L353.4 79.5L354.2 79.5L355 79.5L355.8 79.5L356.5 79.5L357.3 79.6L358.1 79.7L358.9 79.8L358.9 80.5L273.7 80.5Z" fill="#fff" stroke="none"/>
<path d="M273.7 47.1L274.4 50.7L275.2 55.4L276 60L276.8 64.2L277.5 67.8L278.3 70.6L279.1 72.8L279.9 74.4L280.6 75.5L281.4 76.3L282.2 76.8L283 77.2L283.7 77.5L284.5 77.7L285.3 77.9L286 78.1L286.8 78.2L287.6 78.3L288.4 78.3L289.1 78.3L289.9 78.3L290.7 78.2L291.5 78.3L292.2 78.4L293 78.5L293.8 78.6L294.6 78.7L295.3 78.8L296.1 78.8L296.9 78.8L297.7 78.7L298.4 78.7L299.2 78.7L300 78.8L300.8 78.8L301.5 78.8L302.3 78.8L303.1 78.7L303.9 78.6L304.6 78.5L305.4 78.5L306.2 78.4L307 78.5L307.7 78.5L308.5 78.5L309.3 78.4L310.1 78.2L310.8 77.6L311.6 76.7L312.4 75.2L313.2 73.2L313.9 71.2L314.7 70.5L315.5 71.8L316.3 73.9L317 75.8L317.8 77.1L318.6 77.9L319.4 78.3L320.1 78.5L320.9 78.6L321.7 78.8L322.5 79L323.2 79.1L324 79.2L324.8 79.2L325.6 79.3L326.3 79.2L327.1 79.2L327.9 79.2L328.6 79.3L329.4 79.3L330.2 79.4L331 79.3L331.7 79.3L332.5 79.2L333.3 79L334.1 78.9L334.8 78.9L335.6 78.8L336.4 78.9L337.2 79L337.9 79L338.7 79.1L339.5 79.1L340.3 79.1L341 79.1L341.8 79.1L342.6 79.2L343.4 79.3L344.1 79.4L344.9 79.4L345.7 79.5L346.5 79.4L347.2 79.4L348 79.3L348.8 79.2L349.6 79.2L350.3 79.2L351.1 79.3L351.9 79.4L352.7 79.4L353.4 79.5L354.2 79.5L355 79.5L355.8 79.5L356.5 79.5L357.3 79.6L358.1 79.7L358.9 79.8" fill="none" stroke="#666" stroke-width="0.62" stroke-linejoin="round"/>
<path d="M271.7 67.1L272.4 68.7L273.2 70.8L274 72.7L274.8 74.4L275.5 75.6L276.3 76.5L277.1 77L277.9 77.3L278.6 77.4L279.4 77.4L280.2 77.3L281 77.2L281.7 77.1L282.5 77.2L283.3 77.4L284.1 77.7L284.8 78.1L285.6 78.7L286.4 79.2L287.2 79.7L287.9 80.1L288.7 80.4L289.5 80.6L290.3 80.8L291 81L291.8 81.2L292.6 81.4L293.4 81.6L294.1 81.8L294.9 82L295.7 82.1L296.5 82.2L297.2 82.2L298 82.3L298.8 82.3L299.6 82.3L300.3 82.4L301.1 82.5L301.9 82.5L302.7 82.5L303.4 82.4L304.2 82.3L305 82.2L305.8 82.1L306.5 82.1L307.3 82L308.1 81.8L308.8 81.5L309.6 80.9L310.4 79.8L311.2 78.2L311.9 76.6L312.7 76L313.5 77L314.3 78.6L315 80.1L315.8 81.2L316.6 81.9L317.4 82.2L318.1 82.3L318.9 82.3L319.7 82.3L320.5 82.3L321.2 82.3L322 82.4L322.8 82.4L323.6 82.5L324.3 82.6L325.1 82.6L325.9 82.6L326.7 82.6L327.4 82.6L328.2 82.6L329 82.6L329.8 82.7L330.5 82.7L331.3 82.8L332.1 82.7L332.9 82.6L333.6 82.5L334.4 82.5L335.2 82.4L336 82.4L336.7 82.5L337.5 82.6L338.3 82.7L339.1 82.7L339.8 82.8L340.6 82.8L341.4 82.8L342.2 82.9L342.9 82.9L343.7 83L344.5 83.1L345.3 83.2L346 83.2L346.8 83.2L347.6 83.1L348.4 83L349.1 82.9L349.9 82.9L350.7 82.9L351.4 82.9L352.2 83L353 83L353.8 83L354.5 83L355.3 82.9L356.1 82.9L356.9 82.9L356.9 84L271.7 84Z" fill="#fff" stroke="none"/>
<path d="M271.7 67.1L272.4 68.7L273.2 70.8L274 72.7L274.8 74.4L275.5 75.6L276.3 76.5L277.1 77L277.9 77.3L278.6 77.4L279.4 77.4L280.2 77.3L281 77.2L281.7 77.1L282.5 77.2L283.3 77.4L284.1 77.7L284.8 78.1L285.6 78.7L286.4 79.2L287.2 79.7L287.9 80.1L288.7 80.4L289.5 80.6L290.3 80.8L291 81L291.8 81.2L292.6 81.4L293.4 81.6L294.1 81.8L294.9 82L295.7 82.1L296.5 82.2L297.2 82.2L298 82.3L298.8 82.3L299.6 82.3L300.3 82.4L301.1 82.5L301.9 82.5L302.7 82.5L303.4 82.4L304.2 82.3L305 82.2L305.8 82.1L306.5 82.1L307.3 82L308.1 81.8L308.8 81.5L309.6 80.9L310.4 79.8L311.2 78.2L311.9 76.6L312.7 76L313.5 77L314.3 78.6L315 80.1L315.8 81.2L316.6 81.9L317.4 82.2L318.1 82.3L318.9 82.3L319.7 82.3L320.5 82.3L321.2 82.3L322 82.4L322.8 82.4L323.6 82.5L324.3 82.6L325.1 82.6L325.9 82.6L326.7 82.6L327.4 82.6L328.2 82.6L329 82.6L329.8 82.7L330.5 82.7L331.3 82.8L332.1 82.7L332.9 82.6L333.6 82.5L334.4 82.5L335.2 82.4L336 82.4L336.7 82.5L337.5 82.6L338.3 82.7L339.1 82.7L339.8 82.8L340.6 82.8L341.4 82.8L342.2 82.9L342.9 82.9L343.7 83L344.5 83.1L345.3 83.2L346 83.2L346.8 83.2L347.6 83.1L348.4 83L349.1 82.9L349.9 82.9L350.7 82.9L351.4 82.9L352.2 83L353 83L353.8 83L354.5 83L355.3 82.9L356.1 82.9L356.9 82.9" fill="none" stroke="#666" stroke-width="0.62" stroke-linejoin="round"/>
<path d="M269.7 78.6L270.5 78.8L271.2 79.2L272 79.5L272.8 79.6L273.6 79.4L274.3 78.9L275.1 78.1L275.9 77.2L276.7 76.1L277.4 75L278.2 74L279 73.3L279.8 73L280.5 73.2L281.3 73.7L282.1 74.7L282.9 75.8L283.6 77L284.4 78.3L285.2 79.5L286 80.6L286.7 81.6L287.5 82.4L288.3 83.1L289 83.6L289.8 84L290.6 84.3L291.4 84.5L292.1 84.7L292.9 85L293.7 85.2L294.5 85.4L295.2 85.6L296 85.7L296.8 85.8L297.6 85.8L298.3 85.8L299.1 85.8L299.9 85.8L300.7 85.8L301.4 85.8L302.2 85.8L303 85.8L303.8 85.6L304.5 85.5L305.3 85.3L306.1 85L306.9 84.7L307.6 84.2L308.4 83.4L309.2 82.4L310 81.4L310.7 81L311.5 81.7L312.3 82.9L313.1 83.9L313.8 84.7L314.6 85.2L315.4 85.6L316.2 85.8L316.9 85.9L317.7 86L318.5 86L319.3 85.9L320 85.9L320.8 85.9L321.6 85.9L322.4 86L323.1 86.1L323.9 86.2L324.7 86.3L325.5 86.4L326.2 86.4L327 86.4L327.8 86.4L328.6 86.5L329.3 86.6L330.1 86.6L330.9 86.7L331.6 86.7L332.4 86.7L333.2 86.6L334 86.4L334.7 86.3L335.5 86.2L336.3 86.2L337.1 86.2L337.8 86.3L338.6 86.3L339.4 86.3L340.2 86.3L340.9 86.3L341.7 86.2L342.5 86.2L343.3 86.3L344 86.3L344.8 86.4L345.6 86.4L346.4 86.4L347.1 86.3L347.9 86.2L348.7 86.1L349.5 86L350.2 85.9L351 85.9L351.8 86L352.6 86L353.3 86.1L354.1 86.1L354.9 86.1L354.9 87.5L269.7 87.5Z" fill="#fff" stroke="none"/>
<path d="M269.7 78.6L270.5 78.8L271.2 79.2L272 79.5L272.8 79.6L273.6 79.4L274.3 78.9L275.1 78.1L275.9 77.2L276.7 76.1L277.4 75L278.2 74L279 73.3L279.8 73L280.5 73.2L281.3 73.7L282.1 74.7L282.9 75.8L283.6 77L284.4 78.3L285.2 79.5L286 80.6L286.7 81.6L287.5 82.4L288.3 83.1L289 83.6L289.8 84L290.6 84.3L291.4 84.5L292.1 84.7L292.9 85L293.7 85.2L294.5 85.4L295.2 85.6L296 85.7L296.8 85.8L297.6 85.8L298.3 85.8L299.1 85.8L299.9 85.8L300.7 85.8L301.4 85.8L302.2 85.8L303 85.8L303.8 85.6L304.5 85.5L305.3 85.3L306.1 85L306.9 84.7L307.6 84.2L308.4 83.4L309.2 82.4L310 81.4L310.7 81L311.5 81.7L312.3 82.9L313.1 83.9L313.8 84.7L314.6 85.2L315.4 85.6L316.2 85.8L316.9 85.9L317.7 86L318.5 86L319.3 85.9L320 85.9L320.8 85.9L321.6 85.9L322.4 86L323.1 86.1L323.9 86.2L324.7 86.3L325.5 86.4L326.2 86.4L327 86.4L327.8 86.4L328.6 86.5L329.3 86.6L330.1 86.6L330.9 86.7L331.6 86.7L332.4 86.7L333.2 86.6L334 86.4L334.7 86.3L335.5 86.2L336.3 86.2L337.1 86.2L337.8 86.3L338.6 86.3L339.4 86.3L340.2 86.3L340.9 86.3L341.7 86.2L342.5 86.2L343.3 86.3L344 86.3L344.8 86.4L345.6 86.4L346.4 86.4L347.1 86.3L347.9 86.2L348.7 86.1L349.5 86L350.2 85.9L351 85.9L351.8 86L352.6 86L353.3 86.1L354.1 86.1L354.9 86.1" fill="none" stroke="#666" stroke-width="0.62" stroke-linejoin="round"/>
<path d="M267.7 87.3L268.5 86.7L269.2 86L270 85.1L270.8 84.1L271.6 82.9L272.3 81.5L273.1 80L273.9 78.2L274.7 76.4L275.4 74.5L276.2 72.7L277 71.3L277.8 70.6L278.5 70.6L279.3 71.3L280.1 72.7L280.9 74.4L281.6 76.3L282.4 78.1L283.2 79.8L284 81.3L284.7 82.7L285.5 83.8L286.3 84.9L287.1 85.7L287.8 86.4L288.6 86.9L289.4 87.3L290.2 87.6L290.9 87.8L291.7 88L292.5 88.2L293.3 88.4L294 88.6L294.8 88.9L295.6 89L296.4 89.2L297.1 89.3L297.9 89.3L298.7 89.3L299.5 89.3L300.2 89.3L301 89.4L301.8 89.4L302.6 89.3L303.3 89.2L304.1 89L304.9 88.5L305.7 87.9L306.4 87L307.2 85.9L308 84.8L308.8 84.4L309.5 85.2L310.3 86.4L311.1 87.5L311.8 88.3L312.6 88.7L313.4 89L314.2 89.1L314.9 89.2L315.7 89.3L316.5 89.4L317.3 89.5L318 89.5L318.8 89.4L319.6 89.3L320.4 89.2L321.1 89.2L321.9 89.2L322.7 89.3L323.5 89.4L324.2 89.5L325 89.6L325.8 89.6L326.6 89.7L327.3 89.7L328.1 89.7L328.9 89.8L329.7 89.9L330.4 90L331.2 90.1L332 90.1L332.8 90.1L333.5 90L334.3 89.9L335.1 89.8L335.9 89.8L336.6 89.8L337.4 89.8L338.2 89.9L339 90L339.7 90L340.5 90L341.3 90L342.1 89.9L342.8 89.9L343.6 90L344.4 90L345.2 90.1L345.9 90.1L346.7 90.1L347.5 90L348.3 89.9L349 89.8L349.8 89.7L350.6 89.6L351.4 89.5L352.1 89.5L352.9 89.6L352.9 91L267.7 91Z" fill="#fff" stroke="none"/>
<path d="M267.7 87.3L268.5 86.7L269.2 86L270 85.1L270.8 84.1L271.6 82.9L272.3 81.5L273.1 80L273.9 78.2L274.7 76.4L275.4 74.5L276.2 72.7L277 71.3L277.8 70.6L278.5 70.6L279.3 71.3L280.1 72.7L280.9 74.4L281.6 76.3L282.4 78.1L283.2 79.8L284 81.3L284.7 82.7L285.5 83.8L286.3 84.9L287.1 85.7L287.8 86.4L288.6 86.9L289.4 87.3L290.2 87.6L290.9 87.8L291.7 88L292.5 88.2L293.3 88.4L294 88.6L294.8 88.9L295.6 89L296.4 89.2L297.1 89.3L297.9 89.3L298.7 89.3L299.5 89.3L300.2 89.3L301 89.4L301.8 89.4L302.6 89.3L303.3 89.2L304.1 89L304.9 88.5L305.7 87.9L306.4 87L307.2 85.9L308 84.8L308.8 84.4L309.5 85.2L310.3 86.4L311.1 87.5L311.8 88.3L312.6 88.7L313.4 89L314.2 89.1L314.9 89.2L315.7 89.3L316.5 89.4L317.3 89.5L318 89.5L318.8 89.4L319.6 89.3L320.4 89.2L321.1 89.2L321.9 89.2L322.7 89.3L323.5 89.4L324.2 89.5L325 89.6L325.8 89.6L326.6 89.7L327.3 89.7L328.1 89.7L328.9 89.8L329.7 89.9L330.4 90L331.2 90.1L332 90.1L332.8 90.1L333.5 90L334.3 89.9L335.1 89.8L335.9 89.8L336.6 89.8L337.4 89.8L338.2 89.9L339 90L339.7 90L340.5 90L341.3 90L342.1 89.9L342.8 89.9L343.6 90L344.4 90L345.2 90.1L345.9 90.1L346.7 90.1L347.5 90L348.3 89.9L349 89.8L349.8 89.7L350.6 89.6L351.4 89.5L352.1 89.5L352.9 89.6" fill="none" stroke="#666" stroke-width="0.62" stroke-linejoin="round"/>
<path d="M265.7 90.3L266.5 89.8L267.3 89.1L268 88.1L268.8 87L269.6 85.5L270.4 83.9L271.1 82L271.9 80L272.7 77.9L273.5 75.8L274.2 73.9L275 72.3L275.8 71.3L276.6 71.2L277.3 71.9L278.1 73.3L278.9 75.2L279.7 77.4L280.4 79.6L281.2 81.6L282 83.5L282.8 85.1L283.5 86.4L284.3 87.5L285.1 88.4L285.9 89.2L286.6 89.9L287.4 90.4L288.2 90.8L289 91.1L289.7 91.3L290.5 91.5L291.3 91.6L292 91.7L292.8 91.8L293.6 92L294.4 92.2L295.1 92.4L295.9 92.5L296.7 92.7L297.5 92.7L298.2 92.7L299 92.7L299.8 92.7L300.6 92.7L301.3 92.7L302.1 92.6L302.9 92.3L303.7 91.7L304.4 90.8L305.2 89.6L306 88.4L306.8 87.9L307.5 88.6L308.3 89.8L309.1 90.9L309.9 91.8L310.6 92.3L311.4 92.6L312.2 92.7L313 92.8L313.7 92.8L314.5 92.9L315.3 92.9L316.1 93L316.8 93L317.6 93.1L318.4 93L319.2 93L319.9 92.8L320.7 92.8L321.5 92.7L322.3 92.7L323 92.8L323.8 92.9L324.6 93L325.4 93L326.1 93.1L326.9 93.1L327.7 93.1L328.5 93.1L329.2 93.2L330 93.3L330.8 93.4L331.6 93.5L332.3 93.5L333.1 93.5L333.9 93.5L334.6 93.4L335.4 93.3L336.2 93.2L337 93.3L337.7 93.3L338.5 93.4L339.3 93.4L340.1 93.5L340.8 93.5L341.6 93.5L342.4 93.5L343.2 93.5L343.9 93.5L344.7 93.6L345.5 93.6L346.3 93.7L347 93.7L347.8 93.6L348.6 93.5L349.4 93.3L350.1 93.2L350.9 93.1L350.9 94.5L265.7 94.5Z" fill="#fff" stroke="none"/>
<path d="M265.7 90.3L266.5 89.8L267.3 89.1L268 88.1L268.8 87L269.6 85.5L270.4 83.9L271.1 82L271.9 80L272.7 77.9L273.5 75.8L274.2 73.9L275 72.3L275.8 71.3L276.6 71.2L277.3 71.9L278.1 73.3L278.9 75.2L279.7 77.4L280.4 79.6L281.2 81.6L282 83.5L282.8 85.1L283.5 86.4L284.3 87.5L285.1 88.4L285.9 89.2L286.6 89.9L287.4 90.4L288.2 90.8L289 91.1L289.7 91.3L290.5 91.5L291.3 91.6L292 91.7L292.8 91.8L293.6 92L294.4 92.2L295.1 92.4L295.9 92.5L296.7 92.7L297.5 92.7L298.2 92.7L299 92.7L299.8 92.7L300.6 92.7L301.3 92.7L302.1 92.6L302.9 92.3L303.7 91.7L304.4 90.8L305.2 89.6L306 88.4L306.8 87.9L307.5 88.6L308.3 89.8L309.1 90.9L309.9 91.8L310.6 92.3L311.4 92.6L312.2 92.7L313 92.8L313.7 92.8L314.5 92.9L315.3 92.9L316.1 93L316.8 93L317.6 93.1L318.4 93L319.2 93L319.9 92.8L320.7 92.8L321.5 92.7L322.3 92.7L323 92.8L323.8 92.9L324.6 93L325.4 93L326.1 93.1L326.9 93.1L327.7 93.1L328.5 93.1L329.2 93.2L330 93.3L330.8 93.4L331.6 93.5L332.3 93.5L333.1 93.5L333.9 93.5L334.6 93.4L335.4 93.3L336.2 93.2L337 93.3L337.7 93.3L338.5 93.4L339.3 93.4L340.1 93.5L340.8 93.5L341.6 93.5L342.4 93.5L343.2 93.5L343.9 93.5L344.7 93.6L345.5 93.6L346.3 93.7L347 93.7L347.8 93.6L348.6 93.5L349.4 93.3L350.1 93.2L350.9 93.1" fill="none" stroke="#666" stroke-width="0.62" stroke-linejoin="round"/>
<path d="M263.7 93.4L264.5 92.8L265.3 92.2L266.1 91.4L266.8 90.4L267.6 89.2L268.4 87.7L269.2 85.9L269.9 84L270.7 81.9L271.5 79.9L272.2 78.1L273 76.7L273.8 75.9L274.6 75.8L275.3 76.5L276.1 77.9L276.9 79.6L277.7 81.6L278.4 83.6L279.2 85.5L280 87.4L280.8 89L281.5 90.5L282.3 91.6L283.1 92.6L283.9 93.3L284.6 93.9L285.4 94.3L286.2 94.7L287 95L287.7 95.3L288.5 95.5L289.3 95.6L290.1 95.7L290.8 95.7L291.6 95.7L292.4 95.7L293.2 95.7L293.9 95.8L294.7 95.9L295.5 96.1L296.3 96.1L297 96.2L297.8 96.1L298.6 96.1L299.4 95.9L300.1 95.7L300.9 95.4L301.7 94.9L302.5 94.1L303.2 93L304 91.9L304.8 91.4L305.6 91.9L306.3 93L307.1 94L307.9 94.8L308.7 95.3L309.4 95.7L310.2 95.9L311 96.1L311.8 96.2L312.5 96.3L313.3 96.3L314.1 96.4L314.8 96.4L315.6 96.5L316.4 96.6L317.2 96.7L317.9 96.8L318.7 96.8L319.5 96.7L320.3 96.6L321 96.6L321.8 96.5L322.6 96.6L323.4 96.6L324.1 96.7L324.9 96.8L325.7 96.9L326.5 96.9L327.2 96.9L328 96.9L328.8 96.9L329.6 96.9L330.3 97L331.1 97L331.9 97L332.7 97L333.4 96.9L334.2 96.8L335 96.6L335.8 96.3L336.5 96.1L337.3 95.8L338.1 95.5L338.9 94.9L339.6 94.1L340.4 93.3L341.2 92.7L342 92.8L342.7 93.5L343.5 94.4L344.3 95.1L345.1 95.7L345.8 96.1L346.6 96.4L347.4 96.5L348.2 96.5L348.9 96.5L348.9 98L263.7 98Z" fill="#fff" stroke="none"/>
<path d="M263.7 93.4L264.5 92.8L265.3 92.2L266.1 91.4L266.8 90.4L267.6 89.2L268.4 87.7L269.2 85.9L269.9 84L270.7 81.9L271.5 79.9L272.2 78.1L273 76.7L273.8 75.9L274.6 75.8L275.3 76.5L276.1 77.9L276.9 79.6L277.7 81.6L278.4 83.6L279.2 85.5L280 87.4L280.8 89L281.5 90.5L282.3 91.6L283.1 92.6L283.9 93.3L284.6 93.9L285.4 94.3L286.2 94.7L287 95L287.7 95.3L288.5 95.5L289.3 95.6L290.1 95.7L290.8 95.7L291.6 95.7L292.4 95.7L293.2 95.7L293.9 95.8L294.7 95.9L295.5 96.1L296.3 96.1L297 96.2L297.8 96.1L298.6 96.1L299.4 95.9L300.1 95.7L300.9 95.4L301.7 94.9L302.5 94.1L303.2 93L304 91.9L304.8 91.4L305.6 91.9L306.3 93L307.1 94L307.9 94.8L308.7 95.3L309.4 95.7L310.2 95.9L311 96.1L311.8 96.2L312.5 96.3L313.3 96.3L314.1 96.4L314.8 96.4L315.6 96.5L316.4 96.6L317.2 96.7L317.9 96.8L318.7 96.8L319.5 96.7L320.3 96.6L321 96.6L321.8 96.5L322.6 96.6L323.4 96.6L324.1 96.7L324.9 96.8L325.7 96.9L326.5 96.9L327.2 96.9L328 96.9L328.8 96.9L329.6 96.9L330.3 97L331.1 97L331.9 97L332.7 97L333.4 96.9L334.2 96.8L335 96.6L335.8 96.3L336.5 96.1L337.3 95.8L338.1 95.5L338.9 94.9L339.6 94.1L340.4 93.3L341.2 92.7L342 92.8L342.7 93.5L343.5 94.4L344.3 95.1L345.1 95.7L345.8 96.1L346.6 96.4L347.4 96.5L348.2 96.5L348.9 96.5" fill="none" stroke="#666" stroke-width="0.62" stroke-linejoin="round"/>
<path d="M261.7 98.1L262.5 97.6L263.3 97L264.1 96.3L264.8 95.5L265.6 94.7L266.4 93.7L267.2 92.6L267.9 91.3L268.7 89.9L269.5 88.4L270.3 87L271 85.9L271.8 85.3L272.6 85.2L273.4 85.8L274.1 86.8L274.9 88L275.7 89.4L276.5 90.8L277.2 92.1L278 93.2L278.8 94.3L279.6 95.3L280.3 96.2L281.1 97L281.9 97.6L282.7 98.1L283.4 98.5L284.2 98.8L285 99L285.8 99.1L286.5 99.3L287.3 99.4L288.1 99.5L288.9 99.6L289.6 99.7L290.4 99.7L291.2 99.6L292 99.5L292.7 99.5L293.5 99.5L294.3 99.5L295 99.5L295.8 99.5L296.6 99.5L297.4 99.3L298.1 99L298.9 98.3L299.7 97.2L300.5 95.5L301.2 93.2L302 91L302.8 90.2L303.6 91.6L304.3 93.9L305.1 95.9L305.9 97.3L306.7 98.1L307.4 98.6L308.2 98.9L309 99.1L309.8 99.3L310.5 99.5L311.3 99.6L312.1 99.7L312.9 99.7L313.6 99.8L314.4 99.8L315.2 99.8L316 99.9L316.7 100L317.5 100.1L318.3 100.1L319.1 100.1L319.8 100.1L320.6 100L321.4 99.9L322.2 99.9L322.9 99.9L323.7 99.9L324.5 100L325.3 100.1L326 100.1L326.8 100.1L327.6 100.1L328.4 100.1L329.1 100L329.9 100L330.7 100L331.5 100L332.2 99.9L333 99.7L333.8 99.3L334.6 98.7L335.3 97.7L336.1 96.3L336.9 94.1L337.6 91.3L338.4 88.3L339.2 86.4L340 86.9L340.7 89.5L341.5 92.4L342.3 94.9L343.1 96.7L343.8 97.8L344.6 98.6L345.4 99L346.2 99.4L346.9 99.6L346.9 101.5L261.7 101.5Z" fill="#fff" stroke="none"/>
<path d="M261.7 98.1L262.5 97.6L263.3 97L264.1 96.3L264.8 95.5L265.6 94.7L266.4 93.7L267.2 92.6L267.9 91.3L268.7 89.9L269.5 88.4L270.3 87L271 85.9L271.8 85.3L272.6 85.2L273.4 85.8L274.1 86.8L274.9 88L275.7 89.4L276.5 90.8L277.2 92.1L278 93.2L278.8 94.3L279.6 95.3L280.3 96.2L281.1 97L281.9 97.6L282.7 98.1L283.4 98.5L284.2 98.8L285 99L285.8 99.1L286.5 99.3L287.3 99.4L288.1 99.5L288.9 99.6L289.6 99.7L290.4 99.7L291.2 99.6L292 99.5L292.7 99.5L293.5 99.5L294.3 99.5L295 99.5L295.8 99.5L296.6 99.5L297.4 99.3L298.1 99L298.9 98.3L299.7 97.2L300.5 95.5L301.2 93.2L302 91L302.8 90.2L303.6 91.6L304.3 93.9L305.1 95.9L305.9 97.3L306.7 98.1L307.4 98.6L308.2 98.9L309 99.1L309.8 99.3L310.5 99.5L311.3 99.6L312.1 99.7L312.9 99.7L313.6 99.8L314.4 99.8L315.2 99.8L316 99.9L316.7 100L317.5 100.1L318.3 100.1L319.1 100.1L319.8 100.1L320.6 100L321.4 99.9L322.2 99.9L322.9 99.9L323.7 99.9L324.5 100L325.3 100.1L326 100.1L326.8 100.1L327.6 100.1L328.4 100.1L329.1 100L329.9 100L330.7 100L331.5 100L332.2 99.9L333 99.7L333.8 99.3L334.6 98.7L335.3 97.7L336.1 96.3L336.9 94.1L337.6 91.3L338.4 88.3L339.2 86.4L340 86.9L340.7 89.5L341.5 92.4L342.3 94.9L343.1 96.7L343.8 97.8L344.6 98.6L345.4 99L346.2 99.4L346.9 99.6" fill="none" stroke="#666" stroke-width="0.62" stroke-linejoin="round"/>
<path d="M259.8 103.3L260.5 103.1L261.3 102.9L262.1 102.6L262.9 102.3L263.6 101.9L264.4 101.5L265.2 101.1L266 100.7L266.7 100.3L267.5 99.9L268.3 99.5L269.1 99.1L269.8 98.9L270.6 98.8L271.4 98.9L272.1 99.2L272.9 99.6L273.7 100L274.5 100.5L275.2 100.9L276 101.3L276.8 101.5L277.6 101.7L278.3 101.9L279.1 102.1L279.9 102.3L280.7 102.5L281.4 102.8L282.2 102.9L283 103.1L283.8 103.1L284.5 103.1L285.3 103.1L286.1 103.1L286.9 103.1L287.6 103.1L288.4 103.1L289.2 103.1L290 103L290.7 102.9L291.5 102.6L292.3 102.4L293.1 102.1L293.8 101.7L294.6 101.3L295.4 100.7L296.2 99.5L296.9 97.5L297.7 93.8L298.5 88.1L299.3 80.4L300 72.8L300.8 70L301.6 74.5L302.4 82.5L303.1 89.8L303.9 94.9L304.7 98.1L305.5 99.8L306.2 100.7L307 101.3L307.8 101.6L308.6 101.9L309.3 102.1L310.1 102.3L310.9 102.5L311.7 102.7L312.4 102.8L313.2 102.9L314 102.9L314.7 102.9L315.5 103L316.3 103L317.1 103.1L317.8 103.2L318.6 103.2L319.4 103.2L320.2 103.1L320.9 103L321.7 102.8L322.5 102.7L323.3 102.7L324 102.7L324.8 102.7L325.6 102.7L326.4 102.7L327.1 102.6L327.9 102.4L328.7 102.2L329.5 101.9L330.2 101.5L331 101L331.8 100.2L332.6 98.8L333.3 96.5L334.1 92.5L334.9 86.5L335.7 78.6L336.4 69.9L337.2 64.2L338 65.6L338.8 72.9L339.5 81.5L340.3 88.7L341.1 93.9L341.9 97.1L342.6 99.1L343.4 100.3L344.2 101L345 101.6L345 105L259.8 105Z" fill="#fff" stroke="none"/>
<path d="M259.8 103.3L260.5 103.1L261.3 102.9L262.1 102.6L262.9 102.3L263.6 101.9L264.4 101.5L265.2 101.1L266 100.7L266.7 100.3L267.5 99.9L268.3 99.5L269.1 99.1L269.8 98.9L270.6 98.8L271.4 98.9L272.1 99.2L272.9 99.6L273.7 100L274.5 100.5L275.2 100.9L276 101.3L276.8 101.5L277.6 101.7L278.3 101.9L279.1 102.1L279.9 102.3L280.7 102.5L281.4 102.8L282.2 102.9L283 103.1L283.8 103.1L284.5 103.1L285.3 103.1L286.1 103.1L286.9 103.1L287.6 103.1L288.4 103.1L289.2 103.1L290 103L290.7 102.9L291.5 102.6L292.3 102.4L293.1 102.1L293.8 101.7L294.6 101.3L295.4 100.7L296.2 99.5L296.9 97.5L297.7 93.8L298.5 88.1L299.3 80.4L300 72.8L300.8 70L301.6 74.5L302.4 82.5L303.1 89.8L303.9 94.9L304.7 98.1L305.5 99.8L306.2 100.7L307 101.3L307.8 101.6L308.6 101.9L309.3 102.1L310.1 102.3L310.9 102.5L311.7 102.7L312.4 102.8L313.2 102.9L314 102.9L314.7 102.9L315.5 103L316.3 103L317.1 103.1L317.8 103.2L318.6 103.2L319.4 103.2L320.2 103.1L320.9 103L321.7 102.8L322.5 102.7L323.3 102.7L324 102.7L324.8 102.7L325.6 102.7L326.4 102.7L327.1 102.6L327.9 102.4L328.7 102.2L329.5 101.9L330.2 101.5L331 101L331.8 100.2L332.6 98.8L333.3 96.5L334.1 92.5L334.9 86.5L335.7 78.6L336.4 69.9L337.2 64.2L338 65.6L338.8 72.9L339.5 81.5L340.3 88.7L341.1 93.9L341.9 97.1L342.6 99.1L343.4 100.3L344.2 101L345 101.6" fill="none" stroke="#666" stroke-width="0.62" stroke-linejoin="round"/>
<path d="M257.8 107.1L258.5 107.1L259.3 107.1L260.1 107.1L260.9 107.1L261.6 107.1L262.4 107L263.2 107L264 106.9L264.7 106.9L265.5 107L266.3 107.1L267.1 107.2L267.8 107.4L268.6 107.5L269.4 107.5L270.2 107.5L270.9 107.4L271.7 107.4L272.5 107.4L273.3 107.4L274 107.4L274.8 107.4L275.6 107.3L276.4 107.2L277.1 107.1L277.9 107L278.7 106.9L279.5 106.8L280.2 106.8L281 106.7L281.8 106.7L282.6 106.7L283.3 106.5L284.1 106.2L284.9 105.7L285.7 105L286.4 104L287.2 103.1L288 102.4L288.8 102.4L289.5 102.9L290.3 103.4L291.1 103.7L291.9 103.7L292.6 103.3L293.4 102.5L294.2 101.1L294.9 98.5L295.7 94.1L296.5 87.2L297.3 77.9L298 68.6L298.8 65.2L299.6 70.8L300.4 80.6L301.1 89.6L301.9 96L302.7 100L303.5 102.4L304.2 103.8L305 104.6L305.8 105L306.6 105.3L307.3 105.5L308.1 105.7L308.9 105.9L309.7 106.1L310.4 106.3L311.2 106.5L312 106.6L312.8 106.7L313.5 106.8L314.3 106.8L315.1 106.8L315.9 106.8L316.6 106.8L317.4 106.9L318.2 106.9L319 106.9L319.7 106.8L320.5 106.6L321.3 106.4L322.1 106.2L322.8 106L323.6 105.9L324.4 105.7L325.2 105.6L325.9 105.4L326.7 105.1L327.5 104.7L328.3 104.2L329 103.4L329.8 102.4L330.6 100.7L331.4 97.8L332.1 93.2L332.9 86.2L333.7 76.8L334.5 66.5L335.2 59.7L336 61.2L336.8 69.9L337.5 80.1L338.3 88.8L339.1 95L339.9 99L340.6 101.5L341.4 102.9L342.2 103.9L343 104.5L343 108.5L257.8 108.5Z" fill="#fff" stroke="none"/>
<path d="M257.8 107.1L258.5 107.1L259.3 107.1L260.1 107.1L260.9 107.1L261.6 107.1L262.4 107L263.2 107L264 106.9L264.7 106.9L265.5 107L266.3 107.1L267.1 107.2L267.8 107.4L268.6 107.5L269.4 107.5L270.2 107.5L270.9 107.4L271.7 107.4L272.5 107.4L273.3 107.4L274 107.4L274.8 107.4L275.6 107.3L276.4 107.2L277.1 107.1L277.9 107L278.7 106.9L279.5 106.8L280.2 106.8L281 106.7L281.8 106.7L282.6 106.7L283.3 106.5L284.1 106.2L284.9 105.7L285.7 105L286.4 104L287.2 103.1L288 102.4L288.8 102.4L289.5 102.9L290.3 103.4L291.1 103.7L291.9 103.7L292.6 103.3L293.4 102.5L294.2 101.1L294.9 98.5L295.7 94.1L296.5 87.2L297.3 77.9L298 68.6L298.8 65.2L299.6 70.8L300.4 80.6L301.1 89.6L301.9 96L302.7 100L303.5 102.4L304.2 103.8L305 104.6L305.8 105L306.6 105.3L307.3 105.5L308.1 105.7L308.9 105.9L309.7 106.1L310.4 106.3L311.2 106.5L312 106.6L312.8 106.7L313.5 106.8L314.3 106.8L315.1 106.8L315.9 106.8L316.6 106.8L317.4 106.9L318.2 106.9L319 106.9L319.7 106.8L320.5 106.6L321.3 106.4L322.1 106.2L322.8 106L323.6 105.9L324.4 105.7L325.2 105.6L325.9 105.4L326.7 105.1L327.5 104.7L328.3 104.2L329 103.4L329.8 102.4L330.6 100.7L331.4 97.8L332.1 93.2L332.9 86.2L333.7 76.8L334.5 66.5L335.2 59.7L336 61.2L336.8 69.9L337.5 80.1L338.3 88.8L339.1 95L339.9 99L340.6 101.5L341.4 102.9L342.2 103.9L343 104.5" fill="none" stroke="#666" stroke-width="0.62" stroke-linejoin="round"/>
<path d="M255.8 110.8L256.6 110.7L257.3 110.6L258.1 110.6L258.9 110.5L259.7 110.5L260.4 110.6L261.2 110.6L262 110.5L262.8 110.5L263.5 110.4L264.3 110.4L265.1 110.3L265.9 110.4L266.6 110.5L267.4 110.6L268.2 110.8L269 110.8L269.7 110.9L270.5 110.8L271.3 110.8L272.1 110.7L272.8 110.7L273.6 110.7L274.4 110.7L275.1 110.7L275.9 110.6L276.7 110.5L277.5 110.4L278.2 110.2L279 110L279.8 109.8L280.6 109.7L281.3 109.4L282.1 109L282.9 108.4L283.7 107.3L284.4 105.8L285.2 104.1L286 103L286.8 103L287.5 104L288.3 105.3L289.1 106.2L289.9 106.6L290.6 106.5L291.4 105.8L292.2 104.3L293 101.5L293.7 96.8L294.5 89.4L295.3 79.6L296.1 69.9L296.8 66.4L297.6 72.4L298.4 82.7L299.2 92.1L299.9 98.8L300.7 103L301.5 105.4L302.3 106.8L303 107.7L303.8 108.4L304.6 108.8L305.4 109.1L306.1 109.3L306.9 109.4L307.7 109.5L308.5 109.5L309.2 109.6L310 109.8L310.8 109.9L311.6 110L312.3 110.2L313.1 110.2L313.9 110.2L314.7 110.2L315.4 110.2L316.2 110.2L317 110.2L317.7 110.3L318.5 110.3L319.3 110.2L320.1 110.1L320.8 109.9L321.6 109.6L322.4 109.3L323.2 109L323.9 108.8L324.7 108.5L325.5 108.1L326.3 107.6L327 106.9L327.8 105.8L328.6 103.9L329.4 100.9L330.1 96L330.9 88.7L331.7 78.9L332.5 68.3L333.2 61.3L334 63.1L334.8 72.1L335.6 82.7L336.3 91.6L337.1 97.9L337.9 102L338.7 104.5L339.4 106.1L340.2 107.1L341 107.8L341 112L255.8 112Z" fill="#fff" stroke="none"/>
<path d="M255.8 110.8L256.6 110.7L257.3 110.6L258.1 110.6L258.9 110.5L259.7 110.5L260.4 110.6L261.2 110.6L262 110.5L262.8 110.5L263.5 110.4L264.3 110.4L265.1 110.3L265.9 110.4L266.6 110.5L267.4 110.6L268.2 110.8L269 110.8L269.7 110.9L270.5 110.8L271.3 110.8L272.1 110.7L272.8 110.7L273.6 110.7L274.4 110.7L275.1 110.7L275.9 110.6L276.7 110.5L277.5 110.4L278.2 110.2L279 110L279.8 109.8L280.6 109.7L281.3 109.4L282.1 109L282.9 108.4L283.7 107.3L284.4 105.8L285.2 104.1L286 103L286.8 103L287.5 104L288.3 105.3L289.1 106.2L289.9 106.6L290.6 106.5L291.4 105.8L292.2 104.3L293 101.5L293.7 96.8L294.5 89.4L295.3 79.6L296.1 69.9L296.8 66.4L297.6 72.4L298.4 82.7L299.2 92.1L299.9 98.8L300.7 103L301.5 105.4L302.3 106.8L303 107.7L303.8 108.4L304.6 108.8L305.4 109.1L306.1 109.3L306.9 109.4L307.7 109.5L308.5 109.5L309.2 109.6L310 109.8L310.8 109.9L311.6 110L312.3 110.2L313.1 110.2L313.9 110.2L314.7 110.2L315.4 110.2L316.2 110.2L317 110.2L317.7 110.3L318.5 110.3L319.3 110.2L320.1 110.1L320.8 109.9L321.6 109.6L322.4 109.3L323.2 109L323.9 108.8L324.7 108.5L325.5 108.1L326.3 107.6L327 106.9L327.8 105.8L328.6 103.9L329.4 100.9L330.1 96L330.9 88.7L331.7 78.9L332.5 68.3L333.2 61.3L334 63.1L334.8 72.1L335.6 82.7L336.3 91.6L337.1 97.9L337.9 102L338.7 104.5L339.4 106.1L340.2 107.1L341 107.8" fill="none" stroke="#666" stroke-width="0.62" stroke-linejoin="round"/>
<path d="M253.8 114.6L254.6 114.7L255.3 114.7L256.1 114.6L256.9 114.6L257.7 114.5L258.4 114.4L259.2 114.4L260 114.4L260.8 114.3L261.5 114.3L262.3 114.2L263.1 114.1L263.9 114L264.6 113.9L265.4 113.8L266.2 113.8L267 113.9L267.7 113.9L268.5 114L269.3 114L270.1 114L270.8 114L271.6 113.9L272.4 113.8L273.2 113.7L273.9 113.7L274.7 113.7L275.5 113.6L276.3 113.5L277 113.4L277.8 113.2L278.6 112.9L279.4 112.5L280.1 112L280.9 111.4L281.7 110.4L282.5 109L283.2 107.5L284 106.5L284.8 106.6L285.6 107.7L286.3 108.9L287.1 109.9L287.9 110.3L288.7 110.3L289.4 109.8L290.2 108.4L291 105.7L291.8 101L292.5 93.5L293.3 83.6L294.1 73.7L294.9 70.1L295.6 76L296.4 86.4L297.2 95.8L297.9 102.6L298.7 106.8L299.5 109.2L300.3 110.5L301 111.3L301.8 111.9L302.6 112.3L303.4 112.6L304.1 112.9L304.9 113L305.7 113.1L306.5 113.1L307.2 113.1L308 113L308.8 113L309.6 113L310.3 113.1L311.1 113.1L311.9 113.2L312.7 113.3L313.4 113.3L314.2 113.3L315 113.3L315.8 113.2L316.5 113.2L317.3 113.2L318.1 113.3L318.9 113.2L319.6 113.2L320.4 113L321.2 112.7L322 112.4L322.7 112L323.5 111.6L324.3 111.1L325.1 110.4L325.8 109.4L326.6 107.7L327.4 104.7L328.2 99.8L328.9 92.5L329.7 82.7L330.5 72L331.3 65L332 66.8L332.8 76L333.6 86.8L334.4 95.8L335.1 102.1L335.9 106.2L336.7 108.5L337.5 109.9L338.2 110.8L339 111.4L339 115.5L253.8 115.5Z" fill="#fff" stroke="none"/>
<path d="M253.8 114.6L254.6 114.7L255.3 114.7L256.1 114.6L256.9 114.6L257.7 114.5L258.4 114.4L259.2 114.4L260 114.4L260.8 114.3L261.5 114.3L262.3 114.2L263.1 114.1L263.9 114L264.6 113.9L265.4 113.8L266.2 113.8L267 113.9L267.7 113.9L268.5 114L269.3 114L270.1 114L270.8 114L271.6 113.9L272.4 113.8L273.2 113.7L273.9 113.7L274.7 113.7L275.5 113.6L276.3 113.5L277 113.4L277.8 113.2L278.6 112.9L279.4 112.5L280.1 112L280.9 111.4L281.7 110.4L282.5 109L283.2 107.5L284 106.5L284.8 106.6L285.6 107.7L286.3 108.9L287.1 109.9L287.9 110.3L288.7 110.3L289.4 109.8L290.2 108.4L291 105.7L291.8 101L292.5 93.5L293.3 83.6L294.1 73.7L294.9 70.1L295.6 76L296.4 86.4L297.2 95.8L297.9 102.6L298.7 106.8L299.5 109.2L300.3 110.5L301 111.3L301.8 111.9L302.6 112.3L303.4 112.6L304.1 112.9L304.9 113L305.7 113.1L306.5 113.1L307.2 113.1L308 113L308.8 113L309.6 113L310.3 113.1L311.1 113.1L311.9 113.2L312.7 113.3L313.4 113.3L314.2 113.3L315 113.3L315.8 113.2L316.5 113.2L317.3 113.2L318.1 113.3L318.9 113.2L319.6 113.2L320.4 113L321.2 112.7L322 112.4L322.7 112L323.5 111.6L324.3 111.1L325.1 110.4L325.8 109.4L326.6 107.7L327.4 104.7L328.2 99.8L328.9 92.5L329.7 82.7L330.5 72L331.3 65L332 66.8L332.8 76L333.6 86.8L334.4 95.8L335.1 102.1L335.9 106.2L336.7 108.5L337.5 109.9L338.2 110.8L339 111.4" fill="none" stroke="#666" stroke-width="0.62" stroke-linejoin="round"/>
<path d="M253.8 115.3h85.2" stroke="#444" stroke-width="0.6" fill="none"/>
<rect x="392" y="4.3" width="84.2" height="61.7" fill="#fbfbfb" stroke="#6a6a6a" stroke-width="0.6"/>
<path d="M392 63.8h84.2M392 61.6h84.2M392 59.4h84.2M392 57.2h84.2M392 52.8h84.2M392 50.6h84.2M392 48.4h84.2M392 46.2h84.2M392 41.8h84.2M392 39.6h84.2M392 37.4h84.2M392 35.2h84.2M392 30.8h84.2M392 28.6h84.2M392 26.4h84.2M392 24.2h84.2M392 19.8h84.2M392 17.6h84.2M392 15.4h84.2M392 13.2h84.2M392 8.8h84.2M392 6.6h84.2M396.2 4.3v61.7M406.7 4.3v61.7M411.9 4.3v61.7M417.2 4.3v61.7M427.7 4.3v61.7M432.9 4.3v61.7M438.2 4.3v61.7M448.7 4.3v61.7M453.9 4.3v61.7M459.2 4.3v61.7M469.7 4.3v61.7M474.9 4.3v61.7" stroke="#ebebeb" stroke-width="0.5" fill="none"/>
<path d="M392 55h84.2M392 44h84.2M392 33h84.2M392 22h84.2M392 11h84.2M422.4 4.3v61.7M464.4 4.3v61.7" stroke="#c6c6c6" stroke-width="0.55" fill="none"/>
<path d="M401.4 4.3v61.7M443.4 4.3v61.7" stroke="#9c9c9c" stroke-width="0.6" fill="none"/>
<path d="M365.3 115L365.3 53.3L392 4.3L392 66Z" fill="#fcfcfc" stroke="#6a6a6a" stroke-width="0.6"/>
<path d="M365.3 104L392 55M365.3 93L392 44M365.3 82L392 33M365.3 71L392 22M365.3 60L392 11M369.1 108v-61.7M372.9 101v-61.7M376.7 94v-61.7M380.6 87v-61.7M384.4 80v-61.7M388.2 73v-61.7" stroke="#bcbcbc" stroke-width="0.5" fill="none"/>
<path d="M365.3 115h84.2L476.2 66" stroke="#666" stroke-width="0.6" fill="none"/>
<path d="M392 63.6L392.8 63.1L393.5 62.4L394.3 61.4L395.1 60.4L395.8 59.6L396.6 59.5L397.4 60L398.1 60.7L398.9 61.1L399.7 60.9L400.4 60.1L401.2 58.5L402 56.3L402.7 54.2L403.5 53.1L404.2 54L405 56.2L405.8 58.6L406.5 60.6L407.3 62.1L408.1 62.9L408.8 63.4L409.6 63.5L410.4 63.4L411.1 63.1L411.9 62.5L412.7 61.6L413.4 60.5L414.2 59.4L415 58.7L415.7 59L416.5 59.9L417.3 61L418 62L418.8 62.9L419.6 63.5L420.3 64L421.1 64.3L421.9 64.5L422.6 64.6L423.4 64.6L424.1 64.6L424.9 64.7L425.7 64.7L426.4 64.8L427.2 64.9L428 64.9L428.7 64.9L429.5 64.9L430.3 64.8L431 64.6L431.8 64.5L432.6 64.5L433.3 64.4L434.1 64.4L434.9 64.4L435.6 64.4L436.4 64.3L437.2 64.1L437.9 63.8L438.7 63.4L439.5 62.6L440.2 61.4L441 59.8L441.8 57.6L442.5 55.4L443.3 54.2L444.1 54.7L444.8 56.6L445.6 58.8L446.3 60.7L447.1 62.1L447.9 63.1L448.6 63.7L449.4 64.1L450.2 64.4L450.9 64.5L451.7 64.5L452.5 64.5L453.2 64.5L454 64.5L454.8 64.5L455.5 64.4L456.3 64.2L457.1 63.9L457.8 63.4L458.6 62.5L459.4 61.2L460.1 59.7L460.9 58.2L461.7 57.4L462.4 57.7L463.2 58.8L464 60.2L464.7 61.4L465.5 62.4L466.2 63L467 63.3L467.8 63.4L468.5 63.3L469.3 63.1L470.1 62.8L470.8 62.3L471.6 61.7L472.4 61.2L473.1 61.2L473.9 61.7L474.7 62.4L475.4 63.1L476.2 63.6L476.2 66.5L392 66.5Z" fill="#fff" stroke="none"/>
<path d="M392 63.6L392.8 63.1L393.5 62.4L394.3 61.4L395.1 60.4L395.8 59.6L396.6 59.5L397.4 60L398.1 60.7L398.9 61.1L399.7 60.9L400.4 60.1L401.2 58.5L402 56.3L402.7 54.2L403.5 53.1L404.2 54L405 56.2L405.8 58.6L406.5 60.6L407.3 62.1L408.1 62.9L408.8 63.4L409.6 63.5L410.4 63.4L411.1 63.1L411.9 62.5L412.7 61.6L413.4 60.5L414.2 59.4L415 58.7L415.7 59L416.5 59.9L417.3 61L418 62L418.8 62.9L419.6 63.5L420.3 64L421.1 64.3L421.9 64.5L422.6 64.6L423.4 64.6L424.1 64.6L424.9 64.7L425.7 64.7L426.4 64.8L427.2 64.9L428 64.9L428.7 64.9L429.5 64.9L430.3 64.8L431 64.6L431.8 64.5L432.6 64.5L433.3 64.4L434.1 64.4L434.9 64.4L435.6 64.4L436.4 64.3L437.2 64.1L437.9 63.8L438.7 63.4L439.5 62.6L440.2 61.4L441 59.8L441.8 57.6L442.5 55.4L443.3 54.2L444.1 54.7L444.8 56.6L445.6 58.8L446.3 60.7L447.1 62.1L447.9 63.1L448.6 63.7L449.4 64.1L450.2 64.4L450.9 64.5L451.7 64.5L452.5 64.5L453.2 64.5L454 64.5L454.8 64.5L455.5 64.4L456.3 64.2L457.1 63.9L457.8 63.4L458.6 62.5L459.4 61.2L460.1 59.7L460.9 58.2L461.7 57.4L462.4 57.7L463.2 58.8L464 60.2L464.7 61.4L465.5 62.4L466.2 63L467 63.3L467.8 63.4L468.5 63.3L469.3 63.1L470.1 62.8L470.8 62.3L471.6 61.7L472.4 61.2L473.1 61.2L473.9 61.7L474.7 62.4L475.4 63.1L476.2 63.6" fill="none" stroke="#666" stroke-width="0.62" stroke-linejoin="round"/>
<path d="M390.1 67L390.9 66.6L391.6 66L392.4 65.2L393.2 64.3L393.9 63.7L394.7 63.6L395.5 63.9L396.2 64.5L397 64.8L397.7 64.7L398.5 64L399.3 62.6L400 60.7L400.8 58.7L401.6 57.6L402.3 58.3L403.1 60.2L403.9 62.4L404.6 64.2L405.4 65.6L406.2 66.5L406.9 67L407.7 67.2L408.5 67.1L409.2 66.8L410 66.3L410.8 65.4L411.5 64.5L412.3 63.5L413.1 63.1L413.8 63.4L414.6 64.3L415.4 65.3L416.1 66.2L416.9 66.8L417.6 67.3L418.4 67.5L419.2 67.8L419.9 67.9L420.7 68.1L421.5 68.2L422.2 68.3L423 68.3L423.8 68.3L424.5 68.3L425.3 68.3L426.1 68.3L426.8 68.4L427.6 68.4L428.4 68.5L429.1 68.4L429.9 68.4L430.7 68.3L431.4 68.1L432.2 68L433 67.8L433.7 67.8L434.5 67.7L435.3 67.6L436 67.4L436.8 66.9L437.6 66.2L438.3 65.1L439.1 63.4L439.8 61.4L440.6 59.3L441.4 58.2L442.1 58.8L442.9 60.8L443.7 63L444.4 64.8L445.2 66.1L446 66.9L446.7 67.4L447.5 67.7L448.3 67.9L449 68L449.8 68.1L450.6 68.2L451.3 68.2L452.1 68.1L452.9 68L453.6 67.9L454.4 67.7L455.2 67.4L455.9 67L456.7 66.3L457.5 65.4L458.2 64.2L459 63L459.7 62.3L460.5 62.4L461.3 63.3L462 64.4L462.8 65.4L463.6 66.2L464.3 66.8L465.1 67.1L465.9 67.2L466.6 67.1L467.4 66.8L468.2 66.4L468.9 65.9L469.7 65.3L470.5 65L471.2 65.1L472 65.6L472.8 66.3L473.5 67L474.3 67.5L474.3 70L390.1 70Z" fill="#fff" stroke="none"/>
<path d="M390.1 67L390.9 66.6L391.6 66L392.4 65.2L393.2 64.3L393.9 63.7L394.7 63.6L395.5 63.9L396.2 64.5L397 64.8L397.7 64.7L398.5 64L399.3 62.6L400 60.7L400.8 58.7L401.6 57.6L402.3 58.3L403.1 60.2L403.9 62.4L404.6 64.2L405.4 65.6L406.2 66.5L406.9 67L407.7 67.2L408.5 67.1L409.2 66.8L410 66.3L410.8 65.4L411.5 64.5L412.3 63.5L413.1 63.1L413.8 63.4L414.6 64.3L415.4 65.3L416.1 66.2L416.9 66.8L417.6 67.3L418.4 67.5L419.2 67.8L419.9 67.9L420.7 68.1L421.5 68.2L422.2 68.3L423 68.3L423.8 68.3L424.5 68.3L425.3 68.3L426.1 68.3L426.8 68.4L427.6 68.4L428.4 68.5L429.1 68.4L429.9 68.4L430.7 68.3L431.4 68.1L432.2 68L433 67.8L433.7 67.8L434.5 67.7L435.3 67.6L436 67.4L436.8 66.9L437.6 66.2L438.3 65.1L439.1 63.4L439.8 61.4L440.6 59.3L441.4 58.2L442.1 58.8L442.9 60.8L443.7 63L444.4 64.8L445.2 66.1L446 66.9L446.7 67.4L447.5 67.7L448.3 67.9L449 68L449.8 68.1L450.6 68.2L451.3 68.2L452.1 68.1L452.9 68L453.6 67.9L454.4 67.7L455.2 67.4L455.9 67L456.7 66.3L457.5 65.4L458.2 64.2L459 63L459.7 62.3L460.5 62.4L461.3 63.3L462 64.4L462.8 65.4L463.6 66.2L464.3 66.8L465.1 67.1L465.9 67.2L466.6 67.1L467.4 66.8L468.2 66.4L468.9 65.9L469.7 65.3L470.5 65L471.2 65.1L472 65.6L472.8 66.3L473.5 67L474.3 67.5" fill="none" stroke="#666" stroke-width="0.62" stroke-linejoin="round"/>
<path d="M388.2 71.1L389 70.5L389.7 69.9L390.5 69.2L391.2 68.4L392 67.9L392.8 67.9L393.5 68.3L394.3 68.8L395.1 69L395.8 68.8L396.6 68.1L397.4 66.7L398.1 64.9L398.9 63.1L399.7 62.2L400.4 62.9L401.2 64.7L402 66.6L402.7 68.1L403.5 69.2L404.3 69.8L405 70.2L405.8 70.4L406.6 70.4L407.3 70.2L408.1 69.8L408.9 69.1L409.6 68.2L410.4 67.3L411.1 66.9L411.9 67.1L412.7 68L413.4 69L414.2 69.9L415 70.6L415.7 71L416.5 71.2L417.3 71.3L418 71.4L418.8 71.4L419.6 71.5L420.3 71.6L421.1 71.7L421.9 71.9L422.6 71.9L423.4 72L424.2 72L424.9 72L425.7 72.1L426.5 72.1L427.2 72.2L428 72.3L428.8 72.3L429.5 72.3L430.3 72.2L431.1 72.1L431.8 71.9L432.6 71.7L433.3 71.4L434.1 71.1L434.9 70.7L435.6 70.1L436.4 69L437.2 67.5L437.9 65.5L438.7 63.5L439.5 62.3L440.2 62.8L441 64.6L441.8 66.7L442.5 68.5L443.3 69.8L444.1 70.6L444.8 71.1L445.6 71.3L446.4 71.3L447.1 71.3L447.9 71.3L448.7 71.3L449.4 71.3L450.2 71.3L451 71.3L451.7 71.2L452.5 71.1L453.2 70.8L454 70.3L454.8 69.7L455.5 69L456.3 68L457.1 67.2L457.8 66.7L458.6 67L459.4 67.9L460.1 68.8L460.9 69.7L461.7 70.3L462.4 70.7L463.2 71L464 71.1L464.7 71.1L465.5 71L466.3 70.6L467 70.2L467.8 69.6L468.6 69.2L469.3 69.2L470.1 69.7L470.9 70.3L471.6 71L472.4 71.6L472.4 73.5L388.2 73.5Z" fill="#fff" stroke="none"/>
<path d="M388.2 71.1L389 70.5L389.7 69.9L390.5 69.2L391.2 68.4L392 67.9L392.8 67.9L393.5 68.3L394.3 68.8L395.1 69L395.8 68.8L396.6 68.1L397.4 66.7L398.1 64.9L398.9 63.1L399.7 62.2L400.4 62.9L401.2 64.7L402 66.6L402.7 68.1L403.5 69.2L404.3 69.8L405 70.2L405.8 70.4L406.6 70.4L407.3 70.2L408.1 69.8L408.9 69.1L409.6 68.2L410.4 67.3L411.1 66.9L411.9 67.1L412.7 68L413.4 69L414.2 69.9L415 70.6L415.7 71L416.5 71.2L417.3 71.3L418 71.4L418.8 71.4L419.6 71.5L420.3 71.6L421.1 71.7L421.9 71.9L422.6 71.9L423.4 72L424.2 72L424.9 72L425.7 72.1L426.5 72.1L427.2 72.2L428 72.3L428.8 72.3L429.5 72.3L430.3 72.2L431.1 72.1L431.8 71.9L432.6 71.7L433.3 71.4L434.1 71.1L434.9 70.7L435.6 70.1L436.4 69L437.2 67.5L437.9 65.5L438.7 63.5L439.5 62.3L440.2 62.8L441 64.6L441.8 66.7L442.5 68.5L443.3 69.8L444.1 70.6L444.8 71.1L445.6 71.3L446.4 71.3L447.1 71.3L447.9 71.3L448.7 71.3L449.4 71.3L450.2 71.3L451 71.3L451.7 71.2L452.5 71.1L453.2 70.8L454 70.3L454.8 69.7L455.5 69L456.3 68L457.1 67.2L457.8 66.7L458.6 67L459.4 67.9L460.1 68.8L460.9 69.7L461.7 70.3L462.4 70.7L463.2 71L464 71.1L464.7 71.1L465.5 71L466.3 70.6L467 70.2L467.8 69.6L468.6 69.2L469.3 69.2L470.1 69.7L470.9 70.3L471.6 71L472.4 71.6" fill="none" stroke="#666" stroke-width="0.62" stroke-linejoin="round"/>
<path d="M386.3 75.2L387 74.9L387.8 74.6L388.6 74.1L389.3 73.6L390.1 73.3L390.9 73.2L391.6 73.4L392.4 73.7L393.2 73.9L393.9 73.7L394.7 73.1L395.5 72.2L396.2 70.8L397 69.5L397.8 68.9L398.5 69.4L399.3 70.7L400.1 72.2L400.8 73.3L401.6 74L402.4 74.4L403.1 74.6L403.9 74.6L404.6 74.4L405.4 74.2L406.2 73.8L406.9 73.3L407.7 72.7L408.5 72L409.2 71.7L410 71.8L410.8 72.4L411.5 73.2L412.3 73.9L413.1 74.4L413.8 74.9L414.6 75.1L415.4 75.3L416.1 75.3L416.9 75.3L417.7 75.2L418.4 75.2L419.2 75.1L420 75.2L420.7 75.2L421.5 75.3L422.3 75.4L423 75.5L423.8 75.5L424.6 75.5L425.3 75.5L426.1 75.5L426.8 75.6L427.6 75.6L428.4 75.7L429.1 75.8L429.9 75.7L430.7 75.6L431.4 75.4L432.2 75.2L433 74.8L433.7 74.2L434.5 73.5L435.3 72.4L436 71.1L436.8 69.8L437.6 69L438.3 69.3L439.1 70.5L439.9 71.9L440.6 73.1L441.4 74.1L442.2 74.7L442.9 75.2L443.7 75.4L444.5 75.6L445.2 75.6L446 75.5L446.7 75.4L447.5 75.3L448.3 75.3L449 75.2L449.8 75.1L450.6 75.1L451.3 74.9L452.1 74.7L452.9 74.3L453.6 73.8L454.4 73.2L455.2 72.7L455.9 72.5L456.7 72.7L457.5 73.3L458.2 73.9L459 74.5L459.8 74.8L460.5 75L461.3 75.1L462.1 75.1L462.8 75L463.6 75L464.4 74.8L465.1 74.6L465.9 74.4L466.7 74.2L467.4 74.2L468.2 74.4L468.9 74.7L469.7 75L470.5 75.3L470.5 77L386.3 77Z" fill="#fff" stroke="none"/>
<path d="M386.3 75.2L387 74.9L387.8 74.6L388.6 74.1L389.3 73.6L390.1 73.3L390.9 73.2L391.6 73.4L392.4 73.7L393.2 73.9L393.9 73.7L394.7 73.1L395.5 72.2L396.2 70.8L397 69.5L397.8 68.9L398.5 69.4L399.3 70.7L400.1 72.2L400.8 73.3L401.6 74L402.4 74.4L403.1 74.6L403.9 74.6L404.6 74.4L405.4 74.2L406.2 73.8L406.9 73.3L407.7 72.7L408.5 72L409.2 71.7L410 71.8L410.8 72.4L411.5 73.2L412.3 73.9L413.1 74.4L413.8 74.9L414.6 75.1L415.4 75.3L416.1 75.3L416.9 75.3L417.7 75.2L418.4 75.2L419.2 75.1L420 75.2L420.7 75.2L421.5 75.3L422.3 75.4L423 75.5L423.8 75.5L424.6 75.5L425.3 75.5L426.1 75.5L426.8 75.6L427.6 75.6L428.4 75.7L429.1 75.8L429.9 75.7L430.7 75.6L431.4 75.4L432.2 75.2L433 74.8L433.7 74.2L434.5 73.5L435.3 72.4L436 71.1L436.8 69.8L437.6 69L438.3 69.3L439.1 70.5L439.9 71.9L440.6 73.1L441.4 74.1L442.2 74.7L442.9 75.2L443.7 75.4L444.5 75.6L445.2 75.6L446 75.5L446.7 75.4L447.5 75.3L448.3 75.3L449 75.2L449.8 75.1L450.6 75.1L451.3 74.9L452.1 74.7L452.9 74.3L453.6 73.8L454.4 73.2L455.2 72.7L455.9 72.5L456.7 72.7L457.5 73.3L458.2 73.9L459 74.5L459.8 74.8L460.5 75L461.3 75.1L462.1 75.1L462.8 75L463.6 75L464.4 74.8L465.1 74.6L465.9 74.4L466.7 74.2L467.4 74.2L468.2 74.4L468.9 74.7L469.7 75L470.5 75.3" fill="none" stroke="#666" stroke-width="0.62" stroke-linejoin="round"/>
<path d="M384.4 79.4L385.1 79.3L385.9 79.3L386.7 79.3L387.4 79.2L388.2 79L389 78.9L389.7 78.7L390.5 78.6L391.3 78.4L392 78.3L392.8 78L393.6 77.6L394.3 77.1L395.1 76.5L395.9 76.2L396.6 76.4L397.4 76.9L398.1 77.6L398.9 78.1L399.7 78.5L400.4 78.8L401.2 78.9L402 78.9L402.7 78.8L403.5 78.6L404.3 78.3L405 78L405.8 77.7L406.6 77.4L407.3 77.3L408.1 77.5L408.9 77.9L409.6 78.3L410.4 78.7L411.2 78.9L411.9 79.1L412.7 79.3L413.5 79.4L414.2 79.5L415 79.6L415.8 79.6L416.5 79.6L417.3 79.5L418.1 79.4L418.8 79.2L419.6 79.2L420.3 79.1L421.1 79.2L421.9 79.2L422.6 79.2L423.4 79.2L424.2 79.2L424.9 79.2L425.7 79.1L426.5 79.1L427.2 79.1L428 79.1L428.8 79.1L429.5 79.1L430.3 79.1L431.1 78.9L431.8 78.6L432.6 78.2L433.4 77.6L434.1 77L434.9 76.4L435.7 76.1L436.4 76.3L437.2 76.8L438 77.5L438.7 78L439.5 78.4L440.2 78.7L441 78.9L441.8 79.1L442.5 79.2L443.3 79.4L444.1 79.5L444.8 79.6L445.6 79.6L446.4 79.6L447.1 79.5L447.9 79.4L448.7 79.4L449.4 79.4L450.2 79.4L451 79.5L451.7 79.5L452.5 79.5L453.3 79.5L454 79.4L454.8 79.4L455.6 79.4L456.3 79.4L457.1 79.5L457.9 79.6L458.6 79.7L459.4 79.7L460.2 79.7L460.9 79.6L461.7 79.4L462.4 79.3L463.2 79.2L464 79.2L464.7 79.2L465.5 79.2L466.3 79.2L467 79.1L467.8 79.1L468.6 79L468.6 80.5L384.4 80.5Z" fill="#fff" stroke="none"/>
<path d="M384.4 79.4L385.1 79.3L385.9 79.3L386.7 79.3L387.4 79.2L388.2 79L389 78.9L389.7 78.7L390.5 78.6L391.3 78.4L392 78.3L392.8 78L393.6 77.6L394.3 77.1L395.1 76.5L395.9 76.2L396.6 76.4L397.4 76.9L398.1 77.6L398.9 78.1L399.7 78.5L400.4 78.8L401.2 78.9L402 78.9L402.7 78.8L403.5 78.6L404.3 78.3L405 78L405.8 77.7L406.6 77.4L407.3 77.3L408.1 77.5L408.9 77.9L409.6 78.3L410.4 78.7L411.2 78.9L411.9 79.1L412.7 79.3L413.5 79.4L414.2 79.5L415 79.6L415.8 79.6L416.5 79.6L417.3 79.5L418.1 79.4L418.8 79.2L419.6 79.2L420.3 79.1L421.1 79.2L421.9 79.2L422.6 79.2L423.4 79.2L424.2 79.2L424.9 79.2L425.7 79.1L426.5 79.1L427.2 79.1L428 79.1L428.8 79.1L429.5 79.1L430.3 79.1L431.1 78.9L431.8 78.6L432.6 78.2L433.4 77.6L434.1 77L434.9 76.4L435.7 76.1L436.4 76.3L437.2 76.8L438 77.5L438.7 78L439.5 78.4L440.2 78.7L441 78.9L441.8 79.1L442.5 79.2L443.3 79.4L444.1 79.5L444.8 79.6L445.6 79.6L446.4 79.6L447.1 79.5L447.9 79.4L448.7 79.4L449.4 79.4L450.2 79.4L451 79.5L451.7 79.5L452.5 79.5L453.3 79.5L454 79.4L454.8 79.4L455.6 79.4L456.3 79.4L457.1 79.5L457.9 79.6L458.6 79.7L459.4 79.7L460.2 79.7L460.9 79.6L461.7 79.4L462.4 79.3L463.2 79.2L464 79.2L464.7 79.2L465.5 79.2L466.3 79.2L467 79.1L467.8 79.1L468.6 79" fill="none" stroke="#666" stroke-width="0.62" stroke-linejoin="round"/>
<path d="M382.5 83.2L383.2 83.1L384 83.1L384.8 83.2L385.5 83.2L386.3 83.2L387.1 83.2L387.8 83.1L388.6 83L389.4 82.9L390.1 82.8L390.9 82.7L391.6 82.7L392.4 82.7L393.2 82.8L393.9 82.9L394.7 82.9L395.5 82.9L396.2 82.8L397 82.7L397.8 82.7L398.5 82.7L399.3 82.6L400.1 82.6L400.8 82.6L401.6 82.5L402.4 82.4L403.1 82.2L403.9 82L404.7 81.7L405.4 81.6L406.2 81.5L407 81.5L407.7 81.6L408.5 81.7L409.3 81.8L410 81.9L410.8 82L411.6 82.1L412.3 82.3L413.1 82.4L413.8 82.5L414.6 82.7L415.4 82.8L416.1 82.8L416.9 82.8L417.7 82.7L418.4 82.5L419.2 82.3L420 82.1L420.7 81.8L421.5 81.5L422.3 81.2L423 81L423.8 81.1L424.6 81.3L425.3 81.7L426.1 82L426.9 82.3L427.6 82.6L428.4 82.8L429.2 82.9L429.9 83L430.7 83.1L431.5 83L432.2 82.9L433 82.8L433.7 82.7L434.5 82.6L435.3 82.6L436 82.6L436.8 82.6L437.6 82.6L438.3 82.6L439.1 82.6L439.9 82.6L440.6 82.6L441.4 82.6L442.2 82.6L442.9 82.7L443.7 82.8L444.5 82.9L445.2 82.9L446 82.9L446.8 82.8L447.5 82.8L448.3 82.7L449.1 82.6L449.8 82.6L450.6 82.7L451.4 82.7L452.1 82.8L452.9 82.8L453.7 82.8L454.4 82.8L455.2 82.8L455.9 82.8L456.7 82.9L457.5 83L458.2 83.2L459 83.3L459.8 83.3L460.5 83.3L461.3 83.3L462.1 83.2L462.8 83.1L463.6 83.1L464.4 83L465.1 83L465.9 83L466.7 83L466.7 84L382.5 84Z" fill="#fff" stroke="none"/>
<path d="M382.5 83.2L383.2 83.1L384 83.1L384.8 83.2L385.5 83.2L386.3 83.2L387.1 83.2L387.8 83.1L388.6 83L389.4 82.9L390.1 82.8L390.9 82.7L391.6 82.7L392.4 82.7L393.2 82.8L393.9 82.9L394.7 82.9L395.5 82.9L396.2 82.8L397 82.7L397.8 82.7L398.5 82.7L399.3 82.6L400.1 82.6L400.8 82.6L401.6 82.5L402.4 82.4L403.1 82.2L403.9 82L404.7 81.7L405.4 81.6L406.2 81.5L407 81.5L407.7 81.6L408.5 81.7L409.3 81.8L410 81.9L410.8 82L411.6 82.1L412.3 82.3L413.1 82.4L413.8 82.5L414.6 82.7L415.4 82.8L416.1 82.8L416.9 82.8L417.7 82.7L418.4 82.5L419.2 82.3L420 82.1L420.7 81.8L421.5 81.5L422.3 81.2L423 81L423.8 81.1L424.6 81.3L425.3 81.7L426.1 82L426.9 82.3L427.6 82.6L428.4 82.8L429.2 82.9L429.9 83L430.7 83.1L431.5 83L432.2 82.9L433 82.8L433.7 82.7L434.5 82.6L435.3 82.6L436 82.6L436.8 82.6L437.6 82.6L438.3 82.6L439.1 82.6L439.9 82.6L440.6 82.6L441.4 82.6L442.2 82.6L442.9 82.7L443.7 82.8L444.5 82.9L445.2 82.9L446 82.9L446.8 82.8L447.5 82.8L448.3 82.7L449.1 82.6L449.8 82.6L450.6 82.7L451.4 82.7L452.1 82.8L452.9 82.8L453.7 82.8L454.4 82.8L455.2 82.8L455.9 82.8L456.7 82.9L457.5 83L458.2 83.2L459 83.3L459.8 83.3L460.5 83.3L461.3 83.3L462.1 83.2L462.8 83.1L463.6 83.1L464.4 83L465.1 83L465.9 83L466.7 83" fill="none" stroke="#666" stroke-width="0.62" stroke-linejoin="round"/>
<path d="M380.6 86.6L381.3 86.6L382.1 86.6L382.9 86.5L383.6 86.4L384.4 86.4L385.1 86.4L385.9 86.4L386.7 86.4L387.4 86.3L388.2 86.3L389 86.1L389.7 86L390.5 85.8L391.3 85.8L392 85.7L392.8 85.8L393.6 85.8L394.3 85.8L395.1 85.8L395.9 85.8L396.6 85.7L397.4 85.6L398.2 85.5L398.9 85.3L399.7 85.2L400.5 85L401.2 84.8L402 84.5L402.8 84.2L403.5 83.8L404.3 83.4L405.1 83.2L405.8 83.1L406.6 83.2L407.3 83.4L408.1 83.8L408.9 84.2L409.6 84.6L410.4 84.9L411.2 85.1L411.9 85.3L412.7 85.5L413.5 85.7L414.2 85.8L415 85.9L415.8 85.9L416.5 85.8L417.3 85.5L418.1 85L418.8 84.3L419.6 83.5L420.4 82.7L421.1 82.2L421.9 82.2L422.7 82.8L423.4 83.5L424.2 84.3L425 84.8L425.7 85.2L426.5 85.4L427.2 85.6L428 85.7L428.8 85.9L429.5 86L430.3 86.1L431.1 86.1L431.8 86L432.6 85.9L433.4 85.8L434.1 85.7L434.9 85.6L435.7 85.5L436.4 85.5L437.2 85.5L438 85.4L438.7 85.3L439.5 85.2L440.3 85L441 84.8L441.8 84.6L442.6 84.5L443.3 84.5L444.1 84.5L444.9 84.6L445.6 84.7L446.4 84.9L447.2 85L447.9 85.2L448.7 85.3L449.4 85.4L450.2 85.6L451 85.8L451.7 85.9L452.5 86.1L453.3 86.2L454 86.2L454.8 86.2L455.6 86.2L456.3 86.2L457.1 86.3L457.9 86.4L458.6 86.5L459.4 86.6L460.2 86.6L460.9 86.6L461.7 86.5L462.5 86.4L463.2 86.3L464 86.3L464.8 86.2L464.8 87.5L380.6 87.5Z" fill="#fff" stroke="none"/>
<path d="M380.6 86.6L381.3 86.6L382.1 86.6L382.9 86.5L383.6 86.4L384.4 86.4L385.1 86.4L385.9 86.4L386.7 86.4L387.4 86.3L388.2 86.3L389 86.1L389.7 86L390.5 85.8L391.3 85.8L392 85.7L392.8 85.8L393.6 85.8L394.3 85.8L395.1 85.8L395.9 85.8L396.6 85.7L397.4 85.6L398.2 85.5L398.9 85.3L399.7 85.2L400.5 85L401.2 84.8L402 84.5L402.8 84.2L403.5 83.8L404.3 83.4L405.1 83.2L405.8 83.1L406.6 83.2L407.3 83.4L408.1 83.8L408.9 84.2L409.6 84.6L410.4 84.9L411.2 85.1L411.9 85.3L412.7 85.5L413.5 85.7L414.2 85.8L415 85.9L415.8 85.9L416.5 85.8L417.3 85.5L418.1 85L418.8 84.3L419.6 83.5L420.4 82.7L421.1 82.2L421.9 82.2L422.7 82.8L423.4 83.5L424.2 84.3L425 84.8L425.7 85.2L426.5 85.4L427.2 85.6L428 85.7L428.8 85.9L429.5 86L430.3 86.1L431.1 86.1L431.8 86L432.6 85.9L433.4 85.8L434.1 85.7L434.9 85.6L435.7 85.5L436.4 85.5L437.2 85.5L438 85.4L438.7 85.3L439.5 85.2L440.3 85L441 84.8L441.8 84.6L442.6 84.5L443.3 84.5L444.1 84.5L444.9 84.6L445.6 84.7L446.4 84.9L447.2 85L447.9 85.2L448.7 85.3L449.4 85.4L450.2 85.6L451 85.8L451.7 85.9L452.5 86.1L453.3 86.2L454 86.2L454.8 86.2L455.6 86.2L456.3 86.2L457.1 86.3L457.9 86.4L458.6 86.5L459.4 86.6L460.2 86.6L460.9 86.6L461.7 86.5L462.5 86.4L463.2 86.3L464 86.3L464.8 86.2" fill="none" stroke="#666" stroke-width="0.62" stroke-linejoin="round"/>
<path d="M378.7 89.5L379.4 89.5L380.2 89.6L380.9 89.7L381.7 89.7L382.5 89.7L383.2 89.6L384 89.6L384.8 89.6L385.5 89.6L386.3 89.7L387.1 89.7L387.8 89.7L388.6 89.6L389.4 89.5L390.1 89.4L390.9 89.3L391.7 89.3L392.4 89.3L393.2 89.3L394 89.3L394.7 89.3L395.5 89.3L396.3 89.2L397 89L397.8 88.8L398.6 88.5L399.3 88.3L400.1 88L400.8 87.6L401.6 87.3L402.4 87L403.1 86.7L403.9 86.6L404.7 86.5L405.4 86.6L406.2 86.9L407 87.2L407.7 87.6L408.5 87.9L409.3 88.3L410 88.5L410.8 88.7L411.6 88.8L412.3 88.8L413.1 88.8L413.9 88.8L414.6 88.7L415.4 88.5L416.2 88.1L416.9 87.5L417.7 86.6L418.5 85.7L419.2 85L420 84.9L420.8 85.4L421.5 86.2L422.3 87.1L423 87.8L423.8 88.3L424.6 88.7L425.3 88.9L426.1 89L426.9 89.1L427.6 89.2L428.4 89.3L429.2 89.4L429.9 89.6L430.7 89.7L431.5 89.7L432.2 89.7L433 89.6L433.8 89.4L434.5 89.3L435.3 89.1L436.1 89L436.8 88.9L437.6 88.7L438.4 88.6L439.1 88.3L439.9 88.1L440.7 87.8L441.4 87.6L442.2 87.5L442.9 87.5L443.7 87.7L444.5 87.9L445.2 88.3L446 88.5L446.8 88.8L447.5 88.9L448.3 89L449.1 89.1L449.8 89.1L450.6 89.2L451.4 89.3L452.1 89.4L452.9 89.4L453.7 89.4L454.4 89.4L455.2 89.4L456 89.3L456.7 89.4L457.5 89.4L458.3 89.5L459 89.6L459.8 89.7L460.6 89.8L461.3 89.8L462.1 89.8L462.9 89.7L462.9 91L378.7 91Z" fill="#fff" stroke="none"/>
<path d="M378.7 89.5L379.4 89.5L380.2 89.6L380.9 89.7L381.7 89.7L382.5 89.7L383.2 89.6L384 89.6L384.8 89.6L385.5 89.6L386.3 89.7L387.1 89.7L387.8 89.7L388.6 89.6L389.4 89.5L390.1 89.4L390.9 89.3L391.7 89.3L392.4 89.3L393.2 89.3L394 89.3L394.7 89.3L395.5 89.3L396.3 89.2L397 89L397.8 88.8L398.6 88.5L399.3 88.3L400.1 88L400.8 87.6L401.6 87.3L402.4 87L403.1 86.7L403.9 86.6L404.7 86.5L405.4 86.6L406.2 86.9L407 87.2L407.7 87.6L408.5 87.9L409.3 88.3L410 88.5L410.8 88.7L411.6 88.8L412.3 88.8L413.1 88.8L413.9 88.8L414.6 88.7L415.4 88.5L416.2 88.1L416.9 87.5L417.7 86.6L418.5 85.7L419.2 85L420 84.9L420.8 85.4L421.5 86.2L422.3 87.1L423 87.8L423.8 88.3L424.6 88.7L425.3 88.9L426.1 89L426.9 89.1L427.6 89.2L428.4 89.3L429.2 89.4L429.9 89.6L430.7 89.7L431.5 89.7L432.2 89.7L433 89.6L433.8 89.4L434.5 89.3L435.3 89.1L436.1 89L436.8 88.9L437.6 88.7L438.4 88.6L439.1 88.3L439.9 88.1L440.7 87.8L441.4 87.6L442.2 87.5L442.9 87.5L443.7 87.7L444.5 87.9L445.2 88.3L446 88.5L446.8 88.8L447.5 88.9L448.3 89L449.1 89.1L449.8 89.1L450.6 89.2L451.4 89.3L452.1 89.4L452.9 89.4L453.7 89.4L454.4 89.4L455.2 89.4L456 89.3L456.7 89.4L457.5 89.4L458.3 89.5L459 89.6L459.8 89.7L460.6 89.8L461.3 89.8L462.1 89.8L462.9 89.7" fill="none" stroke="#666" stroke-width="0.62" stroke-linejoin="round"/>
<path d="M376.7 93L377.5 93L378.3 93L379 93.1L379.8 93.2L380.6 93.4L381.3 93.4L382.1 93.5L382.9 93.5L383.6 93.5L384.4 93.4L385.2 93.4L385.9 93.5L386.7 93.5L387.5 93.5L388.2 93.5L389 93.4L389.8 93.2L390.5 93L391.3 92.9L392.1 92.7L392.8 92.6L393.6 92.5L394.3 92.4L395.1 92.2L395.9 92L396.6 91.7L397.4 91.3L398.2 90.8L398.9 90.4L399.7 90L400.5 89.6L401.2 89.4L402 89.3L402.8 89.4L403.5 89.6L404.3 89.8L405.1 90.1L405.8 90.4L406.6 90.7L407.4 91L408.1 91.3L408.9 91.6L409.7 91.9L410.4 92L411.2 92.1L412 92L412.7 91.9L413.5 91.6L414.3 91.2L415 90.6L415.8 89.8L416.5 89L417.3 88.4L418.1 88.4L418.8 89L419.6 89.9L420.4 90.7L421.1 91.4L421.9 91.9L422.7 92.3L423.4 92.6L424.2 92.8L425 92.9L425.7 93L426.5 93L427.3 93L428 93L428.8 93.1L429.6 93.1L430.3 93.2L431.1 93.2L431.9 93.1L432.6 93L433.4 92.7L434.2 92.5L434.9 92.1L435.7 91.8L436.4 91.5L437.2 91.2L438 90.9L438.7 90.6L439.5 90.3L440.3 90.1L441 90.1L441.8 90.1L442.6 90.4L443.3 90.7L444.1 91.1L444.9 91.5L445.6 91.9L446.4 92.2L447.2 92.4L447.9 92.5L448.7 92.6L449.5 92.6L450.2 92.6L451 92.7L451.8 92.8L452.5 92.9L453.3 93L454.1 93L454.8 93L455.6 93L456.4 93.1L457.1 93.1L457.9 93.2L458.6 93.3L459.4 93.5L460.2 93.6L460.9 93.7L460.9 94.5L376.7 94.5Z" fill="#fff" stroke="none"/>
<path d="M376.7 93L377.5 93L378.3 93L379 93.1L379.8 93.2L380.6 93.4L381.3 93.4L382.1 93.5L382.9 93.5L383.6 93.5L384.4 93.4L385.2 93.4L385.9 93.5L386.7 93.5L387.5 93.5L388.2 93.5L389 93.4L389.8 93.2L390.5 93L391.3 92.9L392.1 92.7L392.8 92.6L393.6 92.5L394.3 92.4L395.1 92.2L395.9 92L396.6 91.7L397.4 91.3L398.2 90.8L398.9 90.4L399.7 90L400.5 89.6L401.2 89.4L402 89.3L402.8 89.4L403.5 89.6L404.3 89.8L405.1 90.1L405.8 90.4L406.6 90.7L407.4 91L408.1 91.3L408.9 91.6L409.7 91.9L410.4 92L411.2 92.1L412 92L412.7 91.9L413.5 91.6L414.3 91.2L415 90.6L415.8 89.8L416.5 89L417.3 88.4L418.1 88.4L418.8 89L419.6 89.9L420.4 90.7L421.1 91.4L421.9 91.9L422.7 92.3L423.4 92.6L424.2 92.8L425 92.9L425.7 93L426.5 93L427.3 93L428 93L428.8 93.1L429.6 93.1L430.3 93.2L431.1 93.2L431.9 93.1L432.6 93L433.4 92.7L434.2 92.5L434.9 92.1L435.7 91.8L436.4 91.5L437.2 91.2L438 90.9L438.7 90.6L439.5 90.3L440.3 90.1L441 90.1L441.8 90.1L442.6 90.4L443.3 90.7L444.1 91.1L444.9 91.5L445.6 91.9L446.4 92.2L447.2 92.4L447.9 92.5L448.7 92.6L449.5 92.6L450.2 92.6L451 92.7L451.8 92.8L452.5 92.9L453.3 93L454.1 93L454.8 93L455.6 93L456.4 93.1L457.1 93.1L457.9 93.2L458.6 93.3L459.4 93.5L460.2 93.6L460.9 93.7" fill="none" stroke="#666" stroke-width="0.62" stroke-linejoin="round"/>
<path d="M374.8 97L375.6 96.9L376.4 96.8L377.1 96.6L377.9 96.6L378.7 96.5L379.4 96.6L380.2 96.6L381 96.7L381.7 96.7L382.5 96.7L383.3 96.7L384 96.6L384.8 96.5L385.6 96.5L386.3 96.5L387.1 96.5L387.8 96.5L388.6 96.4L389.4 96.3L390.1 96.2L390.9 96L391.7 95.8L392.4 95.6L393.2 95.4L394 95.2L394.7 95.1L395.5 94.9L396.3 94.6L397 94.3L397.8 93.9L398.6 93.6L399.3 93.4L400.1 93.4L400.9 93.5L401.6 93.8L402.4 94.2L403.2 94.6L403.9 94.9L404.7 95.2L405.5 95.3L406.2 95.5L407 95.6L407.8 95.7L408.5 95.8L409.3 95.9L410 95.9L410.8 95.7L411.6 95.4L412.3 94.8L413.1 94L413.9 93L414.6 92.1L415.4 91.4L416.2 91.5L416.9 92.2L417.7 93.3L418.5 94.2L419.2 94.9L420 95.3L420.8 95.5L421.5 95.7L422.3 95.8L423.1 95.9L423.8 96L424.6 96.1L425.4 96.1L426.1 96.1L426.9 96.1L427.7 96.1L428.4 96.1L429.2 96.1L429.9 96.1L430.7 96.2L431.5 96.2L432.2 96.1L433 95.9L433.8 95.7L434.5 95.4L435.3 95.1L436.1 94.8L436.8 94.5L437.6 94.3L438.4 94.3L439.1 94.3L439.9 94.5L440.7 94.6L441.4 94.9L442.2 95.1L443 95.4L443.7 95.7L444.5 96.1L445.3 96.4L446 96.6L446.8 96.8L447.6 96.9L448.3 96.9L449.1 96.8L449.9 96.8L450.6 96.7L451.4 96.7L452.1 96.7L452.9 96.8L453.7 96.8L454.4 96.8L455.2 96.7L456 96.6L456.7 96.6L457.5 96.6L458.3 96.6L459 96.7L459 98L374.8 98Z" fill="#fff" stroke="none"/>
<path d="M374.8 97L375.6 96.9L376.4 96.8L377.1 96.6L377.9 96.6L378.7 96.5L379.4 96.6L380.2 96.6L381 96.7L381.7 96.7L382.5 96.7L383.3 96.7L384 96.6L384.8 96.5L385.6 96.5L386.3 96.5L387.1 96.5L387.8 96.5L388.6 96.4L389.4 96.3L390.1 96.2L390.9 96L391.7 95.8L392.4 95.6L393.2 95.4L394 95.2L394.7 95.1L395.5 94.9L396.3 94.6L397 94.3L397.8 93.9L398.6 93.6L399.3 93.4L400.1 93.4L400.9 93.5L401.6 93.8L402.4 94.2L403.2 94.6L403.9 94.9L404.7 95.2L405.5 95.3L406.2 95.5L407 95.6L407.8 95.7L408.5 95.8L409.3 95.9L410 95.9L410.8 95.7L411.6 95.4L412.3 94.8L413.1 94L413.9 93L414.6 92.1L415.4 91.4L416.2 91.5L416.9 92.2L417.7 93.3L418.5 94.2L419.2 94.9L420 95.3L420.8 95.5L421.5 95.7L422.3 95.8L423.1 95.9L423.8 96L424.6 96.1L425.4 96.1L426.1 96.1L426.9 96.1L427.7 96.1L428.4 96.1L429.2 96.1L429.9 96.1L430.7 96.2L431.5 96.2L432.2 96.1L433 95.9L433.8 95.7L434.5 95.4L435.3 95.1L436.1 94.8L436.8 94.5L437.6 94.3L438.4 94.3L439.1 94.3L439.9 94.5L440.7 94.6L441.4 94.9L442.2 95.1L443 95.4L443.7 95.7L444.5 96.1L445.3 96.4L446 96.6L446.8 96.8L447.6 96.9L448.3 96.9L449.1 96.8L449.9 96.8L450.6 96.7L451.4 96.7L452.1 96.7L452.9 96.8L453.7 96.8L454.4 96.8L455.2 96.7L456 96.6L456.7 96.6L457.5 96.6L458.3 96.6L459 96.7" fill="none" stroke="#666" stroke-width="0.62" stroke-linejoin="round"/>
<path d="M372.9 100.2L373.7 100.2L374.5 100.2L375.2 100.2L376 100.1L376.8 100L377.5 99.9L378.3 99.8L379.1 99.8L379.8 99.9L380.6 100L381.3 100.1L382.1 100.2L382.9 100.2L383.6 100.2L384.4 100.2L385.2 100.2L385.9 100.2L386.7 100.2L387.5 100.3L388.2 100.2L389 100.2L389.8 100L390.5 99.8L391.3 99.6L392.1 99.3L392.8 99L393.6 98.7L394.4 98.5L395.1 98.2L395.9 98L396.7 97.8L397.4 97.6L398.2 97.5L399 97.5L399.7 97.7L400.5 97.9L401.3 98.3L402 98.6L402.8 98.9L403.5 99.1L404.3 99.2L405.1 99.2L405.8 99.2L406.6 99.1L407.4 99L408.1 98.8L408.9 98.6L409.7 98.3L410.4 97.8L411.2 97L412 95.9L412.7 94.8L413.5 94L414.3 94.1L415 94.9L415.8 96.1L416.6 97.3L417.3 98.2L418.1 98.9L418.9 99.3L419.6 99.5L420.4 99.6L421.2 99.6L421.9 99.6L422.7 99.7L423.4 99.8L424.2 99.9L425 100L425.7 100L426.5 100L427.3 100L428 99.9L428.8 99.9L429.6 99.9L430.3 99.9L431.1 99.9L431.9 99.8L432.6 99.7L433.4 99.5L434.2 99.2L434.9 98.9L435.7 98.6L436.5 98.4L437.2 98.4L438 98.4L438.8 98.6L439.5 98.8L440.3 99L441.1 99.1L441.8 99.3L442.6 99.4L443.4 99.5L444.1 99.7L444.9 99.8L445.6 100L446.4 100.1L447.2 100.2L447.9 100.2L448.7 100.2L449.5 100.1L450.2 100L451 100L451.8 99.9L452.5 100L453.3 100L454.1 100L454.8 100L455.6 100L456.4 100L457.1 100L457.1 101.5L372.9 101.5Z" fill="#fff" stroke="none"/>
<path d="M372.9 100.2L373.7 100.2L374.5 100.2L375.2 100.2L376 100.1L376.8 100L377.5 99.9L378.3 99.8L379.1 99.8L379.8 99.9L380.6 100L381.3 100.1L382.1 100.2L382.9 100.2L383.6 100.2L384.4 100.2L385.2 100.2L385.9 100.2L386.7 100.2L387.5 100.3L388.2 100.2L389 100.2L389.8 100L390.5 99.8L391.3 99.6L392.1 99.3L392.8 99L393.6 98.7L394.4 98.5L395.1 98.2L395.9 98L396.7 97.8L397.4 97.6L398.2 97.5L399 97.5L399.7 97.7L400.5 97.9L401.3 98.3L402 98.6L402.8 98.9L403.5 99.1L404.3 99.2L405.1 99.2L405.8 99.2L406.6 99.1L407.4 99L408.1 98.8L408.9 98.6L409.7 98.3L410.4 97.8L411.2 97L412 95.9L412.7 94.8L413.5 94L414.3 94.1L415 94.9L415.8 96.1L416.6 97.3L417.3 98.2L418.1 98.9L418.9 99.3L419.6 99.5L420.4 99.6L421.2 99.6L421.9 99.6L422.7 99.7L423.4 99.8L424.2 99.9L425 100L425.7 100L426.5 100L427.3 100L428 99.9L428.8 99.9L429.6 99.9L430.3 99.9L431.1 99.9L431.9 99.8L432.6 99.7L433.4 99.5L434.2 99.2L434.9 98.9L435.7 98.6L436.5 98.4L437.2 98.4L438 98.4L438.8 98.6L439.5 98.8L440.3 99L441.1 99.1L441.8 99.3L442.6 99.4L443.4 99.5L444.1 99.7L444.9 99.8L445.6 100L446.4 100.1L447.2 100.2L447.9 100.2L448.7 100.2L449.5 100.1L450.2 100L451 100L451.8 99.9L452.5 100L453.3 100L454.1 100L454.8 100L455.6 100L456.4 100L457.1 100" fill="none" stroke="#666" stroke-width="0.62" stroke-linejoin="round"/>
<path d="M371 104.2L371.8 104.1L372.6 104.2L373.3 104.2L374.1 104.2L374.8 104.2L375.6 104.1L376.4 104L377.1 103.8L377.9 103.7L378.7 103.6L379.4 103.6L380.2 103.7L381 103.7L381.7 103.8L382.5 103.8L383.3 103.8L384 103.8L384.8 103.7L385.6 103.7L386.3 103.7L387.1 103.7L387.9 103.8L388.6 103.8L389.4 103.8L390.2 103.7L390.9 103.7L391.7 103.5L392.5 103.4L393.2 103.4L394 103.4L394.8 103.4L395.5 103.5L396.3 103.6L397 103.7L397.8 103.7L398.6 103.7L399.3 103.7L400.1 103.7L400.9 103.7L401.6 103.8L402.4 103.8L403.2 103.8L403.9 103.8L404.7 103.6L405.5 103.4L406.2 103.1L407 102.6L407.8 102L408.5 101.1L409.3 100L410.1 98.7L410.8 97.2L411.6 96.2L412.4 96.2L413.1 97.2L413.9 98.7L414.7 100.1L415.4 101.2L416.2 102.1L416.9 102.7L417.7 103.1L418.5 103.4L419.2 103.5L420 103.5L420.8 103.4L421.5 103.3L422.3 103.3L423.1 103.3L423.8 103.3L424.6 103.4L425.4 103.4L426.1 103.5L426.9 103.5L427.7 103.5L428.4 103.5L429.2 103.5L430 103.5L430.7 103.6L431.5 103.8L432.3 103.9L433 103.9L433.8 103.9L434.6 103.9L435.3 103.8L436.1 103.7L436.9 103.7L437.6 103.7L438.4 103.8L439.1 103.8L439.9 103.9L440.7 103.9L441.4 103.9L442.2 103.9L443 103.9L443.7 103.9L444.5 104L445.3 104.1L446 104.2L446.8 104.3L447.6 104.3L448.3 104.3L449.1 104.3L449.9 104.2L450.6 104.1L451.4 104L452.2 104L452.9 103.9L453.7 103.9L454.5 103.9L455.2 103.9L455.2 105L371 105Z" fill="#fff" stroke="none"/>
<path d="M371 104.2L371.8 104.1L372.6 104.2L373.3 104.2L374.1 104.2L374.8 104.2L375.6 104.1L376.4 104L377.1 103.8L377.9 103.7L378.7 103.6L379.4 103.6L380.2 103.7L381 103.7L381.7 103.8L382.5 103.8L383.3 103.8L384 103.8L384.8 103.7L385.6 103.7L386.3 103.7L387.1 103.7L387.9 103.8L388.6 103.8L389.4 103.8L390.2 103.7L390.9 103.7L391.7 103.5L392.5 103.4L393.2 103.4L394 103.4L394.8 103.4L395.5 103.5L396.3 103.6L397 103.7L397.8 103.7L398.6 103.7L399.3 103.7L400.1 103.7L400.9 103.7L401.6 103.8L402.4 103.8L403.2 103.8L403.9 103.8L404.7 103.6L405.5 103.4L406.2 103.1L407 102.6L407.8 102L408.5 101.1L409.3 100L410.1 98.7L410.8 97.2L411.6 96.2L412.4 96.2L413.1 97.2L413.9 98.7L414.7 100.1L415.4 101.2L416.2 102.1L416.9 102.7L417.7 103.1L418.5 103.4L419.2 103.5L420 103.5L420.8 103.4L421.5 103.3L422.3 103.3L423.1 103.3L423.8 103.3L424.6 103.4L425.4 103.4L426.1 103.5L426.9 103.5L427.7 103.5L428.4 103.5L429.2 103.5L430 103.5L430.7 103.6L431.5 103.8L432.3 103.9L433 103.9L433.8 103.9L434.6 103.9L435.3 103.8L436.1 103.7L436.9 103.7L437.6 103.7L438.4 103.8L439.1 103.8L439.9 103.9L440.7 103.9L441.4 103.9L442.2 103.9L443 103.9L443.7 103.9L444.5 104L445.3 104.1L446 104.2L446.8 104.3L447.6 104.3L448.3 104.3L449.1 104.3L449.9 104.2L450.6 104.1L451.4 104L452.2 104L452.9 103.9L453.7 103.9L454.5 103.9L455.2 103.9" fill="none" stroke="#666" stroke-width="0.62" stroke-linejoin="round"/>
<path d="M369.1 107.4L369.9 107.4L370.6 107.4L371.4 107.4L372.2 107.4L372.9 107.4L373.7 107.5L374.5 107.5L375.2 107.6L376 107.5L376.8 107.5L377.5 107.4L378.3 107.3L379.1 107.3L379.8 107.3L380.6 107.4L381.4 107.5L382.1 107.6L382.9 107.6L383.7 107.6L384.4 107.6L385.2 107.6L386 107.6L386.7 107.6L387.5 107.6L388.3 107.6L389 107.6L389.8 107.6L390.5 107.5L391.3 107.4L392.1 107.3L392.8 107.1L393.6 107L394.4 107L395.1 107L395.9 107L396.7 107L397.4 107L398.2 107L399 107L399.7 106.9L400.5 106.8L401.3 106.8L402 106.8L402.8 106.7L403.6 106.6L404.3 106.4L405.1 106L405.9 105.4L406.6 104.4L407.4 103.2L408.2 101.7L408.9 100.2L409.7 99.3L410.4 99.4L411.2 100.5L412 102L412.7 103.5L413.5 104.6L414.3 105.5L415 106.1L415.8 106.5L416.6 106.8L417.3 107.1L418.1 107.3L418.9 107.4L419.6 107.5L420.4 107.4L421.2 107.4L421.9 107.3L422.7 107.3L423.5 107.3L424.2 107.3L425 107.3L425.8 107.4L426.5 107.4L427.3 107.4L428.1 107.3L428.8 107.3L429.6 107.3L430.4 107.3L431.1 107.4L431.9 107.5L432.6 107.5L433.4 107.5L434.2 107.5L434.9 107.4L435.7 107.3L436.5 107.2L437.2 107.1L438 107.1L438.8 107L439.5 107.1L440.3 107.1L441.1 107.1L441.8 107.1L442.6 107L443.4 107L444.1 107L444.9 107.1L445.7 107.2L446.4 107.3L447.2 107.4L448 107.5L448.7 107.5L449.5 107.5L450.3 107.4L451 107.4L451.8 107.4L452.5 107.4L453.3 107.4L453.3 108.5L369.1 108.5Z" fill="#fff" stroke="none"/>
<path d="M369.1 107.4L369.9 107.4L370.6 107.4L371.4 107.4L372.2 107.4L372.9 107.4L373.7 107.5L374.5 107.5L375.2 107.6L376 107.5L376.8 107.5L377.5 107.4L378.3 107.3L379.1 107.3L379.8 107.3L380.6 107.4L381.4 107.5L382.1 107.6L382.9 107.6L383.7 107.6L384.4 107.6L385.2 107.6L386 107.6L386.7 107.6L387.5 107.6L388.3 107.6L389 107.6L389.8 107.6L390.5 107.5L391.3 107.4L392.1 107.3L392.8 107.1L393.6 107L394.4 107L395.1 107L395.9 107L396.7 107L397.4 107L398.2 107L399 107L399.7 106.9L400.5 106.8L401.3 106.8L402 106.8L402.8 106.7L403.6 106.6L404.3 106.4L405.1 106L405.9 105.4L406.6 104.4L407.4 103.2L408.2 101.7L408.9 100.2L409.7 99.3L410.4 99.4L411.2 100.5L412 102L412.7 103.5L413.5 104.6L414.3 105.5L415 106.1L415.8 106.5L416.6 106.8L417.3 107.1L418.1 107.3L418.9 107.4L419.6 107.5L420.4 107.4L421.2 107.4L421.9 107.3L422.7 107.3L423.5 107.3L424.2 107.3L425 107.3L425.8 107.4L426.5 107.4L427.3 107.4L428.1 107.3L428.8 107.3L429.6 107.3L430.4 107.3L431.1 107.4L431.9 107.5L432.6 107.5L433.4 107.5L434.2 107.5L434.9 107.4L435.7 107.3L436.5 107.2L437.2 107.1L438 107.1L438.8 107L439.5 107.1L440.3 107.1L441.1 107.1L441.8 107.1L442.6 107L443.4 107L444.1 107L444.9 107.1L445.7 107.2L446.4 107.3L447.2 107.4L448 107.5L448.7 107.5L449.5 107.5L450.3 107.4L451 107.4L451.8 107.4L452.5 107.4L453.3 107.4" fill="none" stroke="#666" stroke-width="0.62" stroke-linejoin="round"/>
<path d="M367.2 110.8L368 110.9L368.7 111L369.5 111L370.3 111.1L371 111.1L371.8 111.1L372.6 111.1L373.3 111.1L374.1 111.2L374.9 111.2L375.6 111.2L376.4 111.2L377.2 111.1L377.9 111L378.7 110.9L379.5 110.8L380.2 110.8L381 110.9L381.8 110.9L382.5 111L383.3 111L384 111L384.8 111L385.6 110.9L386.3 110.9L387.1 110.9L387.9 110.9L388.6 110.9L389.4 110.9L390.2 110.9L390.9 110.8L391.7 110.7L392.5 110.6L393.2 110.4L394 110.3L394.8 110.3L395.5 110.3L396.3 110.3L397.1 110.4L397.8 110.4L398.6 110.3L399.4 110.3L400.1 110.2L400.9 110.1L401.7 110L402.4 109.8L403.2 109.6L403.9 109.1L404.7 108.3L405.5 107.1L406.2 105.6L407 104.1L407.8 103L408.5 102.9L409.3 104L410.1 105.5L410.8 107L411.6 108.2L412.4 109.1L413.1 109.7L413.9 110.1L414.7 110.3L415.4 110.4L416.2 110.6L417 110.8L417.7 110.9L418.5 111L419.3 111.1L420 111.1L420.8 111L421.6 110.9L422.3 110.8L423.1 110.7L423.9 110.7L424.6 110.7L425.4 110.7L426.1 110.7L426.9 110.7L427.7 110.7L428.4 110.7L429.2 110.6L430 110.6L430.7 110.6L431.5 110.7L432.3 110.8L433 110.9L433.8 110.9L434.6 110.9L435.3 110.8L436.1 110.7L436.9 110.6L437.6 110.6L438.4 110.5L439.2 110.6L439.9 110.6L440.7 110.6L441.5 110.7L442.2 110.7L443 110.6L443.8 110.6L444.5 110.7L445.3 110.7L446 110.9L446.8 111L447.6 111.1L448.3 111.2L449.1 111.2L449.9 111.2L450.6 111.1L451.4 111.1L451.4 112L367.2 112Z" fill="#fff" stroke="none"/>
<path d="M367.2 110.8L368 110.9L368.7 111L369.5 111L370.3 111.1L371 111.1L371.8 111.1L372.6 111.1L373.3 111.1L374.1 111.2L374.9 111.2L375.6 111.2L376.4 111.2L377.2 111.1L377.9 111L378.7 110.9L379.5 110.8L380.2 110.8L381 110.9L381.8 110.9L382.5 111L383.3 111L384 111L384.8 111L385.6 110.9L386.3 110.9L387.1 110.9L387.9 110.9L388.6 110.9L389.4 110.9L390.2 110.9L390.9 110.8L391.7 110.7L392.5 110.6L393.2 110.4L394 110.3L394.8 110.3L395.5 110.3L396.3 110.3L397.1 110.4L397.8 110.4L398.6 110.3L399.4 110.3L400.1 110.2L400.9 110.1L401.7 110L402.4 109.8L403.2 109.6L403.9 109.1L404.7 108.3L405.5 107.1L406.2 105.6L407 104.1L407.8 103L408.5 102.9L409.3 104L410.1 105.5L410.8 107L411.6 108.2L412.4 109.1L413.1 109.7L413.9 110.1L414.7 110.3L415.4 110.4L416.2 110.6L417 110.8L417.7 110.9L418.5 111L419.3 111.1L420 111.1L420.8 111L421.6 110.9L422.3 110.8L423.1 110.7L423.9 110.7L424.6 110.7L425.4 110.7L426.1 110.7L426.9 110.7L427.7 110.7L428.4 110.7L429.2 110.6L430 110.6L430.7 110.6L431.5 110.7L432.3 110.8L433 110.9L433.8 110.9L434.6 110.9L435.3 110.8L436.1 110.7L436.9 110.6L437.6 110.6L438.4 110.5L439.2 110.6L439.9 110.6L440.7 110.6L441.5 110.7L442.2 110.7L443 110.6L443.8 110.6L444.5 110.7L445.3 110.7L446 110.9L446.8 111L447.6 111.1L448.3 111.2L449.1 111.2L449.9 111.2L450.6 111.1L451.4 111.1" fill="none" stroke="#666" stroke-width="0.62" stroke-linejoin="round"/>
<path d="M365.3 113.9L366.1 113.9L366.8 114L367.6 114.1L368.4 114.2L369.1 114.3L369.9 114.4L370.7 114.4L371.4 114.4L372.2 114.4L373 114.4L373.7 114.5L374.5 114.5L375.3 114.6L376 114.6L376.8 114.6L377.5 114.5L378.3 114.4L379.1 114.3L379.8 114.3L380.6 114.3L381.4 114.4L382.1 114.4L382.9 114.5L383.7 114.6L384.4 114.6L385.2 114.6L386 114.5L386.7 114.5L387.5 114.5L388.3 114.5L389 114.6L389.8 114.6L390.6 114.5L391.3 114.5L392.1 114.3L392.9 114.2L393.6 114L394.4 113.9L395.2 113.8L395.9 113.8L396.7 113.8L397.4 113.8L398.2 113.7L399 113.6L399.7 113.4L400.5 113.2L401.3 112.8L402 112.3L402.8 111.5L403.6 110.4L404.3 109.1L405.1 107.6L405.9 106.6L406.6 106.5L407.4 107.4L408.2 108.8L408.9 110.2L409.7 111.4L410.5 112.2L411.2 112.9L412 113.3L412.8 113.6L413.5 113.8L414.3 113.9L415.1 114L415.8 114.1L416.6 114.2L417.4 114.3L418.1 114.5L418.9 114.6L419.6 114.7L420.4 114.7L421.2 114.6L421.9 114.5L422.7 114.4L423.5 114.4L424.2 114.3L425 114.3L425.8 114.4L426.5 114.4L427.3 114.4L428.1 114.4L428.8 114.3L429.6 114.3L430.4 114.3L431.1 114.3L431.9 114.4L432.7 114.4L433.4 114.5L434.2 114.5L435 114.5L435.7 114.4L436.5 114.3L437.3 114.2L438 114.1L438.8 114.1L439.5 114.1L440.3 114.1L441.1 114.1L441.8 114.1L442.6 114.1L443.4 114L444.1 114L444.9 114L445.7 114.1L446.4 114.2L447.2 114.3L448 114.5L448.7 114.5L449.5 114.6L449.5 115.5L365.3 115.5Z" fill="#fff" stroke="none"/>
<path d="M365.3 113.9L366.1 113.9L366.8 114L367.6 114.1L368.4 114.2L369.1 114.3L369.9 114.4L370.7 114.4L371.4 114.4L372.2 114.4L373 114.4L373.7 114.5L374.5 114.5L375.3 114.6L376 114.6L376.8 114.6L377.5 114.5L378.3 114.4L379.1 114.3L379.8 114.3L380.6 114.3L381.4 114.4L382.1 114.4L382.9 114.5L383.7 114.6L384.4 114.6L385.2 114.6L386 114.5L386.7 114.5L387.5 114.5L388.3 114.5L389 114.6L389.8 114.6L390.6 114.5L391.3 114.5L392.1 114.3L392.9 114.2L393.6 114L394.4 113.9L395.2 113.8L395.9 113.8L396.7 113.8L397.4 113.8L398.2 113.7L399 113.6L399.7 113.4L400.5 113.2L401.3 112.8L402 112.3L402.8 111.5L403.6 110.4L404.3 109.1L405.1 107.6L405.9 106.6L406.6 106.5L407.4 107.4L408.2 108.8L408.9 110.2L409.7 111.4L410.5 112.2L411.2 112.9L412 113.3L412.8 113.6L413.5 113.8L414.3 113.9L415.1 114L415.8 114.1L416.6 114.2L417.4 114.3L418.1 114.5L418.9 114.6L419.6 114.7L420.4 114.7L421.2 114.6L421.9 114.5L422.7 114.4L423.5 114.4L424.2 114.3L425 114.3L425.8 114.4L426.5 114.4L427.3 114.4L428.1 114.4L428.8 114.3L429.6 114.3L430.4 114.3L431.1 114.3L431.9 114.4L432.7 114.4L433.4 114.5L434.2 114.5L435 114.5L435.7 114.4L436.5 114.3L437.3 114.2L438 114.1L438.8 114.1L439.5 114.1L440.3 114.1L441.1 114.1L441.8 114.1L442.6 114.1L443.4 114L444.1 114L444.9 114L445.7 114.1L446.4 114.2L447.2 114.3L448 114.5L448.7 114.5L449.5 114.6" fill="none" stroke="#666" stroke-width="0.62" stroke-linejoin="round"/>
<path d="M365.3 115.3h84.2" stroke="#444" stroke-width="0.6" fill="none"/>
<text x="58.8" y="121.3" font-size="4.6" text-anchor="middle" fill="#333" >12</text>
<text x="99.2" y="121.3" font-size="4.6" text-anchor="middle" fill="#333" >16</text>
<text x="149.5" y="121.3" font-size="4.6" text-anchor="middle" fill="#333" >20</text>
<text x="191.4" y="121.3" font-size="4.6" text-anchor="middle" fill="#333" >24</text>
<text x="259" y="121.3" font-size="4.6" text-anchor="middle" fill="#333" >32</text>
<text x="301" y="121.3" font-size="4.6" text-anchor="middle" fill="#333" >36</text>
<text x="375" y="121.3" font-size="4.6" text-anchor="middle" fill="#333" >48</text>
<text x="417" y="121.3" font-size="4.6" text-anchor="middle" fill="#333" >52</text>
<path d="M59.4 115.2v1.4M99.4 115.2v1.4M149.8 115.2v1.4M191.8 115.2v1.4M259 115.2v1.4M301 115.2v1.4M374.8 115.2v1.4M416.8 115.2v1.4" stroke="#555" stroke-width="0.5" fill="none"/>
<text x="479.7" y="70.7" font-size="5.2" text-anchor="middle" fill="#222" >900</text>
<text x="474.8" y="78.1" font-size="5.2" text-anchor="middle" fill="#222" >800</text>
<text x="471" y="85.8" font-size="5.2" text-anchor="middle" fill="#222" >700</text>
<text x="466.6" y="93.3" font-size="5.2" text-anchor="middle" fill="#222" >600</text>
<text x="463" y="100.8" font-size="5.2" text-anchor="middle" fill="#222" >500</text>
<text x="460" y="109.8" font-size="5.2" text-anchor="middle" fill="#222" >400</text>
<text x="457" y="113" font-size="5.2" text-anchor="middle" fill="#222" >300</text>
<text x="454" y="117.2" font-size="5.2" text-anchor="middle" fill="#222" >25</text>
<text transform="translate(483.4,88.2) rotate(-64.5)" font-size="6.8" text-anchor="middle" fill="#111">Temperature</text>
<path d="M509.4 114.5L532 63.2" stroke="#555" stroke-width="0.7" fill="none"/>
<path d="M509.4 114.5H577.4L601 63.2" stroke="#888" stroke-width="0.6" fill="none"/>
<path d="M532 63.2H601" stroke="#e89aa0" stroke-width="0.7" fill="none"/>
<path d="M520.8 111.3C525 105 529 99 533 94.3S541 85 545.3 82S556 79.5 562 78.3S578 76.5 583 74.5S590 70 592.5 66L594 63.5" stroke="#666" stroke-width="0.7" fill="none"/>
<path d="M537.7 111.3C538.5 108 539.5 105.5 540.6 102.8S543 94.5 545 90.5S551 83.5 554.7 81S562.5 78 565 76.4S567 74 566 72.6S563.5 70.5 564 69S565 65 565 63.6" stroke="#e89098" stroke-width="0.7" fill="none"/>
<text x="566" y="61.3" font-size="3.4" text-anchor="middle" fill="#e8a0a8" >Heat Flow (W g⁻¹)</text>
<text x="540" y="121" font-size="3.2" text-anchor="middle" fill="#aaa" >Mass (%)</text>
<text x="513" y="117.6" font-size="2.6" text-anchor="middle" fill="#999" >100</text>
<text x="528" y="117.6" font-size="2.6" text-anchor="middle" fill="#999" >98</text>
<text x="542" y="117.6" font-size="2.6" text-anchor="middle" fill="#999" >96</text>
<text x="556" y="117.6" font-size="2.6" text-anchor="middle" fill="#999" >94</text>
<text x="569" y="117.6" font-size="2.6" text-anchor="middle" fill="#999" >92</text>
<text x="604" y="64.5" font-size="2.6" text-anchor="start" fill="#999" >900</text>
<text x="598" y="73" font-size="2.6" text-anchor="start" fill="#999" >800</text>
<text x="592" y="82" font-size="2.6" text-anchor="start" fill="#999" >700</text>
<text x="591" y="90" font-size="2.6" text-anchor="start" fill="#999" >600</text>
<text x="587" y="97" font-size="2.6" text-anchor="start" fill="#999" >500</text>
<text x="584" y="105" font-size="2.6" text-anchor="start" fill="#999" >400</text>
<text x="580" y="113" font-size="2.6" text-anchor="start" fill="#999" >100</text>
<path d="M599.5 97L607.5 78" stroke="#999" stroke-width="0.6" fill="none"/>
<path d="M56.5 67.7H601" stroke="#c050c0" stroke-width="0.9" stroke-dasharray="1.4 0.9" fill="none" opacity="0.8"/>
<path d="M49.5 79.1H594.5" stroke="#c050c0" stroke-width="0.9" stroke-dasharray="1.4 0.9" fill="none" opacity="0.8"/>
<path d="M40.7 103.8H583" stroke="#c050c0" stroke-width="0.9" stroke-dasharray="1.4 0.9" fill="none" opacity="0.8"/>
<text x="240" y="128.6" font-size="8.4" text-anchor="middle" fill="#111" >Angle (2θ)</text>
<text x="5.2" y="185.8" font-size="16.6" text-anchor="start" fill="#111" >(b)</text>
<text x="59.5" y="137.7" font-size="8.3" text-anchor="middle" fill="#111" stroke="#111" stroke-width="0.18">(VO)<tspan font-size="5.1" dy="1.8">2</tspan><tspan dy="-1.8">P</tspan><tspan font-size="5.1" dy="1.8">2</tspan><tspan dy="-1.8">O</tspan><tspan font-size="5.1" dy="1.8">7</tspan></text>
<text x="59.5" y="148.9" font-size="8.3" text-anchor="middle" fill="#111" stroke="#111" stroke-width="0.18">(113)</text>
<text x="189.3" y="137.7" font-size="8.3" text-anchor="middle" fill="#111" stroke="#111" stroke-width="0.18">Na<tspan font-size="5.1" dy="1.8">3</tspan><tspan dy="-1.8">V</tspan><tspan font-size="5.1" dy="1.8">2</tspan><tspan dy="-1.8">(PO</tspan><tspan font-size="5.1" dy="1.8">4</tspan><tspan dy="-1.8">)</tspan><tspan font-size="5.1" dy="1.8">3</tspan></text>
<text x="189.3" y="148.9" font-size="8.3" text-anchor="middle" fill="#111" stroke="#111" stroke-width="0.18">(113)</text>
<text x="264.3" y="137.7" font-size="8.3" text-anchor="middle" fill="#111" stroke="#111" stroke-width="0.18">Na<tspan font-size="5.1" dy="1.8">3</tspan><tspan dy="-1.8">V</tspan><tspan font-size="5.1" dy="1.8">2</tspan><tspan dy="-1.8">(PO</tspan><tspan font-size="5.1" dy="1.8">4</tspan><tspan dy="-1.8">)</tspan><tspan font-size="5.1" dy="1.8">3</tspan></text>
<text x="264.3" y="148.9" font-size="8.3" text-anchor="middle" fill="#111" stroke="#111" stroke-width="0.18">(116)</text>
<text x="316.3" y="137.7" font-size="8.3" text-anchor="middle" fill="#111" stroke="#111" stroke-width="0.18">Na<tspan font-size="5.1" dy="1.8">4</tspan><tspan dy="-1.8">P</tspan><tspan font-size="5.1" dy="1.8">2</tspan><tspan dy="-1.8">O</tspan><tspan font-size="5.1" dy="1.8">7</tspan></text>
<text x="316.3" y="148.9" font-size="8.3" text-anchor="middle" fill="#111" stroke="#111" stroke-width="0.18">(005)</text>
<text x="384.6" y="137.7" font-size="8.3" text-anchor="middle" fill="#111" stroke="#111" stroke-width="0.18">Na<tspan font-size="5.1" dy="1.8">3</tspan><tspan dy="-1.8">V</tspan><tspan font-size="5.1" dy="1.8">2</tspan><tspan dy="-1.8">(PO</tspan><tspan font-size="5.1" dy="1.8">4</tspan><tspan dy="-1.8">)</tspan><tspan font-size="5.1" dy="1.8">3</tspan></text>
<text x="384.6" y="148.9" font-size="8.3" text-anchor="middle" fill="#111" stroke="#111" stroke-width="0.18">(226)</text>
<g clip-path="url(#hc0)"><g filter="url(#jet)">
<rect x="31.8" y="162.3" width="84.7" height="132.5" fill="#161616"/>
<g filter="url(#bl)"><ellipse cx="50" cy="206" rx="11" ry="15" fill="#262626"/><ellipse cx="101" cy="190" rx="10" ry="14" fill="#292929"/><ellipse cx="45" cy="262" rx="7" ry="10" fill="#242424"/><ellipse cx="62" cy="250" rx="5" ry="8" fill="#212121"/><ellipse cx="84" cy="238" rx="4" ry="14" fill="#1f1f1f"/><ellipse cx="47" cy="284" rx="5" ry="4" fill="#292929"/><ellipse cx="76" cy="223" rx="5" ry="5" fill="#2b2b2b"/><ellipse cx="106" cy="262" rx="4" ry="12" fill="#212121"/><ellipse cx="66" cy="178" rx="4" ry="8" fill="#212121"/><ellipse cx="88" cy="178" rx="5" ry="9" fill="#242424"/><ellipse cx="42" cy="178" rx="4" ry="8" fill="#212121"/><ellipse cx="70" cy="275" rx="8" ry="8" fill="#0a0a0a"/><ellipse cx="60" cy="228" rx="6" ry="6" fill="#0a0a0a"/><ellipse cx="85" cy="210" rx="4" ry="6" fill="#0a0a0a"/></g>
<path d="M56.5 166L56.77 169.3L57.05 172.6L57.32 175.9L57.6 179.2L58.9 186.7L59.31 190L59.93 193.3L60.89 196.5L61.46 198L62.85 199.8L63.15 199.8L64.54 198L64.76 196.5L64.9 193.3L64.71 190L64.3 186.7L63 179.2L62.73 175.9L62.45 172.6L62.18 169.3L61.9 166Z" fill="#292929"/>
<path d="M57.4 166L57.68 169.3L57.95 172.6L58.23 175.9L58.26 176.4L58.5 179.2L58.58 179.6L59.24 182.9L60.18 186.2L60.34 186.7L61.8 189.5L62.1 189.5L62.86 186.7L62.86 186.2L62.66 182.9L62.18 179.6L62.1 179.2L61.86 176.4L61.82 175.9L61.55 172.6L61.27 169.3L61 166Z" fill="#3d3d3d"/>
<path d="M58.1 166L58.38 169.3L58.65 172.6L59.15 175.9L60.15 179.2L60.45 179.2L60.9 175.9L60.85 172.6L60.58 169.3L60.3 166Z" fill="#4c4c4c"/>
<path d="M72.84 166L72.84 169.3L72.84 172.6L72.84 175.9L72.84 179.2L72.84 203.6L72.84 206.9L72.84 207.3L73.23 210.2L74.02 213.5L76.35 216.7L76.65 216.7L78.77 213.5L79.35 210.2L79.56 207.3L79.56 206.9L79.56 203.6L79.56 179.2L79.56 175.9L79.56 172.6L79.56 169.3L79.56 166Z" fill="#292929"/>
<path d="M73.66 166L73.66 169.3L73.66 172.6L73.66 175.9L73.66 179.2L73.66 199.5L73.66 202.7L73.85 206L74.02 207.3L74.43 209.3L76.22 212.6L76.52 212.6L78.09 209.3L78.38 207.3L78.55 206L78.74 202.7L78.74 199.5L78.74 179.2L78.74 175.9L78.74 172.6L78.74 169.3L78.74 166Z" fill="#454545"/>
<path d="M74.23 166L74.23 169.3L74.23 172.6L74.23 175.9L74.23 179.2L74.23 194.2L74.23 197.5L74.35 200.8L74.75 204.1L76.05 207.3L76.35 207.3L77.65 204.1L78.05 200.8L78.17 197.5L78.17 194.2L78.17 179.2L78.17 175.9L78.17 172.6L78.17 169.3L78.17 166Z" fill="#6e6e6e"/>
<path d="M74.64 166L74.64 169.3L74.64 172.6L74.64 175.9L74.64 179.2L74.64 189L74.64 192.3L74.7 195.6L75.02 198.9L76.05 202.2L76.35 202.2L77.38 198.9L77.7 195.6L77.76 192.3L77.76 189L77.76 179.2L77.76 175.9L77.76 172.6L77.76 169.3L77.76 166Z" fill="#a1a1a1"/>
<path d="M74.97 166L74.97 169.3L74.97 172.6L74.97 175.9L74.97 179.2L74.97 186.1L74.97 189.4L74.98 192.7L75.24 196L76.05 199.3L76.35 199.3L77.16 196L77.42 192.7L77.43 189.4L77.43 186.1L77.43 179.2L77.43 175.9L77.43 172.6L77.43 169.3L77.43 166Z" fill="#d1d1d1"/>
<path d="M75.26 166L75.26 169.3L75.26 172.6L75.26 175.9L75.26 179.2L75.26 183.9L75.26 187.2L75.26 190.4L75.43 193.7L76.05 197L76.35 197L76.97 193.7L77.14 190.4L77.14 187.2L77.14 183.9L77.14 179.2L77.14 175.9L77.14 172.6L77.14 169.3L77.14 166Z" fill="#ffffff"/>
<ellipse cx="96.9" cy="243" rx="6.6" ry="38" fill="#292929"/>
<ellipse cx="96.9" cy="244" rx="5.5" ry="34" fill="#454545"/>
<ellipse cx="96.9" cy="245" rx="4.3" ry="29" fill="#6e6e6e"/>
<ellipse cx="97" cy="249" rx="2.4" ry="17" fill="#7a7a7a"/>
<ellipse cx="97" cy="250" rx="1.4" ry="10" fill="#878787"/>
</g></g>
<g clip-path="url(#hc1)"><g filter="url(#jet)">
<rect x="144.2" y="162.3" width="84.7" height="132.5" fill="#121212"/>
<g filter="url(#bl)"><ellipse cx="170" cy="230" rx="8" ry="30" fill="#1b1b1b"/><ellipse cx="210" cy="215" rx="6" ry="24" fill="#1b1b1b"/><ellipse cx="220" cy="182" rx="2.6" ry="14" fill="#333333"/><ellipse cx="166" cy="185" rx="5" ry="14" fill="#1d1d1d"/><ellipse cx="176" cy="275" rx="3" ry="10" fill="#1f1f1f"/><ellipse cx="208" cy="270" rx="3" ry="12" fill="#1c1c1c"/><ellipse cx="188" cy="185" rx="7" ry="16" fill="#333333"/><ellipse cx="192" cy="205" rx="5" ry="10" fill="#2b2b2b"/></g>
<path d="M152.8 166L152.85 169.3L152.91 172.6L152.96 175.9L153.01 179.2L153.4 203.6L155.4 214.9L156.2 261.8L157.04 287.4L157.08 287.9L157.12 288.5L157.16 289L157.2 289.6L161.2 289.6L161.16 289L161.12 288.5L161.08 287.9L161.04 287.4L160.2 261.8L159.4 214.9L157.4 203.6L157.01 179.2L156.96 175.9L156.91 172.6L156.85 169.3L156.8 166Z" fill="#242424"/>
<path d="M152.5 166L152.53 167.9L152.56 169.8L152.59 171.7L152.62 173.5L153.1 203.6L154.43 211.1L154.77 213L155.26 214.9L155.76 216.7L157.31 218.6L157.61 218.6L159.1 216.7L159.54 214.9L159.37 213L159.03 211.1L157.7 203.6L157.22 173.5L157.19 171.7L157.16 169.8L157.13 167.9L157.1 166Z" fill="#454545"/>
<path d="M153.15 166L153.19 168.8L153.24 171.7L153.28 174.5L153.33 177.3L153.63 196.1L153.68 198.9L153.79 201.7L154.02 203.6L154.33 204.5L155.92 207.3L156.22 207.3L156.81 204.5L156.78 203.6L156.95 201.7L156.98 198.9L156.93 196.1L156.63 177.3L156.59 174.5L156.54 171.7L156.5 168.8L156.45 166Z" fill="#6e6e6e"/>
<path d="M158.27 275.7L157.12 277.3L156.79 278.8L156.74 280.3L156.78 280.8L157.24 287.4L157.28 287.9L157.32 288.5L157.36 289L157.4 289.6L161 289.6L160.96 289L160.92 288.5L160.88 287.9L160.84 287.4L160.38 280.8L160.34 280.3L160.21 278.8L159.8 277.3L158.57 275.7Z" fill="#454545"/>
<path d="M158.43 280.8L157.64 281.4L157.42 281.9L157.44 282.5L157.48 283L157.79 287.4L157.83 287.9L157.87 288.5L157.91 289L157.95 289.6L160.45 289.6L160.41 289L160.37 288.5L160.33 287.9L160.29 287.4L159.98 283L159.94 282.5L159.89 281.9L159.59 281.4L158.73 280.8Z" fill="#6e6e6e"/>
<path d="M184.62 166L184.62 169.3L184.62 172.6L184.62 175.9L184.62 179.2L184.62 211.1L184.62 214.4L184.62 214.9L184.78 217.7L185.31 221L187.33 224.2L187.63 224.2L189.95 221L190.77 217.7L191.18 214.9L191.18 214.4L191.18 211.1L191.18 179.2L191.18 175.9L191.18 172.6L191.18 169.3L191.18 166Z" fill="#292929"/>
<path d="M185.42 166L185.42 169.3L185.42 172.6L185.42 175.9L185.42 179.2L185.42 203.6L185.42 206.9L185.6 210.2L186.11 213.5L186.47 214.9L187.67 216.7L187.97 216.7L189.33 214.9L189.69 213.5L190.2 210.2L190.38 206.9L190.38 203.6L190.38 179.2L190.38 175.9L190.38 172.6L190.38 169.3L190.38 166Z" fill="#454545"/>
<path d="M185.98 166L185.98 169.3L185.98 172.6L185.98 175.9L185.98 179.2L185.98 197L185.98 200.3L186.09 203.6L186.48 206.9L187.75 210.2L188.05 210.2L189.32 206.9L189.71 203.6L189.82 200.3L189.82 197L189.82 179.2L189.82 175.9L189.82 172.6L189.82 169.3L189.82 166Z" fill="#6e6e6e"/>
<path d="M186.38 166L186.38 169.3L186.38 172.6L186.38 175.9L186.38 179.2L186.38 192.3L186.38 195.6L186.43 198.9L186.74 202.2L187.75 205.5L188.05 205.5L189.06 202.2L189.37 198.9L189.42 195.6L189.42 192.3L189.42 179.2L189.42 175.9L189.42 172.6L189.42 169.3L189.42 166Z" fill="#a1a1a1"/>
<path d="M186.7 166L186.7 169.3L186.7 172.6L186.7 175.9L186.7 179.2L186.7 189.9L186.7 193.2L186.71 196.5L186.96 199.7L187.75 203L188.05 203L188.84 199.7L189.09 196.5L189.1 193.2L189.1 189.9L189.1 179.2L189.1 175.9L189.1 172.6L189.1 169.3L189.1 166Z" fill="#d1d1d1"/>
<path d="M186.98 166L186.98 169.3L186.98 172.6L186.98 175.9L186.98 179.2L186.98 187.6L186.98 190.9L186.98 194.2L187.14 197.5L187.75 200.8L188.05 200.8L188.66 197.5L188.82 194.2L188.82 190.9L188.82 187.6L188.82 179.2L188.82 175.9L188.82 172.6L188.82 169.3L188.82 166Z" fill="#ffffff"/>
<path d="M184.35 226.1L182.88 229.4L182.13 232.7L181.65 236L181.24 239.3L181 241.2L180.7 280.2L180.62 287.4L180.62 287.9L180.61 288.5L180.61 289L180.6 289.6L183.8 289.6L183.81 289L183.81 288.5L183.82 287.9L183.82 287.4L183.9 280.2L184.2 241.2L184.44 239.3L184.85 236L185.2 232.7L185.29 229.4L184.65 226.1Z" fill="#292929"/>
<path d="M182.17 278.4L181.39 280L181.35 280.2L181.15 280.7L181.14 281.2L181.13 281.8L181.07 287.4L181.07 287.9L181.06 288.5L181.06 289L181.05 289.6L183.35 289.6L183.36 289L183.36 288.5L183.37 287.9L183.37 287.4L183.43 281.8L183.44 281.2L183.44 280.7L183.25 280.2L183.21 280L182.47 278.4Z" fill="#3b3b3b"/>
<path d="M200.05 196.1L198.35 199.4L197.71 202.7L197.37 205.9L197.2 209.2L196.9 214.9L196.6 271.2L196.6 287.4L196.6 287.9L196.6 288.5L196.6 289L196.6 289.6L201.2 289.6L201.2 289L201.2 288.5L201.2 287.9L201.2 287.4L201.2 271.2L201.5 214.9L201.8 209.2L201.97 205.9L201.99 202.7L201.7 199.4L200.35 196.1Z" fill="#292929"/>
<path d="M199.55 205.5L198.38 208.8L197.9 212L197.7 214.9L197.7 215.3L197.68 218.6L197.4 271.2L197.4 287.4L197.4 287.9L197.4 288.5L197.4 289L197.4 289.6L200.4 289.6L200.4 289L200.4 288.5L200.4 287.9L200.4 287.4L200.4 271.2L200.68 218.6L200.7 215.3L200.7 214.9L200.8 212L200.67 208.8L199.85 205.5Z" fill="#454545"/>
<path d="M198.79 263.7L197.75 267L197.41 270.3L197.35 271.2L197.35 272.3L197.35 273.9L197.35 287.4L197.35 287.9L197.35 288.5L197.35 289L197.35 289.6L200.45 289.6L200.45 289L200.45 288.5L200.45 287.9L200.45 287.4L200.45 273.9L200.45 272.3L200.45 271.2L200.4 270.3L200.1 267L199.09 263.7Z" fill="#6e6e6e"/>
<path d="M198.75 273L198.06 274.6L197.85 276.1L197.85 277.7L197.85 279.3L197.85 287.4L197.85 287.9L197.85 288.5L197.85 289L197.85 289.6L199.95 289.6L199.95 289L199.95 288.5L199.95 287.9L199.95 287.4L199.95 279.3L199.95 277.7L199.95 276.1L199.74 274.6L199.05 273Z" fill="#949494"/>
<path d="M217.47 218.6L216.3 221.9L215.95 225.2L215.87 228.5L215.89 231.8L216.2 280.2L216.2 287.4L216.2 287.9L216.2 288.5L216.2 289L216.2 289.6L219.8 289.6L219.8 289L219.8 288.5L219.8 287.9L219.8 287.4L219.8 280.2L219.49 231.8L219.47 228.5L219.36 225.2L218.98 221.9L217.77 218.6Z" fill="#262626"/>
<path d="M217.83 278.4L216.82 280L216.77 280.2L216.51 280.7L216.45 281.2L216.45 281.8L216.45 287.4L216.45 287.9L216.45 288.5L216.45 289L216.45 289.6L219.55 289.6L219.55 289L219.55 288.5L219.55 287.9L219.55 287.4L219.55 281.8L219.55 281.2L219.49 280.7L219.23 280.2L219.17 280L218.13 278.4Z" fill="#454545"/>
<path d="M217.85 281.8L217.16 282.3L216.95 282.9L216.95 283.4L216.95 284L216.95 287.4L216.95 287.9L216.95 288.5L216.95 289L216.95 289.6L219.05 289.6L219.05 289L219.05 288.5L219.05 287.9L219.05 287.4L219.05 284L219.05 283.4L219.05 282.9L218.84 282.3L218.15 281.8Z" fill="#6e6e6e"/>
</g></g>
<g clip-path="url(#hc2)"><g filter="url(#jet)">
<rect x="256.3" y="162.3" width="84.7" height="132.5" fill="#0e0e0e"/>
<g filter="url(#bl)"><ellipse cx="283" cy="230" rx="3" ry="20" fill="#141414"/><ellipse cx="312" cy="215" rx="5" ry="20" fill="#131313"/><ellipse cx="318" cy="255" rx="3" ry="10" fill="#141414"/></g>
<path d="M259.8 166L259.8 170.3L259.8 174.5L259.8 178.7L259.8 182.9L259.8 201.7L260.1 206.4L260.37 210.6L260.4 211.1L260.81 214.9L261.64 219.1L264.21 223.3L264.51 223.3L266.97 219.1L267.69 214.9L268 211.1L267.97 210.6L267.7 206.4L267.4 201.7L267.4 182.9L267.4 178.7L267.4 174.5L267.4 170.3L267.4 166Z" fill="#292929"/>
<path d="M260.3 166L260.3 170.3L260.3 174.5L260.3 178.7L260.3 182.9L260.3 201.7L260.57 205.9L261.13 210.2L261.31 211.1L261.91 214.4L264.15 218.6L264.45 218.6L266.58 214.4L267.09 211.1L267.15 210.2L267.17 205.9L266.9 201.7L266.9 182.9L266.9 178.7L266.9 174.5L266.9 170.3L266.9 166Z" fill="#454545"/>
<path d="M260.7 166L260.7 169.8L260.7 173.5L260.7 177.3L260.7 181.1L260.7 198.9L260.7 201.7L260.76 202.7L261.24 206.4L262.07 210.2L262.36 211.1L264.09 213.9L264.39 213.9L266.04 211.1L266.21 210.2L266.56 206.4L266.56 202.7L266.5 201.7L266.5 198.9L266.5 181.1L266.5 177.3L266.5 173.5L266.5 169.8L266.5 166Z" fill="#6e6e6e"/>
<path d="M261 166L261 168.8L261 171.7L261 174.5L261 177.3L261 197L261 199.8L261.09 201.7L261.26 202.7L261.97 205.5L263.87 208.3L264.17 208.3L265.71 205.5L266.06 202.7L266.11 201.7L266.2 199.8L266.2 197L266.2 177.3L266.2 174.5L266.2 171.7L266.2 168.8L266.2 166Z" fill="#a1a1a1"/>
<path d="M261.2 166L261.2 168.4L261.2 170.7L261.2 173.1L261.2 175.4L261.2 195.1L261.2 197.5L261.37 199.8L261.74 201.7L261.89 202.2L263.63 204.5L263.93 204.5L265.37 202.2L265.46 201.7L265.83 199.8L266 197.5L266 195.1L266 175.4L266 173.1L266 170.7L266 168.4L266 166Z" fill="#d1d1d1"/>
<path d="M261.4 166L261.4 167.9L261.4 169.8L261.4 171.7L261.4 173.5L261.4 194.6L261.4 196.5L261.54 198.3L261.99 200.2L262.76 201.7L263.47 202.1L263.77 202.1L264.44 201.7L265.21 200.2L265.66 198.3L265.8 196.5L265.8 194.6L265.8 173.5L265.8 171.7L265.8 169.8L265.8 167.9L265.8 166Z" fill="#ffffff"/>
<path d="M273.7 166L273.69 169.3L273.68 172.6L273.67 175.9L273.66 179.2L273.64 184.8L273.63 188.1L273.68 191.4L274 194.7L275.05 198L275.35 198L276.42 194.7L276.76 191.4L276.83 188.1L276.84 184.8L276.86 179.2L276.87 175.9L276.88 172.6L276.89 169.3L276.9 166Z" fill="#292929"/>
<path d="M274.3 166L274.29 169.3L274.28 172.6L274.27 175.4L274.27 175.9L274.26 178.7L274.26 179.2L274.25 182L274.43 185.3L275.08 188.6L275.38 188.6L276.05 185.3L276.25 182L276.26 179.2L276.26 178.7L276.27 175.9L276.27 175.4L276.28 172.6L276.29 169.3L276.3 166Z" fill="#3d3d3d"/>
<path d="M271.85 216.7L269.92 221.9L269.32 227.1L269.07 232.2L269.06 237.4L269.04 249.6L269.03 254.8L269.26 259.9L269.84 265.1L270.89 269.3L271.75 270.3L272.05 270.3L272.91 269.3L273.98 265.1L274.58 259.9L274.83 254.8L274.84 249.6L274.86 237.4L274.87 232.2L274.64 227.1L274.06 221.9L272.15 216.7Z" fill="#292929"/>
<path d="M271.84 220.9L270.38 225.6L269.92 230.3L269.76 235L269.75 239.6L269.74 247.2L269.73 251.9L269.87 256.6L270.31 261.2L271.76 265.9L272.06 265.9L273.52 261.2L273.98 256.6L274.13 251.9L274.14 247.2L274.15 239.6L274.16 235L274.03 230.3L273.59 225.6L272.14 220.9Z" fill="#454545"/>
<path d="M271.82 229.9L270.89 232.7L270.6 235.5L270.56 238.3L270.55 241.2L270.54 244.9L270.54 247.7L270.57 250.5L270.85 253.4L271.77 256.2L272.07 256.2L273.01 253.4L273.3 250.5L273.34 247.7L273.34 244.9L273.35 241.2L273.36 238.3L273.32 235.5L273.04 232.7L272.12 229.9Z" fill="#666666"/>
<path d="M296.8 166L296.76 169.3L296.71 172.6L296.67 175.9L296.62 179.2L296.4 196.1L293.6 222.4L292.6 267.4L293.4 280.2L294.32 287.4L294.39 287.9L294.46 288.5L294.53 289L294.6 289.6L300.2 289.6L300.13 289L300.06 288.5L299.99 287.9L299.92 287.4L299 280.2L298.2 267.4L299.2 222.4L302 196.1L302.23 179.2L302.27 175.9L302.31 172.6L302.36 169.3L302.4 166Z" fill="#292929"/>
<path d="M297.8 166L297.76 169.3L297.71 172.6L297.67 175.9L297.62 179.2L297.4 196.1L294.6 222.4L293.6 267.4L294.4 280.2L295.32 287.4L295.39 287.9L295.46 288.5L295.53 289L295.6 289.6L299.2 289.6L299.13 289L299.06 288.5L298.99 287.9L298.92 287.4L298 280.2L297.2 267.4L298.2 222.4L301 196.1L301.23 179.2L301.27 175.9L301.31 172.6L301.36 169.3L301.4 166Z" fill="#454545"/>
<path d="M297.5 166L297.47 168.4L297.44 170.7L297.41 173.1L297.38 175.4L297.12 194.2L297.1 196.1L297.05 196.5L296.93 198.9L297.11 201.2L298.25 203.6L298.55 203.6L300.19 201.2L300.87 198.9L301.25 196.5L301.3 196.1L301.32 194.2L301.58 175.4L301.61 173.1L301.64 170.7L301.67 168.4L301.7 166Z" fill="#6e6e6e"/>
<path d="M298.1 166L298.07 168.4L298.04 170.7L298.01 173.1L297.98 175.4L297.82 186.7L297.79 189L297.81 191.4L298.09 193.7L299.05 196.1L299.35 196.1L300.37 193.7L300.71 191.4L300.79 189L300.82 186.7L300.98 175.4L301.01 173.1L301.04 170.7L301.07 168.4L301.1 166Z" fill="#808080"/>
<path d="M295.25 267.4L293.8 269.3L293.39 271.2L293.3 272.1L293.37 273L293.9 280.2L294.94 288.3L294.98 288.6L295.02 289L295.06 289.3L295.1 289.6L299.7 289.6L299.66 289.3L299.62 289L299.58 288.6L299.54 288.3L298.5 280.2L297.97 273L297.9 272.1L297.68 271.2L297.14 269.3L295.55 267.4Z" fill="#6e6e6e"/>
<path d="M295.38 271.2L294.24 271.9L293.92 272.6L293.88 273.2L293.93 273.9L294.4 280.2L295.48 288.6L295.51 288.9L295.54 289.1L295.57 289.3L295.6 289.6L299.2 289.6L299.17 289.3L299.14 289.1L299.11 288.9L299.08 288.6L298 280.2L297.53 273.9L297.48 273.2L297.34 272.6L296.92 271.9L295.68 271.2Z" fill="#a1a1a1"/>
<path d="M295.46 272.3L294.58 272.8L294.33 273.4L294.34 274L294.38 274.5L294.8 280.2L295.9 288.8L295.93 289L295.95 289.2L295.98 289.4L296 289.6L298.8 289.6L298.77 289.4L298.75 289.2L298.72 289L298.7 288.8L297.6 280.2L297.18 274.5L297.14 274L297.06 273.4L296.73 272.8L295.76 272.3Z" fill="#d1d1d1"/>
<path d="M295.53 273.2L294.87 273.6L294.7 274.1L294.73 274.5L294.76 275L295.15 280.2L296.27 289L296.29 289.1L296.31 289.3L296.33 289.4L296.35 289.6L298.45 289.6L298.43 289.4L298.41 289.3L298.39 289.1L298.37 289L297.25 280.2L296.86 275L296.83 274.5L296.8 274.1L296.56 273.6L295.83 273.2Z" fill="#ffffff"/>
<path d="M287.35 272.1L286.36 273L286.05 273.9L286 274.8L286 275.7L286 288.3L286 288.6L286 289L286 289.3L286 289.6L289 289.6L289 289.3L289 289L289 288.6L289 288.3L289 275.7L289 274.8L288.95 273.9L288.64 273L287.65 272.1Z" fill="#292929"/>
<path d="M287.35 276.6L286.72 277.5L286.55 278.4L286.55 279.3L286.55 280.2L286.55 288.3L286.55 288.6L286.55 289L286.55 289.3L286.55 289.6L288.45 289.6L288.45 289.3L288.45 289L288.45 288.6L288.45 288.3L288.45 280.2L288.45 279.3L288.45 278.4L288.28 277.5L287.65 276.6Z" fill="#454545"/>
<path d="M325.26 226.1L323.84 233.2L323.42 240.2L323.31 247.3L323.34 254.3L323.4 267.4L324.4 273L326.2 280.2L327.1 284.9L327.32 286.1L327.55 287.2L327.77 288.4L328 289.6L332.4 289.6L332.17 288.4L331.95 287.2L331.72 286.1L331.5 284.9L330.6 280.2L328.8 273L327.8 267.4L327.74 254.3L327.71 247.3L327.53 240.2L327.05 233.2L325.56 226.1Z" fill="#212121"/>
<path d="M325.36 248.7L323.6 252.9L323.06 257.1L322.87 261.3L322.89 265.6L322.9 267.4L323.9 273L325.7 280.2L326.96 286.8L327.09 287.5L327.23 288.2L327.37 288.9L327.5 289.6L332.9 289.6L332.76 288.9L332.63 288.2L332.49 287.5L332.36 286.8L331.1 280.2L329.3 273L328.3 267.4L328.29 265.6L328.27 261.3L328.04 257.1L327.47 252.9L325.66 248.7Z" fill="#292929"/>
<path d="M325.41 258.1L323.9 260.9L323.44 263.7L323.3 266.5L323.3 267.4L323.55 269.3L324.3 273L326.1 280.2L327.54 287.7L327.63 288.2L327.72 288.6L327.81 289.1L327.9 289.6L332.5 289.6L332.41 289.1L332.32 288.6L332.23 288.2L332.14 287.7L330.7 280.2L328.9 273L328.15 269.3L327.9 267.4L327.9 266.5L327.72 263.7L327.24 260.9L325.71 258.1Z" fill="#454545"/>
<path d="M325.45 267.1L324.78 267.4L324.3 268.7L324.11 270.4L324.21 271.6L324.43 272.4L324.6 273L326.4 280.2L327.99 288.5L328.04 288.8L328.09 289L328.15 289.3L328.2 289.6L332.2 289.6L332.15 289.3L332.09 289L332.04 288.8L331.99 288.5L330.4 280.2L328.6 273L328.43 272.4L328.21 271.6L327.87 270.4L327.24 268.7L326.42 267.4L325.75 267.1Z" fill="#6e6e6e"/>
<path d="M325.9 270.8L324.95 271.6L324.78 272.3L324.88 272.9L324.9 273L325.04 273.5L326.7 280.2L328.33 288.7L328.37 288.9L328.42 289.1L328.46 289.4L328.5 289.6L331.9 289.6L331.86 289.4L331.82 289.1L331.77 288.9L331.73 288.7L330.1 280.2L328.44 273.5L328.3 273L328.28 272.9L328.02 272.3L327.5 271.6L326.2 270.8Z" fill="#a1a1a1"/>
<path d="M326.2 272.1L325.44 272.6L325.32 273L325.3 273.1L325.4 273.6L325.52 274.1L327.05 280.2L328.72 288.9L328.75 289.1L328.78 289.2L328.82 289.4L328.85 289.6L331.55 289.6L331.52 289.4L331.48 289.2L331.45 289.1L331.42 288.9L329.75 280.2L328.22 274.1L328.1 273.6L327.94 273.1L327.88 273L327.53 272.6L326.5 272.1Z" fill="#d1d1d1"/>
<path d="M326.45 273L325.86 273.4L325.75 273.8L325.85 274.2L325.95 274.6L327.35 280.2L329.04 289L329.07 289.2L329.1 289.3L329.12 289.4L329.15 289.6L331.25 289.6L331.22 289.4L331.2 289.3L331.17 289.2L331.14 289L329.45 280.2L328.06 274.6L327.95 274.2L327.85 273.8L327.55 273.4L326.75 273Z" fill="#ffffff"/>
</g></g>
<g clip-path="url(#hc3)"><g filter="url(#jet)">
<rect x="367.7" y="162.3" width="84.7" height="132.5" fill="#0e0e0e"/>
<g filter="url(#bl)"><ellipse cx="395" cy="240" rx="2.2" ry="17" fill="#2b2b2b"/><ellipse cx="428.5" cy="246" rx="3.2" ry="19" fill="#2b2b2b"/><ellipse cx="428.5" cy="248" rx="1.5" ry="9" fill="#383838"/><ellipse cx="379.5" cy="243.5" rx="2" ry="3" fill="#242424"/><ellipse cx="440" cy="275" rx="3" ry="8" fill="#1a1a1a"/><ellipse cx="394.6" cy="280" rx="1.6" ry="7" fill="#292929"/><ellipse cx="402" cy="190" rx="3" ry="14" fill="#1a1a1a"/><ellipse cx="444.5" cy="180" rx="2" ry="12" fill="#262626"/><ellipse cx="412" cy="200" rx="3" ry="14" fill="#171717"/></g>
<path d="M374.6 166L374.64 169.3L374.67 172.6L374.71 175.9L374.75 179.2L374.85 188.6L374.89 191.9L375.08 195.1L375.59 198.4L377.15 201.7L377.45 201.7L378.93 198.4L379.37 195.1L379.49 191.9L379.45 188.6L379.35 179.2L379.31 175.9L379.27 172.6L379.24 169.3L379.2 166Z" fill="#292929"/>
<path d="M375.35 166L375.39 169.3L375.42 172.6L375.46 175.9L375.5 179.2L375.51 180.1L375.54 183.4L375.64 186.7L375.99 190L377.06 193.3L377.36 193.3L378.34 190L378.62 186.7L378.64 183.4L378.61 180.1L378.6 179.2L378.56 175.9L378.52 172.6L378.49 169.3L378.45 166Z" fill="#454545"/>
<path d="M381.2 166L381.33 169.3L381.45 172.6L381.58 175.9L381.71 179.2L382.5 199.8L382.64 212L382.68 215.3L382.99 218.6L383.69 221.9L385.84 225.2L386.14 225.2L388.22 221.9L388.83 218.6L389.07 215.3L389.04 212L388.9 199.8L388.1 179.2L387.98 175.9L387.85 172.6L387.72 169.3L387.6 166Z" fill="#292929"/>
<path d="M381.98 166L382.11 169.3L382.23 172.6L382.36 175.9L382.49 179.2L383.28 199.8L383.35 205.5L383.38 208.8L383.6 212L384.13 215.3L385.76 218.6L386.06 218.6L387.63 215.3L388.08 212L388.22 208.8L388.18 205.5L388.12 199.8L387.32 179.2L387.2 175.9L387.07 172.6L386.94 169.3L386.82 166Z" fill="#454545"/>
<path d="M382.53 166L382.65 169.3L382.78 172.6L382.91 175.9L383.03 179.2L383.79 198.9L383.83 199.8L383.85 202.2L383.99 205.5L384.41 208.8L385.69 212L385.99 212L387.19 208.8L387.54 205.5L387.6 202.2L387.57 199.8L387.54 198.9L386.78 179.2L386.65 175.9L386.52 172.6L386.4 169.3L386.27 166Z" fill="#6e6e6e"/>
<path d="M382.92 166L383.04 169.3L383.17 172.6L383.3 175.9L383.42 179.2L384 194.2L384.13 197.5L384.22 199.8L384.28 200.8L384.62 204.1L385.64 207.3L385.94 207.3L386.88 204.1L387.14 200.8L387.18 199.8L387.09 197.5L386.97 194.2L386.39 179.2L386.26 175.9L386.13 172.6L386.01 169.3L385.88 166Z" fill="#a1a1a1"/>
<path d="M383.23 166L383.36 169.3L383.48 172.6L383.61 175.9L383.74 179.2L384.22 191.8L384.35 195L384.48 198.3L384.63 199.8L384.8 201.6L385.61 204.9L385.91 204.9L386.64 201.6L386.77 199.8L386.81 198.3L386.69 195L386.56 191.8L386.08 179.2L385.95 175.9L385.82 172.6L385.7 169.3L385.57 166Z" fill="#d1d1d1"/>
<path d="M383.5 166L383.63 169.3L383.76 172.6L383.88 175.9L384.01 179.2L384.41 189.5L384.53 192.8L384.66 196.1L384.94 199.4L385 199.8L385.58 202.7L385.88 202.7L386.4 199.8L386.43 199.4L386.45 196.1L386.33 192.8L386.2 189.5L385.8 179.2L385.68 175.9L385.55 172.6L385.42 169.3L385.3 166Z" fill="#ffffff"/>
<path d="M391.5 166L391.49 171.2L391.48 176.4L391.47 181.5L391.46 186.7L391.45 191.4L391.44 196.5L391.58 201.7L392.04 206.9L393.55 212L393.85 212L395.38 206.9L395.87 201.7L396.04 196.5L396.05 191.4L396.06 186.7L396.07 181.5L396.08 176.4L396.09 171.2L396.1 166Z" fill="#292929"/>
<path d="M392.25 166L392.24 170.3L392.23 174.5L392.22 178.7L392.21 182.9L392.21 184.8L392.2 189L392.25 193.3L392.56 197.5L393.57 201.7L393.87 201.7L394.91 197.5L395.23 193.3L395.3 189L395.31 184.8L395.31 182.9L395.32 178.7L395.33 174.5L395.34 170.3L395.35 166Z" fill="#454545"/>
<path d="M416.5 166L416.52 169.3L416.54 172.6L416.55 175.9L416.57 179.2L416.74 212L416.76 215.3L417.05 218.6L417.72 221.9L418.66 224.2L419.85 225.2L420.15 225.2L421.34 224.2L422.25 221.9L422.89 218.6L423.15 215.3L423.14 212L422.97 179.2L422.95 175.9L422.93 172.6L422.91 169.3L422.9 166Z" fill="#292929"/>
<path d="M417.28 166L417.3 169.3L417.32 172.6L417.33 175.9L417.35 179.2L417.49 205.5L417.5 208.8L417.69 212L418.2 215.3L419.82 218.6L420.12 218.6L421.7 215.3L422.18 212L422.34 208.8L422.32 205.5L422.19 179.2L422.17 175.9L422.15 172.6L422.13 169.3L422.12 166Z" fill="#454545"/>
<path d="M417.83 166L417.84 169.3L417.86 172.6L417.88 175.9L417.9 179.2L418 199.5L418.02 202.7L418.13 206L418.53 209.3L419.79 212.6L420.09 212.6L421.31 209.3L421.68 206L421.76 202.7L421.74 199.5L421.64 179.2L421.62 175.9L421.61 172.6L421.59 169.3L421.57 166Z" fill="#6e6e6e"/>
<path d="M418.22 166L418.23 169.3L418.25 172.6L418.27 175.9L418.29 179.2L418.35 191.9L418.37 195.2L418.43 198.5L418.75 201.8L419.75 205.1L420.05 205.1L421.01 201.8L421.3 198.5L421.33 195.2L421.32 191.9L421.25 179.2L421.23 175.9L421.22 172.6L421.2 169.3L421.18 166Z" fill="#a1a1a1"/>
<path d="M418.53 166L418.55 169.3L418.56 172.6L418.58 175.9L418.6 179.2L418.64 186.7L418.65 190L418.68 193.3L418.93 196.5L419.72 199.8L420.02 199.8L420.78 196.5L421 193.3L420.99 190L420.98 186.7L420.94 179.2L420.92 175.9L420.9 172.6L420.89 169.3L420.87 166Z" fill="#d1d1d1"/>
<path d="M418.8 166L418.82 169.3L418.84 172.6L418.85 175.9L418.87 179.2L418.9 184.4L418.91 187.7L418.93 191L419.1 194.3L419.71 197.6L420.01 197.6L420.59 194.3L420.73 191L420.71 187.7L420.69 184.4L420.66 179.2L420.65 175.9L420.63 172.6L420.61 169.3L420.6 166Z" fill="#ffffff"/>
<path d="M431.7 166L431.72 170.7L431.75 175.4L431.77 180.1L431.79 184.8L431.8 187.6L431.83 192.3L432.06 197L432.64 201.7L434.45 206.4L434.75 206.4L436.51 201.7L437.04 197L437.23 192.3L437.2 187.6L437.19 184.8L437.17 180.1L437.15 175.4L437.12 170.7L437.1 166Z" fill="#292929"/>
<path d="M432.3 166L432.32 169.8L432.34 173.5L432.35 177.3L432.37 181.1L432.38 182L432.4 185.8L432.54 189.5L432.99 193.3L434.4 197L434.7 197L436.07 193.3L436.48 189.5L436.6 185.8L436.58 182L436.57 181.1L436.55 177.3L436.54 173.5L436.52 169.8L436.5 166Z" fill="#454545"/>
<path d="M432.85 166L432.86 168.4L432.87 170.7L432.88 173.1L432.9 175.4L432.92 180.1L432.93 182.5L433 184.8L433.33 187.2L434.36 189.5L434.66 189.5L435.68 187.2L435.98 184.8L436.03 182.5L436.02 180.1L436 175.4L435.98 173.1L435.97 170.7L435.96 168.4L435.95 166Z" fill="#6e6e6e"/>
<path d="M408.26 211.5L406.83 216.2L406.45 220.9L406.38 225.6L406.47 230.3L406.9 252.4L408.42 286.5L408.51 287.2L408.61 288L408.7 288.8L408.8 289.6L413.4 289.6L413.31 288.8L413.21 288L413.12 287.2L413.02 286.5L411.5 252.4L411.07 230.3L410.98 225.6L410.73 220.9L410.17 216.2L408.56 211.5Z" fill="#292929"/>
<path d="M408.36 216.7L407.46 221.4L407.24 226.1L407.28 230.8L407.37 235.5L407.7 252.4L409.22 286.5L409.31 287.2L409.41 288L409.5 288.8L409.6 289.6L412.6 289.6L412.5 288.8L412.41 288L412.31 287.2L412.22 286.5L410.7 252.4L410.37 235.5L410.28 230.8L410.14 226.1L409.74 221.4L408.66 216.7Z" fill="#454545"/>
<path d="M409.34 266.5L408.35 268.4L408.07 270.3L408.05 271.6L408.09 272.6L409.4 288.3L409.44 288.6L409.47 289L409.51 289.3L409.55 289.6L412.65 289.6L412.61 289.3L412.57 289L412.54 288.6L412.5 288.3L411.19 272.6L411.15 271.6L411.05 270.3L410.7 268.4L409.63 266.5Z" fill="#6e6e6e"/>
<path d="M409.49 272.6L408.83 273.4L408.66 274.3L408.7 275.2L408.74 276.1L409.9 288.3L409.94 288.6L409.97 289L410.01 289.3L410.05 289.6L412.15 289.6L412.11 289.3L412.07 289L412.04 288.6L412 288.3L410.84 276.1L410.8 275.2L410.76 274.3L410.52 273.4L409.79 272.6Z" fill="#8c8c8c"/>
<path d="M409.7 277.5L409.26 278.2L409.2 278.8L409.23 279.5L409.26 280.2L410.29 288.6L410.31 288.9L410.34 289.1L410.37 289.3L410.4 289.6L411.8 289.6L411.77 289.3L411.74 289.1L411.71 288.9L411.69 288.6L410.66 280.2L410.63 279.5L410.6 278.8L410.49 278.2L410 277.5Z" fill="#a3a3a3"/>
</g></g>
<text x="30.4" y="179.4" font-size="6.1" text-anchor="middle" fill="#111" >900</text>
<text x="30.4" y="198.8" font-size="6.1" text-anchor="middle" fill="#111" >800</text>
<text x="30.4" y="217" font-size="6.1" text-anchor="middle" fill="#111" >700</text>
<text x="30.4" y="235.1" font-size="6.1" text-anchor="middle" fill="#111" >600</text>
<text x="30.4" y="254.1" font-size="6.1" text-anchor="middle" fill="#111" >500</text>
<text x="30.4" y="272.7" font-size="6.1" text-anchor="middle" fill="#111" >400</text>
<text x="30.4" y="281.7" font-size="6.1" text-anchor="middle" fill="#111" >300</text>
<text x="30.4" y="291.5" font-size="6.1" text-anchor="middle" fill="#111" >25</text>
<text x="57" y="296.1" font-size="5.6" text-anchor="middle" fill="#111" stroke="#111" stroke-width="0.1">12</text>
<text x="92.7" y="296.1" font-size="5.6" text-anchor="middle" fill="#111" stroke="#111" stroke-width="0.1">16</text>
<text x="155.2" y="296.1" font-size="5.6" text-anchor="middle" fill="#111" stroke="#111" stroke-width="0.1">20</text>
<text x="191.4" y="296.1" font-size="5.6" text-anchor="middle" fill="#111" stroke="#111" stroke-width="0.1">24</text>
<text x="266" y="296.1" font-size="5.6" text-anchor="middle" fill="#111" stroke="#111" stroke-width="0.1">32</text>
<text x="302.3" y="296.1" font-size="5.6" text-anchor="middle" fill="#111" stroke="#111" stroke-width="0.1">36</text>
<text x="382.6" y="296.1" font-size="5.6" text-anchor="middle" fill="#111" stroke="#111" stroke-width="0.1">48</text>
<text x="418.6" y="296.1" font-size="5.6" text-anchor="middle" fill="#111" stroke="#111" stroke-width="0.1">52</text>
<path d="M58.9 143.6V161.4" stroke="#e02020" stroke-width="1.3" stroke-dasharray="3.6 2.2" fill="none"/>
<path d="M58.9 159.4V164.4" stroke="#e02020" stroke-width="1.3" fill="none"/>
<path d="M56.5 162.4L58.9 166.4L61.3 162.4Z" fill="#e02020"/>
<path d="M187.6 150V162" stroke="#e02020" stroke-width="1.3" stroke-dasharray="3.6 2.2" fill="none"/>
<path d="M187.6 160V165" stroke="#e02020" stroke-width="1.3" fill="none"/>
<path d="M185.2 163L187.6 167L190 163Z" fill="#e02020"/>
<path d="M263.8 150V162" stroke="#e02020" stroke-width="1.3" stroke-dasharray="3.6 2.2" fill="none"/>
<path d="M263.8 160V165" stroke="#e02020" stroke-width="1.3" fill="none"/>
<path d="M261.4 163L263.8 167L266.2 163Z" fill="#e02020"/>
<path d="M384.3 143.6V162" stroke="#e02020" stroke-width="1.3" stroke-dasharray="3.6 2.2" fill="none"/>
<path d="M384.3 160V165" stroke="#e02020" stroke-width="1.3" fill="none"/>
<path d="M381.9 163L384.3 167L386.7 163Z" fill="#e02020"/>
<path d="M315.6 151.4V156.6" stroke="#e02020" stroke-width="1.3" fill="none"/>
<path d="M313.4 156.6H277" stroke="#e02020" stroke-width="1.3" stroke-dasharray="3.8 2.3" fill="none"/>
<path d="M277.5 156.6H275V163" stroke="#e02020" stroke-width="1.3" fill="none"/>
<path d="M272.6 162.6L275 166.6L277.4 162.6Z" fill="#e02020"/>
<path d="M97.9 310.2V297.6" stroke="#e02020" stroke-width="1.3" stroke-dasharray="3.6 2.2" fill="none"/>
<path d="M97.9 294.6V300.1" stroke="#e02020" stroke-width="1.3" fill="none"/>
<path d="M95.5 296.6L97.9 292.6L100.3 296.6Z" fill="#e02020"/>
<text x="97.9" y="318.6" font-size="8.3" text-anchor="middle" fill="#111" stroke="#111" stroke-width="0.18">(002)</text>
<text x="97.9" y="327.6" font-size="8.3" text-anchor="middle" fill="#111" stroke="#111" stroke-width="0.18">Na<tspan font-size="5.1" dy="1.8">3</tspan><tspan dy="-1.8">V</tspan><tspan font-size="5.1" dy="1.8">2</tspan><tspan dy="-1.8">(PO</tspan><tspan font-size="5.1" dy="1.8">4</tspan><tspan dy="-1.8">)</tspan><tspan font-size="5.1" dy="1.8">2</tspan><tspan dy="-1.8">F</tspan><tspan font-size="5.1" dy="1.8">3</tspan></text>
<path d="M200 310.2V297.6" stroke="#e02020" stroke-width="1.3" stroke-dasharray="3.6 2.2" fill="none"/>
<path d="M200 294.6V300.1" stroke="#e02020" stroke-width="1.3" fill="none"/>
<path d="M197.6 296.6L200 292.6L202.4 296.6Z" fill="#e02020"/>
<text x="200" y="318.6" font-size="8.3" text-anchor="middle" fill="#111" stroke="#111" stroke-width="0.18">(111)</text>
<text x="200" y="327.6" font-size="8.3" text-anchor="middle" fill="#111" stroke="#111" stroke-width="0.18">VPO<tspan font-size="5.1" dy="1.8">4</tspan></text>
<path d="M297 310.2V297.6" stroke="#e02020" stroke-width="1.3" stroke-dasharray="3.6 2.2" fill="none"/>
<path d="M297 294.6V300.1" stroke="#e02020" stroke-width="1.3" fill="none"/>
<path d="M294.6 296.6L297 292.6L299.4 296.6Z" fill="#e02020"/>
<text x="297" y="318.6" font-size="8.3" text-anchor="middle" fill="#111" stroke="#111" stroke-width="0.18">(112)</text>
<text x="297" y="327.6" font-size="8.3" text-anchor="middle" fill="#111" stroke="#111" stroke-width="0.18">VPO<tspan font-size="5.1" dy="1.8">4</tspan></text>
<path d="M328.4 310.2V297.6" stroke="#e02020" stroke-width="1.3" stroke-dasharray="3.6 2.2" fill="none"/>
<path d="M328.4 294.6V300.1" stroke="#e02020" stroke-width="1.3" fill="none"/>
<path d="M326 296.6L328.4 292.6L330.8 296.6Z" fill="#e02020"/>
<text x="328.4" y="318.6" font-size="8.3" text-anchor="middle" fill="#111" stroke="#111" stroke-width="0.18">(002)</text>
<text x="328.4" y="327.6" font-size="8.3" text-anchor="middle" fill="#111" stroke="#111" stroke-width="0.18">NaF</text>
<text x="240.5" y="307.3" font-size="8.4" text-anchor="middle" fill="#111" >Angle (2θ)</text>
<path d="M503.8 177.3V336.8H590.7V177.3" stroke="#111" stroke-width="1.1" fill="none"/>
<path d="M503.3 177.3H591.2" stroke="#e62028" stroke-width="1.1" fill="none"/>
<path d="M590.7 327.9h-2.2M590.7 309h-2.2M590.7 290.2h-2.2M590.7 271.4h-2.2M590.7 252.6h-2.2M590.7 233.8h-2.2M590.7 214.9h-2.2M590.7 196.1h-2.2M590.7 177.3h-2.2M590.7 337.3h-1.2M590.7 318.5h-1.2M590.7 299.6h-1.2M590.7 280.8h-1.2M590.7 262h-1.2M590.7 243.2h-1.2M590.7 224.4h-1.2M590.7 205.5h-1.2M590.7 186.7h-1.2M503.8 336.8v-1.2M512.4 336.8v-2.2M521 336.8v-1.2M529.6 336.8v-2.2M538.2 336.8v-1.2M546.8 336.8v-2.2M555.4 336.8v-1.2M564 336.8v-2.2M572.6 336.8v-1.2M581.2 336.8v-2.2M589.8 336.8v-1.2" stroke="#111" stroke-width="0.8" fill="none"/>
<path d="M503.8 177.3v2.2M514.7 177.3v1.2M525.5 177.3v2.2M536.4 177.3v1.2M547.2 177.3v2.2M558.1 177.3v1.2M569 177.3v2.2M579.8 177.3v1.2M590.7 177.3v2.2" stroke="#e62028" stroke-width="0.8" fill="none"/>
<path d="M583 177.3C582 182 581 187 580.4 191S578.8 199 578 202.4C577.6 203.8 576.8 204.2 575.3 204.5C569 206 563 207.4 557.8 208.6S546 212 541.4 213.7S536 215.5 534.2 216.8S531 220 530 222S527.8 228.5 527 232.2S525 242 524 246.6S522.5 252 521.9 255.4S520.4 266 519.8 271S518.3 286 517.7 293.4S515.8 309 514.7 316S511.8 326.5 510.6 330.4S510 334 510.6 336.5" stroke="#111" stroke-width="1.3" fill="none"/>
<path d="M536.2 177.3C538 179 540.5 180.6 542.4 181.9S547 187.5 548.6 190S551.4 193 551.7 195.2S552.2 201 552.3 203.4C552.6 204.6 555.6 204.2 555.4 205S552.5 205.8 552.7 206.5S553.9 208 553.7 209.6S552.8 213 551.7 214.7S547.4 219 545.5 221S542.2 225.4 541.4 228S539.6 233.6 539.3 236.3S538 245 537.7 246.6L536.9 250.3C536.9 257 537.2 264 537.3 271S538 292 538.3 301.7S539.8 316 540.4 322L541.6 336.5" stroke="#e62028" stroke-width="1.15" fill="none"/>
<text x="547" y="168" font-size="6.9" text-anchor="middle" fill="#e62028" stroke="#e62028" stroke-width="0.15">Heat Flow (W g<tspan font-size="4.4" dy="-2.6">-1</tspan><tspan dy="2.6">)</tspan></text>
<text x="504" y="175.4" font-size="4.8" text-anchor="middle" fill="#e62028" >4</text>
<text x="525.5" y="175.4" font-size="4.8" text-anchor="middle" fill="#e62028" >2</text>
<text x="547.2" y="175.4" font-size="4.8" text-anchor="middle" fill="#e62028" >0</text>
<text x="568.5" y="175.4" font-size="4.8" text-anchor="middle" fill="#e62028" >-2</text>
<text x="591" y="175.4" font-size="4.8" text-anchor="middle" fill="#e62028" >-4</text>
<text x="597.6" y="329.7" font-size="5.1" text-anchor="middle" fill="#111" stroke="#111" stroke-width="0.12">100</text>
<text x="597.6" y="310.8" font-size="5.1" text-anchor="middle" fill="#111" stroke="#111" stroke-width="0.12">200</text>
<text x="597.6" y="292" font-size="5.1" text-anchor="middle" fill="#111" stroke="#111" stroke-width="0.12">300</text>
<text x="597.6" y="273.2" font-size="5.1" text-anchor="middle" fill="#111" stroke="#111" stroke-width="0.12">400</text>
<text x="597.6" y="254.4" font-size="5.1" text-anchor="middle" fill="#111" stroke="#111" stroke-width="0.12">500</text>
<text x="597.6" y="235.6" font-size="5.1" text-anchor="middle" fill="#111" stroke="#111" stroke-width="0.12">600</text>
<text x="597.6" y="216.7" font-size="5.1" text-anchor="middle" fill="#111" stroke="#111" stroke-width="0.12">700</text>
<text x="597.6" y="197.9" font-size="5.1" text-anchor="middle" fill="#111" stroke="#111" stroke-width="0.12">800</text>
<text x="597.6" y="179.1" font-size="5.1" text-anchor="middle" fill="#111" stroke="#111" stroke-width="0.12">900</text>
<text x="512.2" y="343.6" font-size="5.3" text-anchor="middle" fill="#111" stroke="#111" stroke-width="0.12">100</text>
<text x="529" y="343.6" font-size="5.3" text-anchor="middle" fill="#111" stroke="#111" stroke-width="0.12">98</text>
<text x="546.5" y="343.6" font-size="5.3" text-anchor="middle" fill="#111" stroke="#111" stroke-width="0.12">96</text>
<text x="564.4" y="343.6" font-size="5.3" text-anchor="middle" fill="#111" stroke="#111" stroke-width="0.12">94</text>
<text x="581.5" y="343.6" font-size="5.3" text-anchor="middle" fill="#111" stroke="#111" stroke-width="0.12">92</text>
<text x="547" y="351.6" font-size="7.0" text-anchor="middle" fill="#111" stroke="#111" stroke-width="0.18">Mass (%)</text>
<text transform="translate(608.2,256) rotate(-90)" font-size="6.6" text-anchor="middle" fill="#111">Temperature (°C)</text>
<path d="M37.8 187.3H590.7" stroke="#ea10b4" stroke-width="1.3" fill="none" opacity="0.82"/>
<path d="M37.8 214.0H590.7" stroke="#ea10b4" stroke-width="1.3" fill="none" opacity="0.82"/>
<path d="M37.8 271.2H590.7" stroke="#ea10b4" stroke-width="1.3" fill="none" opacity="0.82"/>
<text x="7.5" y="351.6" font-size="16" text-anchor="start" fill="#111" >(c)</text>
<rect x="61.7" y="356.2" width="16.4" height="106.8" fill="url(#cb)"/>
<text x="76.8" y="342.4" font-size="8.3" text-anchor="middle" fill="#111" >Intensity</text>
<text x="76.8" y="353" font-size="8.3" text-anchor="middle" fill="#111" >(N)</text>
<text x="81.4" y="358.8" font-size="5.4" text-anchor="start" fill="#111" >500.0</text>
<text x="81.4" y="385.2" font-size="5.4" text-anchor="start" fill="#111" >375.0</text>
<text x="81.4" y="411.7" font-size="5.4" text-anchor="start" fill="#111" >250.0</text>
<text x="81.4" y="438.1" font-size="5.4" text-anchor="start" fill="#111" >125.0</text>
<text x="81.4" y="464.6" font-size="5.4" text-anchor="start" fill="#111" >0.000</text>
<rect x="173.6" y="356.2" width="16.4" height="106.8" fill="url(#cb)"/>
<text x="187.2" y="342.4" font-size="8.3" text-anchor="middle" fill="#111" >Intensity</text>
<text x="187.2" y="353" font-size="8.3" text-anchor="middle" fill="#111" >(N)</text>
<text x="193.4" y="358.8" font-size="5.4" text-anchor="start" fill="#111" >1400</text>
<text x="193.4" y="385.2" font-size="5.4" text-anchor="start" fill="#111" >1050</text>
<text x="193.4" y="411.7" font-size="5.4" text-anchor="start" fill="#111" >700.0</text>
<text x="193.4" y="438.1" font-size="5.4" text-anchor="start" fill="#111" >350.0</text>
<text x="193.4" y="464.6" font-size="5.4" text-anchor="start" fill="#111" >0.000</text>
<rect x="281.4" y="356.2" width="16.4" height="106.8" fill="url(#cb)"/>
<text x="296.2" y="342.4" font-size="8.3" text-anchor="middle" fill="#111" >Intensity</text>
<text x="296.2" y="353" font-size="8.3" text-anchor="middle" fill="#111" >(N)</text>
<text x="301.5" y="358.8" font-size="5.4" text-anchor="start" fill="#111" >1500</text>
<text x="301.5" y="385.2" font-size="5.4" text-anchor="start" fill="#111" >1125</text>
<text x="301.5" y="411.7" font-size="5.4" text-anchor="start" fill="#111" >750.0</text>
<text x="301.5" y="438.1" font-size="5.4" text-anchor="start" fill="#111" >375.0</text>
<text x="301.5" y="464.6" font-size="5.4" text-anchor="start" fill="#111" >0.000</text>
<rect x="392.5" y="356.2" width="16.4" height="106.8" fill="url(#cb)"/>
<text x="407" y="342.4" font-size="8.3" text-anchor="middle" fill="#111" >Intensity</text>
<text x="407" y="353" font-size="8.3" text-anchor="middle" fill="#111" >(N)</text>
<text x="412.6" y="358.8" font-size="5.4" text-anchor="start" fill="#111" >400.0</text>
<text x="412.6" y="385.2" font-size="5.4" text-anchor="start" fill="#111" >305.0</text>
<text x="412.6" y="411.7" font-size="5.4" text-anchor="start" fill="#111" >210.0</text>
<text x="412.6" y="438.1" font-size="5.4" text-anchor="start" fill="#111" >115.0</text>
<text x="412.6" y="464.6" font-size="5.4" text-anchor="start" fill="#111" >20.00</text>
</svg>
</body></html>
